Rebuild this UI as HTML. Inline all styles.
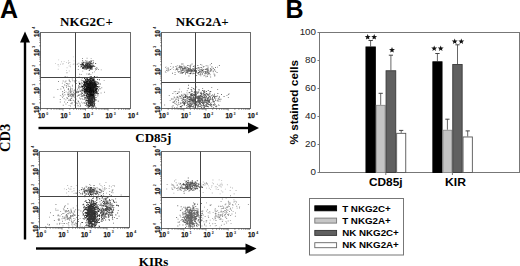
<!DOCTYPE html>
<html><head><meta charset="utf-8"><style>
html,body{margin:0;padding:0;background:#fff;width:520px;height:266px;overflow:hidden}
svg{display:block}
text{font-family:"Liberation Sans",sans-serif}
.pl{font-weight:bold;font-size:25px}
.ft{font-family:"Liberation Serif",serif;font-weight:bold;font-size:13px}
.ax{font-family:"Liberation Serif",serif;font-weight:bold;font-size:13px}
.tl{font-weight:bold;font-size:7.6px;fill:#111;stroke:#111;stroke-width:0.25px}
.sup{font-size:3.6px;font-weight:bold;fill:#222}
.yl{font-size:9.8px;fill:#222}
.yt{font-weight:bold;font-size:11.8px}
.xl{font-weight:bold;font-size:11.2px}
.st{font-weight:bold;font-size:12px}
.lg{font-weight:bold;font-size:9.3px}
</style></head><body>
<svg width="520" height="266" viewBox="0 0 520 266"><defs><filter id="bl" x="-5%" y="-5%" width="110%" height="110%"><feGaussianBlur stdDeviation="0.4"/></filter></defs><rect width="520" height="266" fill="#fff"/><text x="0" y="18" class="pl">A</text><text x="285.5" y="18" class="pl">B</text><text x="60" y="26.1" class="ft">NKG2C+</text><text x="175.8" y="26.1" class="ft">NKG2A+</text><g filter="url(#bl)"><path d="M86.8 66.3h.9v.9h-.9zM86.9 64.7h.9v.9h-.9zM84.9 64.9h.9v.9h-.9zM90.6 66.1h.9v.9h-.9zM90.4 65.8h.9v.9h-.9zM88.6 65.7h.9v.9h-.9zM82.8 67.0h.9v.9h-.9zM88.9 66.3h.9v.9h-.9zM82.8 61.8h.9v.9h-.9zM85.0 64.4h.9v.9h-.9zM88.4 65.2h.9v.9h-.9zM89.0 64.0h.9v.9h-.9zM88.4 66.1h.9v.9h-.9zM85.6 68.7h.9v.9h-.9zM89.1 67.7h.9v.9h-.9zM85.8 63.8h.9v.9h-.9zM86.5 65.1h.9v.9h-.9zM89.3 65.8h.9v.9h-.9zM86.2 63.4h.9v.9h-.9zM86.0 67.7h.9v.9h-.9zM85.2 65.8h.9v.9h-.9zM88.7 62.3h.9v.9h-.9zM87.6 67.9h.9v.9h-.9zM81.9 64.7h.9v.9h-.9zM87.2 63.7h.9v.9h-.9zM88.9 65.2h.9v.9h-.9zM83.4 67.0h.9v.9h-.9zM89.4 67.2h.9v.9h-.9zM91.5 66.0h.9v.9h-.9zM87.8 62.7h.9v.9h-.9zM89.2 64.1h.9v.9h-.9zM86.2 62.8h.9v.9h-.9zM84.8 64.2h.9v.9h-.9zM91.1 61.2h.9v.9h-.9zM83.4 65.8h.9v.9h-.9zM91.5 66.5h.9v.9h-.9zM82.2 60.3h.9v.9h-.9zM88.5 63.8h.9v.9h-.9zM84.4 67.3h.9v.9h-.9zM90.6 65.6h.9v.9h-.9zM88.2 66.2h.9v.9h-.9zM92.0 66.5h.9v.9h-.9zM89.0 66.4h.9v.9h-.9zM83.1 67.9h.9v.9h-.9zM90.2 66.4h.9v.9h-.9zM82.0 64.0h.9v.9h-.9zM89.9 61.7h.9v.9h-.9zM87.0 67.3h.9v.9h-.9zM83.8 68.5h.9v.9h-.9zM89.0 65.0h.9v.9h-.9zM88.4 66.6h.9v.9h-.9zM87.8 67.6h.9v.9h-.9zM85.6 64.5h.9v.9h-.9zM90.4 65.4h.9v.9h-.9zM85.0 67.2h.9v.9h-.9zM91.6 64.4h.9v.9h-.9zM83.6 65.0h.9v.9h-.9zM87.1 64.7h.9v.9h-.9zM91.4 63.2h.9v.9h-.9zM91.0 62.8h.9v.9h-.9zM85.3 66.6h.9v.9h-.9zM90.7 67.0h.9v.9h-.9zM88.5 65.6h.9v.9h-.9zM87.9 66.5h.9v.9h-.9zM87.0 65.9h.9v.9h-.9zM89.1 65.3h.9v.9h-.9zM89.6 66.4h.9v.9h-.9zM93.1 65.9h.9v.9h-.9zM86.3 64.6h.9v.9h-.9zM87.5 67.1h.9v.9h-.9zM86.6 66.1h.9v.9h-.9zM92.6 60.2h.9v.9h-.9zM84.4 65.8h.9v.9h-.9zM88.6 65.8h.9v.9h-.9zM86.3 66.6h.9v.9h-.9zM88.3 64.3h.9v.9h-.9zM94.3 66.0h.9v.9h-.9zM85.9 65.1h.9v.9h-.9zM86.9 65.2h.9v.9h-.9zM79.9 64.3h.9v.9h-.9zM90.3 63.0h.9v.9h-.9zM87.3 67.2h.9v.9h-.9zM89.9 68.3h.9v.9h-.9zM82.7 64.6h.9v.9h-.9zM86.5 66.5h.9v.9h-.9zM90.6 59.9h.9v.9h-.9zM90.5 62.4h.9v.9h-.9zM89.4 62.3h.9v.9h-.9zM88.0 67.7h.9v.9h-.9zM87.1 65.7h.9v.9h-.9zM89.7 65.6h.9v.9h-.9zM87.3 68.4h.9v.9h-.9zM90.4 64.7h.9v.9h-.9zM95.2 63.0h.9v.9h-.9zM90.1 64.8h.9v.9h-.9zM87.9 66.7h.9v.9h-.9zM88.1 66.6h.9v.9h-.9zM83.2 62.3h.9v.9h-.9zM89.2 63.4h.9v.9h-.9zM84.6 62.4h.9v.9h-.9zM91.0 66.8h.9v.9h-.9zM91.6 63.4h.9v.9h-.9zM87.5 63.0h.9v.9h-.9zM89.6 68.5h.9v.9h-.9zM85.0 68.4h.9v.9h-.9zM90.3 64.9h.9v.9h-.9zM82.0 68.1h.9v.9h-.9zM87.2 64.1h.9v.9h-.9zM88.6 66.1h.9v.9h-.9zM91.7 63.3h.9v.9h-.9zM90.7 68.3h.9v.9h-.9zM91.6 64.9h.9v.9h-.9zM85.4 67.3h.9v.9h-.9zM87.8 65.5h.9v.9h-.9zM91.5 64.8h.9v.9h-.9zM81.1 64.5h.9v.9h-.9zM82.3 66.9h.9v.9h-.9zM88.4 64.1h.9v.9h-.9zM87.5 67.0h.9v.9h-.9zM87.7 68.0h.9v.9h-.9zM87.3 67.4h.9v.9h-.9zM91.7 68.5h.9v.9h-.9zM85.6 67.1h.9v.9h-.9zM82.2 63.1h.9v.9h-.9zM82.0 67.4h.9v.9h-.9zM84.1 65.3h.9v.9h-.9zM87.0 65.2h.9v.9h-.9zM85.8 65.8h.9v.9h-.9zM92.5 65.4h.9v.9h-.9zM89.0 67.3h.9v.9h-.9zM86.9 62.8h.9v.9h-.9zM85.9 67.4h.9v.9h-.9zM82.9 64.1h.9v.9h-.9zM90.3 66.9h.9v.9h-.9zM87.5 66.9h.9v.9h-.9zM88.0 62.9h.9v.9h-.9zM83.1 64.0h.9v.9h-.9zM90.1 64.2h.9v.9h-.9zM85.0 63.8h.9v.9h-.9zM83.2 65.1h.9v.9h-.9zM84.2 66.0h.9v.9h-.9zM80.9 66.0h.9v.9h-.9zM85.7 61.4h.9v.9h-.9zM89.5 64.7h.9v.9h-.9zM81.3 63.5h.9v.9h-.9zM88.3 64.4h.9v.9h-.9zM89.7 66.8h.9v.9h-.9zM89.4 66.0h.9v.9h-.9zM91.2 66.6h.9v.9h-.9zM88.8 61.1h.9v.9h-.9zM90.0 67.9h.9v.9h-.9zM86.7 64.4h.9v.9h-.9zM92.9 61.8h.9v.9h-.9zM88.8 70.1h.9v.9h-.9zM84.9 66.7h.9v.9h-.9zM92.8 65.1h.9v.9h-.9zM89.1 67.1h.9v.9h-.9zM85.0 65.1h.9v.9h-.9zM88.3 67.0h.9v.9h-.9zM87.4 64.9h.9v.9h-.9z" fill="#000" fill-opacity="0.75"/><path d="M82.4 64.9h.9v.9h-.9zM92.0 66.3h.9v.9h-.9zM83.2 63.5h.9v.9h-.9zM100.8 69.4h.9v.9h-.9zM90.7 58.2h.9v.9h-.9zM90.6 67.4h.9v.9h-.9zM95.9 67.3h.9v.9h-.9zM87.2 67.6h.9v.9h-.9zM77.8 69.1h.9v.9h-.9zM89.1 63.9h.9v.9h-.9zM94.1 71.4h.9v.9h-.9zM80.5 64.0h.9v.9h-.9zM89.0 66.6h.9v.9h-.9zM85.5 63.1h.9v.9h-.9zM98.1 69.1h.9v.9h-.9zM81.5 62.0h.9v.9h-.9zM96.0 69.0h.9v.9h-.9zM96.6 68.4h.9v.9h-.9zM83.1 66.8h.9v.9h-.9zM76.7 63.8h.9v.9h-.9zM87.2 67.6h.9v.9h-.9zM83.9 65.6h.9v.9h-.9zM89.8 67.1h.9v.9h-.9zM90.7 66.6h.9v.9h-.9zM85.9 68.4h.9v.9h-.9zM87.7 63.5h.9v.9h-.9zM84.4 66.0h.9v.9h-.9zM87.0 66.5h.9v.9h-.9zM87.5 66.5h.9v.9h-.9zM86.8 62.2h.9v.9h-.9zM89.6 69.2h.9v.9h-.9zM89.7 65.4h.9v.9h-.9zM89.7 63.1h.9v.9h-.9zM78.0 66.2h.9v.9h-.9zM82.8 68.2h.9v.9h-.9zM82.1 58.1h.9v.9h-.9zM82.3 70.7h.9v.9h-.9zM85.6 61.9h.9v.9h-.9zM83.7 67.6h.9v.9h-.9zM90.0 66.5h.9v.9h-.9zM94.9 68.1h.9v.9h-.9zM87.4 67.8h.9v.9h-.9zM95.8 68.9h.9v.9h-.9zM92.6 62.8h.9v.9h-.9zM86.8 68.2h.9v.9h-.9zM86.0 69.2h.9v.9h-.9zM90.5 68.7h.9v.9h-.9zM86.4 73.6h.9v.9h-.9zM93.7 65.4h.9v.9h-.9zM88.0 73.8h.9v.9h-.9zM85.8 68.6h.9v.9h-.9zM92.4 66.0h.9v.9h-.9zM81.7 66.6h.9v.9h-.9zM89.3 69.4h.9v.9h-.9zM91.4 66.1h.9v.9h-.9zM91.8 67.6h.9v.9h-.9zM88.5 66.2h.9v.9h-.9zM86.3 68.1h.9v.9h-.9zM82.2 64.1h.9v.9h-.9zM87.5 61.6h.9v.9h-.9zM85.3 60.0h.9v.9h-.9zM84.1 67.7h.9v.9h-.9zM90.3 65.8h.9v.9h-.9zM86.3 61.7h.9v.9h-.9zM96.6 67.5h.9v.9h-.9zM93.0 63.4h.9v.9h-.9zM86.6 60.5h.9v.9h-.9zM91.4 68.8h.9v.9h-.9zM78.0 65.8h.9v.9h-.9zM90.7 60.7h.9v.9h-.9zM78.4 62.8h.9v.9h-.9zM84.4 61.8h.9v.9h-.9zM87.7 66.7h.9v.9h-.9zM90.7 68.1h.9v.9h-.9zM95.0 69.5h.9v.9h-.9zM80.9 64.5h.9v.9h-.9zM82.2 62.8h.9v.9h-.9zM87.1 66.0h.9v.9h-.9zM90.0 61.2h.9v.9h-.9zM81.3 65.9h.9v.9h-.9zM86.5 65.1h.9v.9h-.9zM87.2 63.7h.9v.9h-.9zM91.0 67.1h.9v.9h-.9zM87.1 64.0h.9v.9h-.9zM86.6 57.8h.9v.9h-.9zM82.6 66.1h.9v.9h-.9zM80.0 66.6h.9v.9h-.9zM88.2 61.9h.9v.9h-.9zM86.2 65.1h.9v.9h-.9zM89.8 67.8h.9v.9h-.9z" fill="#000" fill-opacity="0.45"/><path d="M63.7 60.9h.9v.9h-.9zM62.8 63.3h.9v.9h-.9zM69.9 64.4h.9v.9h-.9zM58.2 59.4h.9v.9h-.9zM61.0 61.3h.9v.9h-.9zM55.1 63.2h.9v.9h-.9zM60.1 63.8h.9v.9h-.9zM68.2 62.3h.9v.9h-.9zM82.6 62.5h.9v.9h-.9zM72.8 63.9h.9v.9h-.9zM72.9 56.4h.9v.9h-.9zM58.0 64.2h.9v.9h-.9zM68.8 70.5h.9v.9h-.9zM66.6 67.3h.9v.9h-.9zM70.1 66.3h.9v.9h-.9zM68.1 63.0h.9v.9h-.9zM68.1 60.3h.9v.9h-.9zM73.5 60.4h.9v.9h-.9zM66.0 69.9h.9v.9h-.9zM62.2 63.6h.9v.9h-.9zM73.3 63.6h.9v.9h-.9zM57.5 64.3h.9v.9h-.9zM68.7 65.6h.9v.9h-.9zM57.8 68.8h.9v.9h-.9zM77.3 63.6h.9v.9h-.9zM66.1 62.2h.9v.9h-.9zM75.3 61.4h.9v.9h-.9zM69.4 62.1h.9v.9h-.9zM58.4 65.7h.9v.9h-.9zM74.7 63.5h.9v.9h-.9z" fill="#000" fill-opacity="0.25"/><path d="M87.8 88.9h.9v.9h-.9zM89.8 87.1h.9v.9h-.9zM94.9 90.1h.9v.9h-.9zM88.3 94.2h.9v.9h-.9zM90.0 88.8h.9v.9h-.9zM87.9 85.8h.9v.9h-.9zM84.4 92.4h.9v.9h-.9zM94.4 81.6h.9v.9h-.9zM85.2 80.2h.9v.9h-.9zM93.8 84.3h.9v.9h-.9zM89.8 84.9h.9v.9h-.9zM89.6 82.1h.9v.9h-.9zM90.1 80.8h.9v.9h-.9zM89.8 87.1h.9v.9h-.9zM91.5 85.2h.9v.9h-.9zM87.1 86.6h.9v.9h-.9zM88.4 91.6h.9v.9h-.9zM92.5 85.6h.9v.9h-.9zM88.5 83.5h.9v.9h-.9zM87.0 84.7h.9v.9h-.9zM90.9 87.9h.9v.9h-.9zM91.8 93.6h.9v.9h-.9zM87.7 86.0h.9v.9h-.9zM98.9 79.3h.9v.9h-.9zM88.3 86.6h.9v.9h-.9zM90.5 87.5h.9v.9h-.9zM89.2 87.3h.9v.9h-.9zM90.2 88.8h.9v.9h-.9zM83.9 82.8h.9v.9h-.9zM90.0 82.3h.9v.9h-.9zM86.7 88.3h.9v.9h-.9zM87.9 88.3h.9v.9h-.9zM92.4 87.1h.9v.9h-.9zM91.6 85.6h.9v.9h-.9zM85.5 85.9h.9v.9h-.9zM91.5 84.1h.9v.9h-.9zM89.7 88.7h.9v.9h-.9zM87.2 88.3h.9v.9h-.9zM96.0 84.0h.9v.9h-.9zM90.5 85.5h.9v.9h-.9zM94.9 87.1h.9v.9h-.9zM92.9 83.5h.9v.9h-.9zM89.9 86.0h.9v.9h-.9zM84.3 91.2h.9v.9h-.9zM92.9 79.7h.9v.9h-.9zM92.4 85.5h.9v.9h-.9zM91.4 87.3h.9v.9h-.9zM85.2 85.2h.9v.9h-.9zM94.8 83.9h.9v.9h-.9zM86.7 81.1h.9v.9h-.9zM86.1 87.2h.9v.9h-.9zM95.4 87.5h.9v.9h-.9zM90.8 94.0h.9v.9h-.9zM88.3 83.6h.9v.9h-.9zM91.7 88.0h.9v.9h-.9zM86.8 81.8h.9v.9h-.9zM90.9 86.9h.9v.9h-.9zM85.8 85.3h.9v.9h-.9zM88.3 87.7h.9v.9h-.9zM89.6 85.7h.9v.9h-.9zM88.9 89.8h.9v.9h-.9zM94.5 84.7h.9v.9h-.9zM92.7 83.3h.9v.9h-.9zM90.2 88.7h.9v.9h-.9zM94.8 84.6h.9v.9h-.9zM89.8 86.7h.9v.9h-.9zM85.2 86.1h.9v.9h-.9zM87.8 87.3h.9v.9h-.9zM86.4 78.9h.9v.9h-.9zM90.1 86.9h.9v.9h-.9zM88.2 89.2h.9v.9h-.9zM89.1 83.8h.9v.9h-.9zM91.5 80.4h.9v.9h-.9zM87.8 85.9h.9v.9h-.9zM92.7 85.4h.9v.9h-.9zM91.0 83.6h.9v.9h-.9zM91.0 92.0h.9v.9h-.9zM87.8 94.5h.9v.9h-.9zM87.9 86.1h.9v.9h-.9zM90.6 89.7h.9v.9h-.9zM86.0 78.4h.9v.9h-.9zM91.9 88.9h.9v.9h-.9zM92.0 95.5h.9v.9h-.9zM90.7 86.9h.9v.9h-.9zM93.0 87.3h.9v.9h-.9zM95.3 81.5h.9v.9h-.9zM88.8 73.6h.9v.9h-.9zM92.6 84.7h.9v.9h-.9zM93.0 93.8h.9v.9h-.9zM90.0 85.1h.9v.9h-.9zM88.4 83.0h.9v.9h-.9zM88.0 88.3h.9v.9h-.9zM90.1 86.2h.9v.9h-.9zM89.4 89.3h.9v.9h-.9zM91.6 85.5h.9v.9h-.9zM92.1 85.5h.9v.9h-.9zM86.3 91.2h.9v.9h-.9zM91.5 82.6h.9v.9h-.9zM93.5 87.2h.9v.9h-.9zM85.0 91.8h.9v.9h-.9zM91.1 89.2h.9v.9h-.9zM90.6 85.5h.9v.9h-.9zM85.0 89.5h.9v.9h-.9zM90.1 85.0h.9v.9h-.9zM91.1 86.3h.9v.9h-.9zM92.2 84.7h.9v.9h-.9zM89.9 78.3h.9v.9h-.9zM88.6 88.4h.9v.9h-.9zM94.3 84.7h.9v.9h-.9zM89.6 91.7h.9v.9h-.9zM89.0 88.6h.9v.9h-.9zM95.4 86.1h.9v.9h-.9zM93.9 83.4h.9v.9h-.9zM90.7 85.7h.9v.9h-.9zM90.4 90.1h.9v.9h-.9zM97.6 83.6h.9v.9h-.9zM88.2 87.8h.9v.9h-.9zM86.6 87.8h.9v.9h-.9zM91.8 85.0h.9v.9h-.9zM91.7 80.4h.9v.9h-.9zM92.4 80.4h.9v.9h-.9zM87.8 84.0h.9v.9h-.9zM88.7 89.1h.9v.9h-.9zM90.3 84.6h.9v.9h-.9zM91.7 91.7h.9v.9h-.9zM90.0 87.3h.9v.9h-.9zM94.0 87.0h.9v.9h-.9zM85.9 95.0h.9v.9h-.9zM97.1 78.9h.9v.9h-.9zM89.9 87.5h.9v.9h-.9zM93.1 88.4h.9v.9h-.9zM89.1 82.2h.9v.9h-.9zM90.3 89.7h.9v.9h-.9zM86.5 82.3h.9v.9h-.9zM89.9 79.0h.9v.9h-.9zM89.2 84.4h.9v.9h-.9zM91.4 83.5h.9v.9h-.9zM87.2 84.6h.9v.9h-.9zM89.8 83.6h.9v.9h-.9zM90.0 88.7h.9v.9h-.9zM93.8 92.1h.9v.9h-.9zM87.5 84.5h.9v.9h-.9zM82.1 92.8h.9v.9h-.9zM87.7 85.9h.9v.9h-.9zM91.7 81.1h.9v.9h-.9zM91.5 85.9h.9v.9h-.9zM84.2 87.1h.9v.9h-.9zM93.8 79.3h.9v.9h-.9zM92.6 86.8h.9v.9h-.9zM91.5 87.6h.9v.9h-.9zM94.2 85.2h.9v.9h-.9zM92.8 84.5h.9v.9h-.9zM92.3 83.1h.9v.9h-.9zM89.7 92.2h.9v.9h-.9zM91.4 85.4h.9v.9h-.9zM86.3 83.2h.9v.9h-.9zM90.6 89.4h.9v.9h-.9zM91.4 87.9h.9v.9h-.9zM89.9 90.9h.9v.9h-.9zM88.7 84.0h.9v.9h-.9zM92.8 86.2h.9v.9h-.9zM89.1 83.9h.9v.9h-.9zM89.2 88.2h.9v.9h-.9zM91.1 81.6h.9v.9h-.9zM91.4 86.6h.9v.9h-.9zM86.8 88.8h.9v.9h-.9zM89.1 84.8h.9v.9h-.9zM92.5 90.8h.9v.9h-.9zM87.8 87.6h.9v.9h-.9zM87.2 94.3h.9v.9h-.9zM88.4 90.3h.9v.9h-.9zM87.9 88.9h.9v.9h-.9zM97.1 76.9h.9v.9h-.9zM88.6 87.8h.9v.9h-.9zM89.7 83.6h.9v.9h-.9zM96.9 86.3h.9v.9h-.9zM84.7 89.1h.9v.9h-.9zM84.5 90.1h.9v.9h-.9zM88.2 86.5h.9v.9h-.9zM94.0 86.4h.9v.9h-.9zM85.5 79.9h.9v.9h-.9zM93.8 88.7h.9v.9h-.9zM87.4 89.1h.9v.9h-.9zM91.6 88.3h.9v.9h-.9zM82.8 84.9h.9v.9h-.9zM92.9 88.6h.9v.9h-.9zM92.8 77.2h.9v.9h-.9zM90.5 87.8h.9v.9h-.9zM98.2 82.6h.9v.9h-.9zM88.9 86.1h.9v.9h-.9zM92.8 84.4h.9v.9h-.9zM93.7 83.2h.9v.9h-.9zM90.9 84.1h.9v.9h-.9zM90.5 83.5h.9v.9h-.9zM84.9 89.9h.9v.9h-.9zM91.0 84.0h.9v.9h-.9zM90.6 89.6h.9v.9h-.9zM86.9 85.6h.9v.9h-.9zM91.7 87.9h.9v.9h-.9zM88.9 78.4h.9v.9h-.9zM94.0 87.2h.9v.9h-.9zM90.0 85.0h.9v.9h-.9zM90.8 84.5h.9v.9h-.9zM86.7 83.3h.9v.9h-.9zM88.1 83.8h.9v.9h-.9zM86.3 88.3h.9v.9h-.9zM85.8 88.4h.9v.9h-.9zM86.8 87.3h.9v.9h-.9zM94.4 86.7h.9v.9h-.9zM87.7 86.2h.9v.9h-.9zM90.5 79.8h.9v.9h-.9zM88.1 86.6h.9v.9h-.9zM88.5 86.3h.9v.9h-.9zM92.3 88.8h.9v.9h-.9zM92.9 88.1h.9v.9h-.9zM89.1 85.9h.9v.9h-.9zM89.1 84.9h.9v.9h-.9zM89.4 79.8h.9v.9h-.9zM88.9 85.9h.9v.9h-.9zM86.9 85.9h.9v.9h-.9zM91.6 85.4h.9v.9h-.9zM96.6 76.6h.9v.9h-.9zM89.3 79.4h.9v.9h-.9zM93.1 95.6h.9v.9h-.9zM82.0 86.5h.9v.9h-.9zM91.7 84.9h.9v.9h-.9zM91.8 77.9h.9v.9h-.9zM92.7 87.3h.9v.9h-.9zM90.1 83.9h.9v.9h-.9zM92.0 84.3h.9v.9h-.9zM90.7 84.2h.9v.9h-.9zM82.8 85.9h.9v.9h-.9zM90.6 88.7h.9v.9h-.9zM87.2 85.9h.9v.9h-.9zM92.0 86.5h.9v.9h-.9zM94.0 93.2h.9v.9h-.9zM87.1 79.1h.9v.9h-.9zM92.7 91.5h.9v.9h-.9zM93.0 88.9h.9v.9h-.9zM88.0 83.4h.9v.9h-.9zM92.8 82.7h.9v.9h-.9zM84.2 82.4h.9v.9h-.9zM98.0 92.9h.9v.9h-.9zM87.8 83.4h.9v.9h-.9zM90.7 83.3h.9v.9h-.9zM94.2 85.7h.9v.9h-.9zM86.5 90.7h.9v.9h-.9zM88.1 86.8h.9v.9h-.9zM90.0 84.9h.9v.9h-.9zM91.0 83.5h.9v.9h-.9zM84.1 78.1h.9v.9h-.9zM85.9 83.3h.9v.9h-.9zM89.9 86.2h.9v.9h-.9zM91.8 86.4h.9v.9h-.9zM87.5 83.4h.9v.9h-.9zM83.2 85.4h.9v.9h-.9zM91.6 87.9h.9v.9h-.9zM89.6 85.4h.9v.9h-.9zM93.0 86.1h.9v.9h-.9zM92.4 88.1h.9v.9h-.9zM90.7 90.7h.9v.9h-.9zM88.2 84.7h.9v.9h-.9zM87.4 83.1h.9v.9h-.9zM95.0 92.3h.9v.9h-.9zM90.1 88.0h.9v.9h-.9zM93.8 88.9h.9v.9h-.9zM93.9 81.5h.9v.9h-.9zM88.0 87.6h.9v.9h-.9zM94.6 86.4h.9v.9h-.9zM87.3 84.7h.9v.9h-.9zM87.9 82.9h.9v.9h-.9zM94.8 83.7h.9v.9h-.9zM90.1 93.8h.9v.9h-.9zM93.8 87.2h.9v.9h-.9zM88.0 87.5h.9v.9h-.9zM95.2 88.2h.9v.9h-.9zM94.0 86.4h.9v.9h-.9zM91.7 85.3h.9v.9h-.9zM91.4 90.7h.9v.9h-.9zM85.4 85.8h.9v.9h-.9zM90.8 83.9h.9v.9h-.9zM89.0 88.8h.9v.9h-.9zM96.4 88.3h.9v.9h-.9zM91.0 80.4h.9v.9h-.9zM96.2 86.3h.9v.9h-.9zM89.9 82.0h.9v.9h-.9zM89.8 82.1h.9v.9h-.9zM90.2 87.7h.9v.9h-.9zM90.1 87.0h.9v.9h-.9zM87.3 91.1h.9v.9h-.9zM87.9 79.5h.9v.9h-.9zM89.4 83.3h.9v.9h-.9zM86.8 84.7h.9v.9h-.9zM90.9 81.7h.9v.9h-.9zM89.6 91.1h.9v.9h-.9zM92.2 85.5h.9v.9h-.9zM90.4 85.6h.9v.9h-.9zM89.8 88.6h.9v.9h-.9zM89.7 77.3h.9v.9h-.9zM89.9 82.8h.9v.9h-.9zM92.1 83.8h.9v.9h-.9zM90.5 93.8h.9v.9h-.9zM86.6 82.0h.9v.9h-.9zM85.5 77.4h.9v.9h-.9zM84.0 87.3h.9v.9h-.9zM88.0 79.3h.9v.9h-.9zM85.3 88.2h.9v.9h-.9zM87.5 84.7h.9v.9h-.9zM91.1 90.9h.9v.9h-.9zM96.2 89.7h.9v.9h-.9zM90.5 86.7h.9v.9h-.9zM95.8 91.1h.9v.9h-.9zM89.0 87.6h.9v.9h-.9zM90.9 86.2h.9v.9h-.9zM88.4 81.2h.9v.9h-.9zM88.3 80.4h.9v.9h-.9zM93.9 87.9h.9v.9h-.9zM86.1 91.0h.9v.9h-.9zM92.9 79.1h.9v.9h-.9zM95.9 88.9h.9v.9h-.9zM96.6 81.6h.9v.9h-.9zM91.7 87.5h.9v.9h-.9zM90.6 86.6h.9v.9h-.9zM93.4 80.6h.9v.9h-.9zM86.0 81.0h.9v.9h-.9zM88.2 83.8h.9v.9h-.9zM91.2 87.0h.9v.9h-.9zM90.1 83.6h.9v.9h-.9zM88.6 89.4h.9v.9h-.9zM92.4 86.4h.9v.9h-.9zM89.0 91.6h.9v.9h-.9zM88.1 88.3h.9v.9h-.9zM93.7 85.0h.9v.9h-.9zM92.6 82.0h.9v.9h-.9zM93.2 86.7h.9v.9h-.9zM84.9 88.4h.9v.9h-.9zM87.1 90.6h.9v.9h-.9zM87.8 85.4h.9v.9h-.9zM90.9 84.8h.9v.9h-.9zM90.8 84.0h.9v.9h-.9zM92.1 86.0h.9v.9h-.9zM90.7 76.1h.9v.9h-.9zM93.7 86.1h.9v.9h-.9zM84.3 86.3h.9v.9h-.9zM91.5 89.9h.9v.9h-.9zM86.5 91.6h.9v.9h-.9zM89.5 94.6h.9v.9h-.9zM89.5 88.4h.9v.9h-.9zM88.8 82.0h.9v.9h-.9zM93.5 89.3h.9v.9h-.9zM94.9 89.1h.9v.9h-.9zM88.2 80.0h.9v.9h-.9zM87.9 83.6h.9v.9h-.9zM87.4 88.1h.9v.9h-.9zM91.0 85.0h.9v.9h-.9zM90.6 85.5h.9v.9h-.9zM90.7 88.7h.9v.9h-.9zM93.1 83.5h.9v.9h-.9zM85.2 91.1h.9v.9h-.9zM90.4 90.0h.9v.9h-.9zM84.7 84.8h.9v.9h-.9zM90.1 80.8h.9v.9h-.9zM88.3 88.6h.9v.9h-.9zM93.5 91.7h.9v.9h-.9zM87.2 81.0h.9v.9h-.9zM91.7 89.4h.9v.9h-.9zM90.6 81.3h.9v.9h-.9zM92.5 88.9h.9v.9h-.9zM91.8 84.2h.9v.9h-.9zM91.0 88.8h.9v.9h-.9zM88.2 79.4h.9v.9h-.9zM91.1 87.7h.9v.9h-.9zM90.0 89.2h.9v.9h-.9zM88.1 85.7h.9v.9h-.9zM89.0 88.1h.9v.9h-.9zM95.1 85.1h.9v.9h-.9zM96.6 91.5h.9v.9h-.9zM92.5 88.1h.9v.9h-.9zM95.7 85.4h.9v.9h-.9zM89.6 82.2h.9v.9h-.9zM91.5 90.8h.9v.9h-.9zM91.7 87.5h.9v.9h-.9zM89.4 86.6h.9v.9h-.9zM85.4 89.8h.9v.9h-.9zM88.7 82.0h.9v.9h-.9zM87.6 83.0h.9v.9h-.9zM92.7 89.8h.9v.9h-.9zM85.7 89.3h.9v.9h-.9zM92.8 83.9h.9v.9h-.9zM85.2 83.3h.9v.9h-.9zM88.0 87.2h.9v.9h-.9zM88.9 78.7h.9v.9h-.9zM90.7 80.5h.9v.9h-.9zM92.9 81.7h.9v.9h-.9zM87.8 82.9h.9v.9h-.9zM88.3 90.7h.9v.9h-.9zM92.7 88.2h.9v.9h-.9zM91.0 80.4h.9v.9h-.9zM88.3 84.0h.9v.9h-.9zM86.9 87.8h.9v.9h-.9zM87.6 83.4h.9v.9h-.9zM86.7 78.6h.9v.9h-.9zM91.9 90.8h.9v.9h-.9zM90.6 82.5h.9v.9h-.9zM81.3 86.6h.9v.9h-.9zM93.9 87.1h.9v.9h-.9zM93.0 91.3h.9v.9h-.9zM93.6 84.4h.9v.9h-.9zM93.4 88.8h.9v.9h-.9zM85.1 84.5h.9v.9h-.9zM85.4 85.6h.9v.9h-.9zM91.9 82.2h.9v.9h-.9zM83.4 90.7h.9v.9h-.9zM91.2 91.3h.9v.9h-.9zM85.8 89.8h.9v.9h-.9zM96.6 93.2h.9v.9h-.9zM89.3 87.0h.9v.9h-.9zM89.5 89.6h.9v.9h-.9zM93.3 86.3h.9v.9h-.9zM85.7 88.7h.9v.9h-.9zM88.5 88.3h.9v.9h-.9zM90.8 91.8h.9v.9h-.9zM93.6 84.4h.9v.9h-.9zM91.1 92.4h.9v.9h-.9zM88.3 87.6h.9v.9h-.9zM93.8 90.5h.9v.9h-.9zM91.7 81.2h.9v.9h-.9zM86.0 86.9h.9v.9h-.9zM91.2 95.2h.9v.9h-.9zM87.2 90.1h.9v.9h-.9zM92.5 80.0h.9v.9h-.9zM87.4 86.6h.9v.9h-.9zM88.4 85.4h.9v.9h-.9zM91.5 83.1h.9v.9h-.9zM91.5 83.7h.9v.9h-.9zM88.3 87.9h.9v.9h-.9zM88.2 87.0h.9v.9h-.9zM95.1 86.1h.9v.9h-.9zM89.5 88.6h.9v.9h-.9zM88.8 89.9h.9v.9h-.9zM85.9 88.2h.9v.9h-.9zM88.4 83.1h.9v.9h-.9zM95.7 82.9h.9v.9h-.9zM95.6 88.4h.9v.9h-.9zM94.6 82.5h.9v.9h-.9zM93.8 91.2h.9v.9h-.9zM89.6 85.5h.9v.9h-.9zM97.9 86.6h.9v.9h-.9zM88.6 83.7h.9v.9h-.9zM91.4 87.2h.9v.9h-.9zM90.6 92.2h.9v.9h-.9zM89.0 87.7h.9v.9h-.9zM94.7 82.4h.9v.9h-.9zM93.3 92.6h.9v.9h-.9zM85.7 82.0h.9v.9h-.9zM86.7 79.4h.9v.9h-.9zM91.4 79.3h.9v.9h-.9zM91.6 91.2h.9v.9h-.9zM84.8 84.9h.9v.9h-.9zM83.9 88.8h.9v.9h-.9zM87.6 85.0h.9v.9h-.9zM90.2 88.0h.9v.9h-.9zM88.9 86.1h.9v.9h-.9zM88.3 86.4h.9v.9h-.9zM86.2 86.2h.9v.9h-.9zM83.8 84.2h.9v.9h-.9zM96.1 86.3h.9v.9h-.9zM86.0 86.9h.9v.9h-.9zM86.9 80.1h.9v.9h-.9zM87.6 88.7h.9v.9h-.9zM91.2 85.7h.9v.9h-.9zM87.0 82.1h.9v.9h-.9zM94.3 86.9h.9v.9h-.9zM87.0 78.4h.9v.9h-.9zM85.6 94.9h.9v.9h-.9zM86.3 85.7h.9v.9h-.9zM90.7 85.4h.9v.9h-.9zM89.1 81.1h.9v.9h-.9zM86.6 92.1h.9v.9h-.9zM87.6 89.0h.9v.9h-.9zM84.6 85.0h.9v.9h-.9zM90.8 89.7h.9v.9h-.9zM86.4 88.1h.9v.9h-.9zM91.2 83.3h.9v.9h-.9zM91.5 82.8h.9v.9h-.9zM87.5 85.9h.9v.9h-.9zM81.3 85.6h.9v.9h-.9zM86.8 80.7h.9v.9h-.9zM88.6 88.7h.9v.9h-.9zM88.7 90.6h.9v.9h-.9zM86.3 81.3h.9v.9h-.9zM95.0 87.4h.9v.9h-.9zM93.0 83.0h.9v.9h-.9zM92.6 86.9h.9v.9h-.9zM92.1 86.1h.9v.9h-.9zM93.9 83.7h.9v.9h-.9zM86.9 80.7h.9v.9h-.9zM93.7 83.3h.9v.9h-.9zM86.7 82.6h.9v.9h-.9zM88.6 81.4h.9v.9h-.9zM89.1 83.7h.9v.9h-.9zM88.2 82.5h.9v.9h-.9zM90.1 84.3h.9v.9h-.9zM90.4 86.9h.9v.9h-.9zM91.1 78.1h.9v.9h-.9zM88.3 83.1h.9v.9h-.9zM92.5 80.3h.9v.9h-.9zM87.7 84.9h.9v.9h-.9zM88.9 89.6h.9v.9h-.9zM88.6 89.5h.9v.9h-.9zM85.3 79.5h.9v.9h-.9zM93.9 87.6h.9v.9h-.9zM91.6 86.4h.9v.9h-.9zM91.5 81.6h.9v.9h-.9zM93.0 84.1h.9v.9h-.9zM93.2 86.3h.9v.9h-.9zM83.7 81.4h.9v.9h-.9zM93.6 85.5h.9v.9h-.9zM88.7 86.9h.9v.9h-.9zM88.6 84.0h.9v.9h-.9zM90.3 86.5h.9v.9h-.9zM94.9 86.2h.9v.9h-.9zM96.0 92.5h.9v.9h-.9zM95.5 89.8h.9v.9h-.9zM90.4 86.5h.9v.9h-.9zM89.5 83.4h.9v.9h-.9zM89.8 83.7h.9v.9h-.9zM95.2 87.9h.9v.9h-.9zM88.6 79.1h.9v.9h-.9zM89.8 84.5h.9v.9h-.9zM86.5 81.9h.9v.9h-.9zM82.8 88.0h.9v.9h-.9zM89.8 95.3h.9v.9h-.9zM89.9 85.5h.9v.9h-.9zM94.6 86.5h.9v.9h-.9zM90.5 84.7h.9v.9h-.9zM88.1 91.4h.9v.9h-.9zM93.2 92.2h.9v.9h-.9zM88.9 86.1h.9v.9h-.9zM87.2 89.5h.9v.9h-.9zM85.5 88.0h.9v.9h-.9zM93.5 91.1h.9v.9h-.9zM87.0 89.9h.9v.9h-.9zM87.7 83.3h.9v.9h-.9zM85.8 90.2h.9v.9h-.9zM95.3 83.9h.9v.9h-.9zM87.6 84.8h.9v.9h-.9zM98.0 89.6h.9v.9h-.9zM88.3 79.5h.9v.9h-.9zM87.8 90.3h.9v.9h-.9zM96.0 85.0h.9v.9h-.9zM87.8 84.2h.9v.9h-.9zM84.0 89.3h.9v.9h-.9zM86.5 89.8h.9v.9h-.9zM84.5 81.4h.9v.9h-.9zM90.9 83.3h.9v.9h-.9zM92.5 86.0h.9v.9h-.9zM86.2 88.2h.9v.9h-.9zM92.7 79.1h.9v.9h-.9zM95.8 87.8h.9v.9h-.9zM92.4 79.3h.9v.9h-.9zM87.7 84.7h.9v.9h-.9zM93.4 80.7h.9v.9h-.9zM87.2 78.7h.9v.9h-.9zM89.2 87.2h.9v.9h-.9zM84.6 83.9h.9v.9h-.9zM91.6 91.7h.9v.9h-.9zM92.1 84.9h.9v.9h-.9zM86.2 82.6h.9v.9h-.9zM87.9 86.5h.9v.9h-.9zM89.8 92.0h.9v.9h-.9zM90.9 82.1h.9v.9h-.9zM94.9 89.4h.9v.9h-.9zM90.3 83.4h.9v.9h-.9zM84.0 82.3h.9v.9h-.9zM92.9 83.1h.9v.9h-.9zM85.8 86.7h.9v.9h-.9zM90.8 88.2h.9v.9h-.9zM92.1 91.1h.9v.9h-.9zM87.3 89.5h.9v.9h-.9zM86.8 88.5h.9v.9h-.9zM90.6 86.9h.9v.9h-.9zM93.1 85.9h.9v.9h-.9zM93.6 89.2h.9v.9h-.9zM90.4 84.0h.9v.9h-.9zM87.6 84.1h.9v.9h-.9zM89.4 85.9h.9v.9h-.9zM99.5 88.3h.9v.9h-.9zM92.5 82.9h.9v.9h-.9zM87.7 84.9h.9v.9h-.9zM90.6 82.3h.9v.9h-.9zM95.2 84.0h.9v.9h-.9zM93.5 77.6h.9v.9h-.9zM90.0 87.0h.9v.9h-.9zM90.6 88.2h.9v.9h-.9zM90.9 86.6h.9v.9h-.9zM83.9 83.4h.9v.9h-.9zM82.5 88.3h.9v.9h-.9zM91.0 85.3h.9v.9h-.9zM87.4 83.9h.9v.9h-.9zM95.9 92.2h.9v.9h-.9zM89.8 90.6h.9v.9h-.9zM84.9 79.0h.9v.9h-.9zM88.5 82.9h.9v.9h-.9zM88.2 86.7h.9v.9h-.9zM99.7 83.6h.9v.9h-.9zM90.2 87.0h.9v.9h-.9zM89.9 89.4h.9v.9h-.9zM95.7 81.5h.9v.9h-.9zM90.5 85.0h.9v.9h-.9zM91.1 80.5h.9v.9h-.9zM84.4 77.7h.9v.9h-.9zM91.7 86.7h.9v.9h-.9zM90.2 77.5h.9v.9h-.9zM88.8 83.3h.9v.9h-.9zM85.5 82.7h.9v.9h-.9zM92.2 88.0h.9v.9h-.9zM89.9 87.9h.9v.9h-.9zM88.1 86.3h.9v.9h-.9zM90.1 88.0h.9v.9h-.9zM89.8 85.5h.9v.9h-.9zM89.6 83.7h.9v.9h-.9zM97.1 87.9h.9v.9h-.9zM91.4 94.2h.9v.9h-.9zM94.5 80.4h.9v.9h-.9zM92.2 89.0h.9v.9h-.9zM96.0 90.7h.9v.9h-.9zM92.5 81.8h.9v.9h-.9zM87.2 87.0h.9v.9h-.9zM91.6 82.3h.9v.9h-.9zM88.8 84.6h.9v.9h-.9zM90.2 87.2h.9v.9h-.9zM89.1 81.5h.9v.9h-.9zM94.0 91.7h.9v.9h-.9zM89.7 89.7h.9v.9h-.9zM91.4 88.4h.9v.9h-.9zM91.5 83.3h.9v.9h-.9zM91.8 89.6h.9v.9h-.9zM87.1 93.1h.9v.9h-.9zM96.7 92.6h.9v.9h-.9zM96.4 88.7h.9v.9h-.9zM88.9 83.8h.9v.9h-.9zM87.4 86.4h.9v.9h-.9zM89.9 88.4h.9v.9h-.9zM83.5 94.3h.9v.9h-.9zM97.3 85.9h.9v.9h-.9zM92.2 87.7h.9v.9h-.9zM90.9 85.2h.9v.9h-.9zM89.6 83.0h.9v.9h-.9zM90.6 85.9h.9v.9h-.9zM91.0 82.9h.9v.9h-.9zM90.1 86.2h.9v.9h-.9zM91.9 82.2h.9v.9h-.9zM91.3 89.5h.9v.9h-.9zM91.9 84.7h.9v.9h-.9zM88.4 85.1h.9v.9h-.9zM92.3 91.6h.9v.9h-.9zM89.5 83.7h.9v.9h-.9zM91.2 86.7h.9v.9h-.9zM87.1 83.3h.9v.9h-.9zM89.7 88.4h.9v.9h-.9zM86.2 82.3h.9v.9h-.9zM91.6 81.6h.9v.9h-.9zM90.3 87.3h.9v.9h-.9zM89.6 82.3h.9v.9h-.9zM89.8 84.8h.9v.9h-.9zM91.1 83.0h.9v.9h-.9zM93.5 80.0h.9v.9h-.9zM89.4 86.0h.9v.9h-.9zM93.1 83.8h.9v.9h-.9zM91.7 84.0h.9v.9h-.9zM92.4 92.3h.9v.9h-.9zM88.7 87.6h.9v.9h-.9zM87.0 89.5h.9v.9h-.9zM93.9 86.1h.9v.9h-.9zM86.4 87.4h.9v.9h-.9zM93.7 89.9h.9v.9h-.9zM92.6 79.4h.9v.9h-.9zM87.8 91.1h.9v.9h-.9zM86.1 90.1h.9v.9h-.9zM96.0 88.7h.9v.9h-.9zM93.6 84.8h.9v.9h-.9zM86.1 85.6h.9v.9h-.9zM89.4 85.8h.9v.9h-.9zM92.2 85.5h.9v.9h-.9zM90.6 87.5h.9v.9h-.9zM90.0 92.6h.9v.9h-.9zM91.4 86.3h.9v.9h-.9zM89.3 83.7h.9v.9h-.9zM94.3 86.5h.9v.9h-.9zM86.5 84.0h.9v.9h-.9zM89.6 84.4h.9v.9h-.9zM93.5 81.8h.9v.9h-.9zM91.6 86.5h.9v.9h-.9zM86.2 86.2h.9v.9h-.9zM89.7 87.8h.9v.9h-.9zM88.6 87.1h.9v.9h-.9zM84.7 82.1h.9v.9h-.9zM92.5 89.7h.9v.9h-.9zM90.0 83.8h.9v.9h-.9zM93.5 78.5h.9v.9h-.9zM87.4 88.4h.9v.9h-.9zM92.1 82.3h.9v.9h-.9zM84.0 91.2h.9v.9h-.9zM90.5 82.8h.9v.9h-.9zM90.2 89.2h.9v.9h-.9zM81.7 90.0h.9v.9h-.9zM92.4 78.5h.9v.9h-.9zM92.5 79.6h.9v.9h-.9zM93.6 87.4h.9v.9h-.9zM97.2 83.8h.9v.9h-.9zM90.0 89.8h.9v.9h-.9zM88.0 83.5h.9v.9h-.9zM88.8 85.7h.9v.9h-.9zM86.5 87.7h.9v.9h-.9zM91.7 86.3h.9v.9h-.9zM95.4 84.8h.9v.9h-.9zM94.2 84.0h.9v.9h-.9zM92.4 79.0h.9v.9h-.9zM90.6 85.4h.9v.9h-.9zM88.4 83.8h.9v.9h-.9zM88.9 83.4h.9v.9h-.9zM83.0 83.9h.9v.9h-.9zM88.2 84.1h.9v.9h-.9zM86.6 85.5h.9v.9h-.9zM92.5 85.1h.9v.9h-.9zM88.4 90.9h.9v.9h-.9zM93.1 89.3h.9v.9h-.9zM93.7 84.8h.9v.9h-.9zM89.6 90.0h.9v.9h-.9zM88.2 85.6h.9v.9h-.9zM91.2 87.3h.9v.9h-.9zM89.1 89.5h.9v.9h-.9zM89.4 88.6h.9v.9h-.9zM93.4 88.4h.9v.9h-.9zM92.3 81.8h.9v.9h-.9zM85.8 83.8h.9v.9h-.9zM91.5 91.4h.9v.9h-.9zM86.1 87.1h.9v.9h-.9zM87.3 83.4h.9v.9h-.9zM89.1 88.5h.9v.9h-.9zM90.7 90.2h.9v.9h-.9zM86.8 89.2h.9v.9h-.9zM93.0 86.3h.9v.9h-.9zM91.5 84.0h.9v.9h-.9zM86.5 84.5h.9v.9h-.9zM87.9 96.4h.9v.9h-.9zM88.4 91.9h.9v.9h-.9zM90.6 87.1h.9v.9h-.9zM92.4 83.2h.9v.9h-.9zM92.9 87.4h.9v.9h-.9zM85.1 88.2h.9v.9h-.9zM91.8 87.6h.9v.9h-.9zM95.1 84.5h.9v.9h-.9zM91.6 88.7h.9v.9h-.9zM87.1 90.3h.9v.9h-.9zM85.4 81.3h.9v.9h-.9zM91.7 82.1h.9v.9h-.9zM89.6 80.1h.9v.9h-.9zM90.2 81.9h.9v.9h-.9zM91.1 80.5h.9v.9h-.9zM91.4 85.0h.9v.9h-.9zM90.2 85.8h.9v.9h-.9zM90.4 81.2h.9v.9h-.9zM81.8 86.1h.9v.9h-.9zM87.0 84.4h.9v.9h-.9zM91.4 78.9h.9v.9h-.9zM87.6 83.8h.9v.9h-.9zM86.6 87.2h.9v.9h-.9zM89.6 83.0h.9v.9h-.9zM86.8 88.9h.9v.9h-.9zM87.9 88.1h.9v.9h-.9zM91.4 79.2h.9v.9h-.9zM86.5 86.0h.9v.9h-.9zM91.1 88.8h.9v.9h-.9zM92.6 89.7h.9v.9h-.9zM88.8 85.2h.9v.9h-.9zM92.5 84.5h.9v.9h-.9zM93.4 80.3h.9v.9h-.9zM92.1 85.4h.9v.9h-.9zM83.7 89.5h.9v.9h-.9zM91.0 86.1h.9v.9h-.9zM86.6 84.3h.9v.9h-.9zM94.8 83.0h.9v.9h-.9zM78.9 82.9h.9v.9h-.9zM86.2 85.5h.9v.9h-.9zM88.7 82.7h.9v.9h-.9zM87.3 89.8h.9v.9h-.9zM85.4 93.0h.9v.9h-.9zM88.3 82.1h.9v.9h-.9zM92.5 88.0h.9v.9h-.9zM86.7 88.7h.9v.9h-.9zM84.1 82.7h.9v.9h-.9zM93.6 85.1h.9v.9h-.9zM85.8 87.9h.9v.9h-.9zM92.9 85.9h.9v.9h-.9zM84.2 84.8h.9v.9h-.9zM91.3 88.8h.9v.9h-.9zM95.9 85.1h.9v.9h-.9zM88.5 85.9h.9v.9h-.9zM93.9 82.6h.9v.9h-.9zM94.2 76.1h.9v.9h-.9zM92.6 83.6h.9v.9h-.9zM91.5 88.5h.9v.9h-.9zM86.2 85.7h.9v.9h-.9zM90.8 88.1h.9v.9h-.9zM87.0 82.4h.9v.9h-.9zM83.8 95.1h.9v.9h-.9zM89.4 85.2h.9v.9h-.9zM85.2 89.3h.9v.9h-.9zM88.3 91.2h.9v.9h-.9zM92.7 86.1h.9v.9h-.9zM92.3 82.0h.9v.9h-.9zM89.0 83.9h.9v.9h-.9zM85.9 86.1h.9v.9h-.9zM89.5 91.2h.9v.9h-.9zM79.3 83.6h.9v.9h-.9zM87.1 84.3h.9v.9h-.9zM91.4 87.5h.9v.9h-.9zM90.1 84.3h.9v.9h-.9zM91.6 87.3h.9v.9h-.9zM84.1 85.1h.9v.9h-.9zM85.6 81.7h.9v.9h-.9zM90.5 86.2h.9v.9h-.9zM90.4 82.8h.9v.9h-.9zM89.4 82.7h.9v.9h-.9zM91.2 88.5h.9v.9h-.9zM95.6 90.6h.9v.9h-.9zM87.4 84.4h.9v.9h-.9zM87.0 87.1h.9v.9h-.9zM96.3 88.6h.9v.9h-.9zM83.0 81.5h.9v.9h-.9zM85.9 87.9h.9v.9h-.9zM90.0 87.1h.9v.9h-.9zM95.7 83.0h.9v.9h-.9zM87.3 93.1h.9v.9h-.9zM91.1 83.2h.9v.9h-.9zM83.5 80.5h.9v.9h-.9zM82.2 86.2h.9v.9h-.9zM90.1 89.6h.9v.9h-.9zM89.6 83.5h.9v.9h-.9zM87.6 92.8h.9v.9h-.9zM84.3 86.6h.9v.9h-.9zM90.1 88.2h.9v.9h-.9zM88.7 87.8h.9v.9h-.9zM92.6 85.5h.9v.9h-.9zM88.5 85.3h.9v.9h-.9zM86.9 85.3h.9v.9h-.9zM89.0 86.8h.9v.9h-.9zM94.3 90.7h.9v.9h-.9zM88.6 88.2h.9v.9h-.9zM90.9 88.7h.9v.9h-.9zM90.1 87.0h.9v.9h-.9zM88.5 83.2h.9v.9h-.9zM92.8 90.7h.9v.9h-.9zM92.1 87.6h.9v.9h-.9zM90.9 84.4h.9v.9h-.9zM84.3 88.4h.9v.9h-.9zM90.6 84.0h.9v.9h-.9zM86.9 90.6h.9v.9h-.9zM84.2 92.3h.9v.9h-.9zM92.0 94.5h.9v.9h-.9zM87.7 85.9h.9v.9h-.9zM88.4 86.6h.9v.9h-.9zM89.3 83.3h.9v.9h-.9zM93.4 83.2h.9v.9h-.9zM88.4 88.0h.9v.9h-.9zM88.3 84.4h.9v.9h-.9zM91.1 84.7h.9v.9h-.9zM86.0 85.6h.9v.9h-.9zM89.3 92.1h.9v.9h-.9zM86.5 89.5h.9v.9h-.9zM87.5 84.7h.9v.9h-.9zM89.0 87.0h.9v.9h-.9zM92.8 92.3h.9v.9h-.9zM88.0 90.8h.9v.9h-.9zM93.2 88.9h.9v.9h-.9zM87.6 89.2h.9v.9h-.9zM89.7 87.3h.9v.9h-.9zM89.1 88.4h.9v.9h-.9zM93.6 90.1h.9v.9h-.9zM89.3 89.6h.9v.9h-.9zM94.6 82.6h.9v.9h-.9zM94.7 81.2h.9v.9h-.9zM91.7 88.1h.9v.9h-.9zM94.7 87.0h.9v.9h-.9zM88.5 83.1h.9v.9h-.9zM86.0 88.8h.9v.9h-.9zM89.2 83.4h.9v.9h-.9zM91.7 83.2h.9v.9h-.9zM88.6 84.3h.9v.9h-.9zM95.3 91.3h.9v.9h-.9zM89.5 80.3h.9v.9h-.9zM90.9 86.3h.9v.9h-.9zM91.1 88.0h.9v.9h-.9zM89.0 89.3h.9v.9h-.9zM92.7 86.8h.9v.9h-.9zM88.7 84.3h.9v.9h-.9zM92.2 82.0h.9v.9h-.9zM89.5 83.3h.9v.9h-.9z" fill="#000" fill-opacity="0.90"/><path d="M87.2 101.7h.9v.9h-.9zM90.4 99.2h.9v.9h-.9zM92.6 92.3h.9v.9h-.9zM90.3 100.3h.9v.9h-.9zM92.5 94.1h.9v.9h-.9zM92.2 100.0h.9v.9h-.9zM93.8 104.1h.9v.9h-.9zM90.5 97.1h.9v.9h-.9zM89.7 94.8h.9v.9h-.9zM90.4 90.5h.9v.9h-.9zM90.3 100.9h.9v.9h-.9zM92.9 97.4h.9v.9h-.9zM93.8 96.1h.9v.9h-.9zM90.2 90.6h.9v.9h-.9zM88.7 95.4h.9v.9h-.9zM94.0 101.3h.9v.9h-.9zM87.9 101.3h.9v.9h-.9zM91.6 98.0h.9v.9h-.9zM90.6 97.7h.9v.9h-.9zM89.2 91.2h.9v.9h-.9zM90.3 104.6h.9v.9h-.9zM93.9 97.8h.9v.9h-.9zM88.7 98.1h.9v.9h-.9zM92.6 100.5h.9v.9h-.9zM89.1 100.6h.9v.9h-.9zM90.0 101.3h.9v.9h-.9zM89.5 92.5h.9v.9h-.9zM90.6 102.3h.9v.9h-.9zM87.9 98.5h.9v.9h-.9zM92.6 97.4h.9v.9h-.9zM92.4 103.5h.9v.9h-.9zM88.3 106.2h.9v.9h-.9zM86.6 96.7h.9v.9h-.9zM92.2 104.8h.9v.9h-.9zM88.3 96.1h.9v.9h-.9zM91.0 90.6h.9v.9h-.9zM92.0 101.5h.9v.9h-.9zM89.5 101.4h.9v.9h-.9zM92.3 100.4h.9v.9h-.9zM91.7 105.6h.9v.9h-.9zM89.4 99.7h.9v.9h-.9zM89.3 103.5h.9v.9h-.9zM89.6 101.1h.9v.9h-.9zM90.8 99.3h.9v.9h-.9zM94.5 98.6h.9v.9h-.9zM93.8 102.6h.9v.9h-.9zM93.6 98.3h.9v.9h-.9zM92.7 102.3h.9v.9h-.9zM89.1 100.2h.9v.9h-.9zM90.2 98.8h.9v.9h-.9zM93.5 95.9h.9v.9h-.9zM86.6 91.4h.9v.9h-.9zM89.5 96.2h.9v.9h-.9zM90.5 101.5h.9v.9h-.9zM94.6 100.3h.9v.9h-.9zM91.6 95.8h.9v.9h-.9zM91.8 104.9h.9v.9h-.9zM93.6 90.5h.9v.9h-.9zM92.6 105.9h.9v.9h-.9zM92.4 92.5h.9v.9h-.9zM89.8 101.5h.9v.9h-.9zM91.5 95.5h.9v.9h-.9zM88.4 103.2h.9v.9h-.9zM87.4 105.2h.9v.9h-.9zM90.5 100.3h.9v.9h-.9zM87.4 96.4h.9v.9h-.9zM92.1 92.6h.9v.9h-.9zM95.3 92.9h.9v.9h-.9zM87.7 99.2h.9v.9h-.9zM91.6 102.2h.9v.9h-.9zM89.6 98.1h.9v.9h-.9zM90.0 96.5h.9v.9h-.9zM84.6 103.2h.9v.9h-.9zM91.1 99.7h.9v.9h-.9zM89.0 100.1h.9v.9h-.9zM90.5 98.7h.9v.9h-.9zM93.0 91.6h.9v.9h-.9zM91.1 94.4h.9v.9h-.9zM89.8 105.5h.9v.9h-.9zM88.0 98.6h.9v.9h-.9zM89.1 103.1h.9v.9h-.9zM88.2 91.7h.9v.9h-.9zM91.7 97.5h.9v.9h-.9zM89.8 103.7h.9v.9h-.9zM88.5 97.4h.9v.9h-.9zM90.8 100.8h.9v.9h-.9zM89.3 103.5h.9v.9h-.9zM95.7 97.2h.9v.9h-.9zM94.8 89.9h.9v.9h-.9zM93.7 97.5h.9v.9h-.9zM90.8 97.5h.9v.9h-.9zM89.0 93.5h.9v.9h-.9zM89.6 104.6h.9v.9h-.9zM93.1 97.5h.9v.9h-.9zM89.3 96.0h.9v.9h-.9zM87.7 106.8h.9v.9h-.9zM92.0 99.5h.9v.9h-.9zM89.4 94.6h.9v.9h-.9zM93.5 102.4h.9v.9h-.9zM88.3 103.3h.9v.9h-.9zM87.9 101.8h.9v.9h-.9zM88.3 97.2h.9v.9h-.9zM91.6 100.9h.9v.9h-.9zM92.8 95.4h.9v.9h-.9zM94.1 104.8h.9v.9h-.9zM90.5 101.0h.9v.9h-.9zM88.7 98.3h.9v.9h-.9zM87.5 99.4h.9v.9h-.9zM91.0 104.8h.9v.9h-.9zM92.7 102.5h.9v.9h-.9zM89.7 98.0h.9v.9h-.9zM89.7 100.0h.9v.9h-.9zM86.1 102.3h.9v.9h-.9zM86.9 96.8h.9v.9h-.9zM90.6 96.8h.9v.9h-.9zM94.3 98.6h.9v.9h-.9zM94.1 104.1h.9v.9h-.9zM89.4 100.7h.9v.9h-.9zM93.5 97.6h.9v.9h-.9zM90.7 96.6h.9v.9h-.9zM90.6 97.5h.9v.9h-.9zM90.7 103.3h.9v.9h-.9zM93.7 99.6h.9v.9h-.9zM91.0 102.7h.9v.9h-.9zM89.8 94.4h.9v.9h-.9zM93.1 95.0h.9v.9h-.9zM92.6 94.8h.9v.9h-.9zM94.7 94.5h.9v.9h-.9zM92.5 105.5h.9v.9h-.9zM88.3 105.4h.9v.9h-.9zM88.6 91.4h.9v.9h-.9zM92.2 102.0h.9v.9h-.9zM90.0 88.1h.9v.9h-.9zM90.4 97.7h.9v.9h-.9zM89.6 97.7h.9v.9h-.9zM86.4 96.6h.9v.9h-.9zM94.6 105.7h.9v.9h-.9zM89.7 95.9h.9v.9h-.9zM91.4 103.6h.9v.9h-.9zM92.2 93.9h.9v.9h-.9zM90.9 99.6h.9v.9h-.9zM93.8 104.2h.9v.9h-.9zM91.7 104.3h.9v.9h-.9zM89.6 105.6h.9v.9h-.9zM89.5 100.7h.9v.9h-.9zM92.6 95.1h.9v.9h-.9zM88.9 91.4h.9v.9h-.9zM90.9 98.8h.9v.9h-.9zM89.7 101.2h.9v.9h-.9zM85.6 98.9h.9v.9h-.9zM90.7 97.9h.9v.9h-.9zM92.3 106.6h.9v.9h-.9zM89.5 94.9h.9v.9h-.9zM89.1 99.4h.9v.9h-.9zM91.9 95.3h.9v.9h-.9zM92.8 94.6h.9v.9h-.9zM92.4 100.8h.9v.9h-.9zM89.9 98.3h.9v.9h-.9zM91.6 102.7h.9v.9h-.9zM87.4 100.2h.9v.9h-.9zM88.8 101.7h.9v.9h-.9zM93.7 99.2h.9v.9h-.9zM90.3 99.8h.9v.9h-.9zM83.7 102.3h.9v.9h-.9zM91.8 99.7h.9v.9h-.9zM89.6 95.8h.9v.9h-.9zM90.1 104.2h.9v.9h-.9zM90.3 104.8h.9v.9h-.9zM84.6 97.0h.9v.9h-.9zM91.1 98.9h.9v.9h-.9zM86.7 96.1h.9v.9h-.9zM93.4 93.4h.9v.9h-.9zM88.2 94.3h.9v.9h-.9zM89.2 101.8h.9v.9h-.9zM91.9 90.2h.9v.9h-.9zM93.9 96.4h.9v.9h-.9zM89.1 106.2h.9v.9h-.9zM90.3 93.6h.9v.9h-.9zM89.0 95.9h.9v.9h-.9zM88.2 97.6h.9v.9h-.9zM92.5 100.5h.9v.9h-.9zM88.2 99.5h.9v.9h-.9zM90.6 102.3h.9v.9h-.9zM89.7 101.0h.9v.9h-.9zM95.4 99.4h.9v.9h-.9zM88.0 100.4h.9v.9h-.9zM88.7 97.4h.9v.9h-.9zM90.9 100.5h.9v.9h-.9zM89.8 102.7h.9v.9h-.9zM90.1 93.4h.9v.9h-.9zM92.5 97.4h.9v.9h-.9zM93.3 96.2h.9v.9h-.9zM91.8 100.4h.9v.9h-.9zM84.3 92.5h.9v.9h-.9zM87.9 105.1h.9v.9h-.9zM86.1 102.9h.9v.9h-.9zM93.0 101.1h.9v.9h-.9zM92.1 96.9h.9v.9h-.9zM90.5 100.0h.9v.9h-.9zM91.5 102.1h.9v.9h-.9zM90.0 96.0h.9v.9h-.9zM89.2 100.8h.9v.9h-.9zM86.7 93.6h.9v.9h-.9zM89.6 96.6h.9v.9h-.9zM89.9 87.5h.9v.9h-.9zM89.7 97.9h.9v.9h-.9zM92.3 90.4h.9v.9h-.9zM89.8 101.1h.9v.9h-.9zM91.6 104.2h.9v.9h-.9zM92.9 94.5h.9v.9h-.9zM92.0 97.6h.9v.9h-.9zM88.6 105.6h.9v.9h-.9zM89.0 95.3h.9v.9h-.9zM89.6 95.3h.9v.9h-.9zM92.8 100.6h.9v.9h-.9zM93.7 100.8h.9v.9h-.9zM89.1 103.5h.9v.9h-.9zM89.0 97.0h.9v.9h-.9zM90.1 99.2h.9v.9h-.9zM93.3 96.4h.9v.9h-.9zM91.3 98.9h.9v.9h-.9zM87.6 94.3h.9v.9h-.9zM90.0 100.8h.9v.9h-.9zM91.2 101.1h.9v.9h-.9zM90.6 97.1h.9v.9h-.9zM91.5 94.7h.9v.9h-.9zM87.4 97.6h.9v.9h-.9zM87.2 96.8h.9v.9h-.9zM88.8 96.6h.9v.9h-.9zM90.4 95.5h.9v.9h-.9zM89.5 91.6h.9v.9h-.9zM90.8 95.2h.9v.9h-.9zM91.4 86.7h.9v.9h-.9zM88.6 100.1h.9v.9h-.9zM84.9 97.4h.9v.9h-.9zM90.7 99.4h.9v.9h-.9zM87.0 100.0h.9v.9h-.9zM90.8 94.8h.9v.9h-.9zM92.2 98.8h.9v.9h-.9zM90.5 97.0h.9v.9h-.9zM91.8 99.4h.9v.9h-.9zM93.1 101.0h.9v.9h-.9zM89.1 98.0h.9v.9h-.9zM92.6 97.4h.9v.9h-.9zM91.4 101.3h.9v.9h-.9zM90.1 88.9h.9v.9h-.9zM90.8 99.9h.9v.9h-.9zM90.8 95.7h.9v.9h-.9zM93.3 98.4h.9v.9h-.9zM89.1 95.9h.9v.9h-.9zM91.3 94.3h.9v.9h-.9zM93.5 103.6h.9v.9h-.9zM93.7 101.6h.9v.9h-.9zM86.6 104.2h.9v.9h-.9zM93.4 101.1h.9v.9h-.9zM86.0 104.4h.9v.9h-.9zM93.7 96.9h.9v.9h-.9zM90.8 102.4h.9v.9h-.9zM90.3 103.8h.9v.9h-.9zM90.7 102.0h.9v.9h-.9zM90.7 92.6h.9v.9h-.9zM91.1 104.7h.9v.9h-.9zM93.1 106.5h.9v.9h-.9zM91.8 96.4h.9v.9h-.9zM90.5 90.6h.9v.9h-.9zM90.1 103.0h.9v.9h-.9zM85.5 99.9h.9v.9h-.9zM92.4 104.8h.9v.9h-.9zM88.3 96.2h.9v.9h-.9zM86.1 94.6h.9v.9h-.9zM87.8 105.0h.9v.9h-.9zM91.5 96.8h.9v.9h-.9zM95.6 88.0h.9v.9h-.9zM90.3 100.0h.9v.9h-.9zM95.5 106.9h.9v.9h-.9zM95.8 99.6h.9v.9h-.9zM92.8 105.0h.9v.9h-.9zM91.7 100.6h.9v.9h-.9zM90.1 97.2h.9v.9h-.9zM89.5 89.9h.9v.9h-.9zM91.1 98.9h.9v.9h-.9zM90.9 106.9h.9v.9h-.9zM90.3 97.8h.9v.9h-.9zM88.8 98.9h.9v.9h-.9zM89.5 99.9h.9v.9h-.9zM97.8 100.7h.9v.9h-.9zM88.5 107.4h.9v.9h-.9zM92.5 102.6h.9v.9h-.9zM92.2 102.6h.9v.9h-.9zM92.1 105.2h.9v.9h-.9zM92.9 104.9h.9v.9h-.9zM89.3 99.0h.9v.9h-.9zM88.8 103.2h.9v.9h-.9zM92.4 97.0h.9v.9h-.9zM93.4 94.1h.9v.9h-.9zM90.3 101.8h.9v.9h-.9zM90.4 100.7h.9v.9h-.9zM93.3 100.4h.9v.9h-.9zM87.9 102.1h.9v.9h-.9zM90.3 99.5h.9v.9h-.9zM89.2 92.9h.9v.9h-.9zM87.6 97.5h.9v.9h-.9zM88.0 87.1h.9v.9h-.9zM93.2 93.9h.9v.9h-.9zM88.8 101.3h.9v.9h-.9zM84.9 104.9h.9v.9h-.9zM88.7 101.9h.9v.9h-.9zM89.4 100.3h.9v.9h-.9zM90.7 99.0h.9v.9h-.9zM86.2 92.6h.9v.9h-.9zM90.4 105.2h.9v.9h-.9zM89.2 101.3h.9v.9h-.9zM90.9 101.1h.9v.9h-.9zM92.8 92.4h.9v.9h-.9zM91.1 98.2h.9v.9h-.9zM89.8 95.3h.9v.9h-.9zM88.7 94.5h.9v.9h-.9zM94.5 99.0h.9v.9h-.9zM92.2 94.7h.9v.9h-.9zM84.0 91.0h.9v.9h-.9zM90.8 105.3h.9v.9h-.9zM90.4 94.6h.9v.9h-.9zM89.9 94.6h.9v.9h-.9zM87.2 98.0h.9v.9h-.9zM89.6 95.4h.9v.9h-.9zM88.4 94.9h.9v.9h-.9zM91.1 105.1h.9v.9h-.9zM86.7 100.2h.9v.9h-.9zM87.8 98.3h.9v.9h-.9zM90.7 101.5h.9v.9h-.9zM93.1 96.6h.9v.9h-.9zM87.6 98.2h.9v.9h-.9zM91.2 95.9h.9v.9h-.9zM92.6 106.4h.9v.9h-.9zM87.2 100.6h.9v.9h-.9zM92.9 90.6h.9v.9h-.9zM91.0 98.0h.9v.9h-.9zM87.2 104.8h.9v.9h-.9zM91.0 96.9h.9v.9h-.9zM91.5 101.8h.9v.9h-.9zM92.3 101.5h.9v.9h-.9zM91.5 93.8h.9v.9h-.9zM89.5 99.6h.9v.9h-.9zM89.6 94.4h.9v.9h-.9zM86.2 100.1h.9v.9h-.9zM90.6 96.4h.9v.9h-.9zM89.5 95.1h.9v.9h-.9zM88.7 98.6h.9v.9h-.9zM89.0 102.0h.9v.9h-.9zM90.2 99.6h.9v.9h-.9zM91.4 104.6h.9v.9h-.9zM91.9 100.0h.9v.9h-.9zM90.1 95.5h.9v.9h-.9zM89.7 102.0h.9v.9h-.9zM91.0 97.3h.9v.9h-.9zM87.4 92.3h.9v.9h-.9zM91.3 103.5h.9v.9h-.9zM91.4 93.0h.9v.9h-.9zM90.0 100.0h.9v.9h-.9zM88.4 100.5h.9v.9h-.9zM90.0 95.3h.9v.9h-.9zM87.6 102.6h.9v.9h-.9zM91.3 95.1h.9v.9h-.9zM88.1 102.9h.9v.9h-.9zM91.9 97.7h.9v.9h-.9zM94.2 97.7h.9v.9h-.9zM88.0 103.8h.9v.9h-.9zM90.1 100.5h.9v.9h-.9zM90.6 94.6h.9v.9h-.9zM87.7 98.1h.9v.9h-.9zM93.8 94.6h.9v.9h-.9zM93.7 100.0h.9v.9h-.9zM87.9 100.2h.9v.9h-.9zM91.8 95.1h.9v.9h-.9zM85.5 100.6h.9v.9h-.9zM87.9 100.9h.9v.9h-.9zM86.0 98.4h.9v.9h-.9zM88.6 92.5h.9v.9h-.9zM89.9 99.8h.9v.9h-.9zM89.2 93.8h.9v.9h-.9zM91.0 91.3h.9v.9h-.9zM91.7 101.1h.9v.9h-.9zM94.4 102.9h.9v.9h-.9zM91.3 100.2h.9v.9h-.9zM90.6 93.2h.9v.9h-.9zM93.9 101.3h.9v.9h-.9zM89.8 94.0h.9v.9h-.9zM94.0 101.3h.9v.9h-.9z" fill="#000" fill-opacity="0.80"/><path d="M81.2 95.6h.9v.9h-.9zM97.6 90.8h.9v.9h-.9zM89.6 88.2h.9v.9h-.9zM84.1 98.3h.9v.9h-.9zM104.0 91.8h.9v.9h-.9zM86.8 96.4h.9v.9h-.9zM85.9 96.0h.9v.9h-.9zM91.9 84.1h.9v.9h-.9zM81.8 90.5h.9v.9h-.9zM91.9 92.9h.9v.9h-.9zM94.1 81.6h.9v.9h-.9zM90.1 86.8h.9v.9h-.9zM88.0 93.2h.9v.9h-.9zM82.3 89.4h.9v.9h-.9zM81.3 92.8h.9v.9h-.9zM83.0 87.6h.9v.9h-.9zM88.7 86.6h.9v.9h-.9zM93.6 86.7h.9v.9h-.9zM92.0 92.9h.9v.9h-.9zM82.0 89.5h.9v.9h-.9zM83.0 88.5h.9v.9h-.9zM86.1 103.3h.9v.9h-.9zM85.3 101.6h.9v.9h-.9zM89.9 82.1h.9v.9h-.9zM75.2 95.6h.9v.9h-.9zM76.9 95.9h.9v.9h-.9zM93.0 93.6h.9v.9h-.9zM86.4 89.3h.9v.9h-.9zM88.9 88.9h.9v.9h-.9zM84.6 88.5h.9v.9h-.9zM93.7 86.8h.9v.9h-.9zM89.5 83.2h.9v.9h-.9zM83.7 81.7h.9v.9h-.9zM86.4 95.6h.9v.9h-.9zM89.1 87.7h.9v.9h-.9zM90.8 88.6h.9v.9h-.9zM89.5 92.9h.9v.9h-.9zM90.4 74.2h.9v.9h-.9zM80.6 96.2h.9v.9h-.9zM86.9 106.2h.9v.9h-.9zM86.2 87.3h.9v.9h-.9zM95.5 94.8h.9v.9h-.9zM97.6 94.5h.9v.9h-.9zM86.4 95.9h.9v.9h-.9zM83.3 88.0h.9v.9h-.9zM84.5 89.5h.9v.9h-.9zM91.6 87.7h.9v.9h-.9zM89.2 87.6h.9v.9h-.9zM92.2 72.3h.9v.9h-.9zM86.4 92.1h.9v.9h-.9zM81.8 97.9h.9v.9h-.9zM88.7 99.7h.9v.9h-.9zM92.6 95.3h.9v.9h-.9zM86.7 83.6h.9v.9h-.9zM86.3 87.9h.9v.9h-.9zM88.8 87.9h.9v.9h-.9zM103.7 80.2h.9v.9h-.9zM93.7 87.8h.9v.9h-.9zM86.2 97.3h.9v.9h-.9zM87.5 82.8h.9v.9h-.9zM89.7 89.7h.9v.9h-.9zM76.6 92.3h.9v.9h-.9zM81.9 86.0h.9v.9h-.9zM90.1 93.0h.9v.9h-.9zM86.0 105.7h.9v.9h-.9zM89.7 86.9h.9v.9h-.9zM88.8 90.2h.9v.9h-.9zM75.8 80.3h.9v.9h-.9zM80.1 105.0h.9v.9h-.9zM86.5 89.1h.9v.9h-.9zM84.5 97.6h.9v.9h-.9zM87.6 102.5h.9v.9h-.9zM91.7 102.1h.9v.9h-.9zM86.9 93.5h.9v.9h-.9zM85.2 89.9h.9v.9h-.9zM78.3 87.1h.9v.9h-.9zM82.5 86.6h.9v.9h-.9zM94.0 92.8h.9v.9h-.9zM94.0 96.8h.9v.9h-.9zM92.4 97.8h.9v.9h-.9zM84.3 96.4h.9v.9h-.9zM85.8 87.4h.9v.9h-.9zM93.8 105.6h.9v.9h-.9zM82.3 102.7h.9v.9h-.9zM91.9 85.3h.9v.9h-.9zM88.9 93.5h.9v.9h-.9zM89.5 88.6h.9v.9h-.9zM80.7 91.2h.9v.9h-.9zM92.1 96.3h.9v.9h-.9zM91.0 98.4h.9v.9h-.9zM82.2 90.7h.9v.9h-.9zM89.3 97.7h.9v.9h-.9zM88.3 94.5h.9v.9h-.9zM88.2 105.2h.9v.9h-.9zM75.9 90.8h.9v.9h-.9zM100.6 92.6h.9v.9h-.9zM77.8 91.9h.9v.9h-.9zM79.9 86.4h.9v.9h-.9zM88.7 102.6h.9v.9h-.9zM90.0 95.5h.9v.9h-.9zM92.9 92.4h.9v.9h-.9zM83.0 90.3h.9v.9h-.9zM89.3 89.1h.9v.9h-.9zM84.0 88.6h.9v.9h-.9zM79.5 84.1h.9v.9h-.9zM87.0 88.6h.9v.9h-.9zM87.7 100.5h.9v.9h-.9zM89.1 90.8h.9v.9h-.9zM81.3 83.7h.9v.9h-.9zM89.5 85.1h.9v.9h-.9zM89.8 83.8h.9v.9h-.9zM88.2 90.5h.9v.9h-.9zM92.8 88.4h.9v.9h-.9zM85.5 92.7h.9v.9h-.9zM87.8 102.4h.9v.9h-.9zM86.1 87.4h.9v.9h-.9zM85.8 94.2h.9v.9h-.9zM88.7 95.7h.9v.9h-.9zM97.2 90.8h.9v.9h-.9zM81.1 92.0h.9v.9h-.9zM89.7 76.0h.9v.9h-.9zM87.6 81.0h.9v.9h-.9zM89.9 100.3h.9v.9h-.9zM93.0 80.9h.9v.9h-.9zM94.8 97.1h.9v.9h-.9zM85.6 94.4h.9v.9h-.9zM95.5 88.8h.9v.9h-.9zM87.4 87.2h.9v.9h-.9zM93.6 76.5h.9v.9h-.9zM95.0 84.5h.9v.9h-.9zM92.4 80.1h.9v.9h-.9zM82.5 87.0h.9v.9h-.9zM91.9 80.1h.9v.9h-.9zM90.7 86.7h.9v.9h-.9zM94.1 88.9h.9v.9h-.9zM90.1 89.8h.9v.9h-.9zM97.0 88.6h.9v.9h-.9zM87.4 104.4h.9v.9h-.9zM87.9 95.6h.9v.9h-.9zM83.6 92.3h.9v.9h-.9zM75.5 91.7h.9v.9h-.9zM84.1 80.9h.9v.9h-.9zM80.0 98.7h.9v.9h-.9zM89.8 80.8h.9v.9h-.9zM97.1 86.3h.9v.9h-.9zM85.5 92.7h.9v.9h-.9zM81.5 80.1h.9v.9h-.9zM83.6 99.0h.9v.9h-.9zM92.5 80.4h.9v.9h-.9zM93.9 91.2h.9v.9h-.9zM90.1 91.3h.9v.9h-.9zM89.7 84.3h.9v.9h-.9zM82.7 86.3h.9v.9h-.9zM85.6 95.2h.9v.9h-.9zM81.1 101.7h.9v.9h-.9zM84.2 87.0h.9v.9h-.9zM91.2 93.9h.9v.9h-.9zM85.7 83.8h.9v.9h-.9zM82.2 80.2h.9v.9h-.9zM93.6 98.3h.9v.9h-.9zM97.4 94.4h.9v.9h-.9zM89.3 96.1h.9v.9h-.9zM92.5 89.3h.9v.9h-.9zM89.4 105.5h.9v.9h-.9zM78.5 81.5h.9v.9h-.9zM82.4 96.1h.9v.9h-.9zM93.8 88.7h.9v.9h-.9zM91.1 90.7h.9v.9h-.9zM89.1 87.4h.9v.9h-.9zM87.4 91.0h.9v.9h-.9zM93.5 106.0h.9v.9h-.9zM77.9 94.6h.9v.9h-.9zM87.5 97.5h.9v.9h-.9zM93.1 96.3h.9v.9h-.9zM91.8 84.6h.9v.9h-.9zM78.5 102.3h.9v.9h-.9zM93.9 84.6h.9v.9h-.9zM94.3 95.5h.9v.9h-.9zM74.5 97.1h.9v.9h-.9zM82.3 98.9h.9v.9h-.9zM83.9 86.0h.9v.9h-.9zM79.3 89.5h.9v.9h-.9zM92.9 86.5h.9v.9h-.9zM77.6 105.5h.9v.9h-.9zM97.3 95.7h.9v.9h-.9zM84.7 82.8h.9v.9h-.9zM78.8 94.8h.9v.9h-.9zM94.4 83.9h.9v.9h-.9zM87.5 89.1h.9v.9h-.9zM86.1 94.4h.9v.9h-.9zM98.6 86.7h.9v.9h-.9zM92.0 98.3h.9v.9h-.9zM86.0 90.0h.9v.9h-.9zM80.4 98.3h.9v.9h-.9zM84.7 86.6h.9v.9h-.9zM87.9 85.2h.9v.9h-.9zM82.0 89.0h.9v.9h-.9zM95.4 89.6h.9v.9h-.9zM90.3 81.1h.9v.9h-.9zM77.2 103.3h.9v.9h-.9zM85.4 80.6h.9v.9h-.9zM86.9 95.1h.9v.9h-.9zM78.3 85.0h.9v.9h-.9zM88.9 84.8h.9v.9h-.9zM91.7 97.5h.9v.9h-.9zM89.8 88.1h.9v.9h-.9zM87.3 86.7h.9v.9h-.9zM86.8 93.1h.9v.9h-.9zM85.9 97.6h.9v.9h-.9zM101.3 87.3h.9v.9h-.9zM89.3 96.6h.9v.9h-.9zM90.9 89.4h.9v.9h-.9zM85.0 97.8h.9v.9h-.9zM90.8 94.4h.9v.9h-.9zM83.2 95.3h.9v.9h-.9zM91.7 89.7h.9v.9h-.9zM90.9 105.7h.9v.9h-.9zM77.5 95.1h.9v.9h-.9zM81.3 81.8h.9v.9h-.9zM86.2 94.7h.9v.9h-.9zM87.8 83.1h.9v.9h-.9zM79.9 87.2h.9v.9h-.9zM87.6 85.4h.9v.9h-.9zM79.5 102.9h.9v.9h-.9zM83.0 89.9h.9v.9h-.9zM84.6 87.0h.9v.9h-.9zM87.7 89.0h.9v.9h-.9zM90.8 83.0h.9v.9h-.9zM79.6 104.2h.9v.9h-.9zM87.1 96.2h.9v.9h-.9zM93.8 94.8h.9v.9h-.9zM87.7 80.5h.9v.9h-.9zM79.0 97.6h.9v.9h-.9zM91.1 94.9h.9v.9h-.9zM78.7 76.5h.9v.9h-.9zM81.9 83.0h.9v.9h-.9zM88.3 84.1h.9v.9h-.9zM95.9 86.8h.9v.9h-.9zM84.5 96.9h.9v.9h-.9zM89.3 84.9h.9v.9h-.9zM91.9 104.0h.9v.9h-.9zM81.0 89.3h.9v.9h-.9zM81.8 77.8h.9v.9h-.9zM90.8 95.7h.9v.9h-.9zM92.7 93.9h.9v.9h-.9zM76.8 90.8h.9v.9h-.9zM83.9 83.0h.9v.9h-.9zM81.6 96.2h.9v.9h-.9zM85.9 104.4h.9v.9h-.9zM90.0 78.0h.9v.9h-.9zM92.3 99.5h.9v.9h-.9zM87.7 82.8h.9v.9h-.9zM97.0 82.1h.9v.9h-.9zM87.1 78.0h.9v.9h-.9zM80.8 79.4h.9v.9h-.9zM93.3 99.0h.9v.9h-.9zM85.3 81.8h.9v.9h-.9zM87.2 93.6h.9v.9h-.9zM79.3 83.1h.9v.9h-.9zM87.0 95.8h.9v.9h-.9zM87.9 94.1h.9v.9h-.9zM80.8 74.0h.9v.9h-.9zM89.2 84.7h.9v.9h-.9zM86.8 88.4h.9v.9h-.9zM90.1 85.7h.9v.9h-.9zM95.2 91.2h.9v.9h-.9zM90.3 95.3h.9v.9h-.9zM93.1 93.8h.9v.9h-.9zM78.1 86.7h.9v.9h-.9zM97.5 94.2h.9v.9h-.9zM90.5 94.2h.9v.9h-.9zM84.1 86.4h.9v.9h-.9zM84.0 98.9h.9v.9h-.9zM89.5 103.2h.9v.9h-.9zM90.2 103.9h.9v.9h-.9zM90.0 82.9h.9v.9h-.9zM96.9 93.3h.9v.9h-.9zM93.9 92.5h.9v.9h-.9zM85.7 92.2h.9v.9h-.9zM81.5 82.8h.9v.9h-.9zM82.7 87.4h.9v.9h-.9zM80.2 90.3h.9v.9h-.9zM89.1 104.9h.9v.9h-.9zM97.4 90.7h.9v.9h-.9zM92.3 89.5h.9v.9h-.9zM89.6 90.8h.9v.9h-.9zM84.6 91.5h.9v.9h-.9zM79.5 94.0h.9v.9h-.9zM85.9 83.6h.9v.9h-.9zM85.6 94.8h.9v.9h-.9zM83.8 94.3h.9v.9h-.9zM90.6 101.7h.9v.9h-.9zM81.6 90.2h.9v.9h-.9zM90.3 101.3h.9v.9h-.9zM88.9 96.2h.9v.9h-.9zM79.6 87.0h.9v.9h-.9zM96.5 89.0h.9v.9h-.9zM99.2 86.0h.9v.9h-.9zM86.0 80.0h.9v.9h-.9z" fill="#000" fill-opacity="0.45"/><path d="M73.4 94.8h.9v.9h-.9zM80.9 94.1h.9v.9h-.9zM68.6 83.3h.9v.9h-.9zM69.6 99.5h.9v.9h-.9zM74.0 101.5h.9v.9h-.9zM74.7 92.7h.9v.9h-.9zM73.3 94.2h.9v.9h-.9zM62.8 104.8h.9v.9h-.9zM72.0 85.7h.9v.9h-.9zM72.1 95.0h.9v.9h-.9zM75.4 103.0h.9v.9h-.9zM53.5 96.8h.9v.9h-.9zM78.3 86.4h.9v.9h-.9zM59.9 94.9h.9v.9h-.9zM71.8 95.4h.9v.9h-.9zM64.0 89.8h.9v.9h-.9zM71.1 98.2h.9v.9h-.9zM81.9 95.0h.9v.9h-.9zM66.7 76.6h.9v.9h-.9zM75.8 92.1h.9v.9h-.9zM69.4 86.1h.9v.9h-.9zM74.0 80.6h.9v.9h-.9zM70.6 93.8h.9v.9h-.9zM71.6 102.1h.9v.9h-.9zM69.5 93.7h.9v.9h-.9zM74.7 82.2h.9v.9h-.9zM68.4 93.5h.9v.9h-.9zM75.2 87.4h.9v.9h-.9zM74.4 95.7h.9v.9h-.9zM61.9 82.7h.9v.9h-.9zM62.2 94.0h.9v.9h-.9zM71.1 98.0h.9v.9h-.9zM74.5 89.2h.9v.9h-.9zM75.8 98.7h.9v.9h-.9zM72.6 96.3h.9v.9h-.9zM63.0 95.5h.9v.9h-.9zM64.4 84.7h.9v.9h-.9zM68.1 94.0h.9v.9h-.9zM69.7 90.7h.9v.9h-.9zM64.5 94.3h.9v.9h-.9zM65.9 83.2h.9v.9h-.9zM70.5 103.1h.9v.9h-.9zM67.8 85.6h.9v.9h-.9zM77.6 104.9h.9v.9h-.9zM68.4 91.5h.9v.9h-.9zM70.7 99.9h.9v.9h-.9zM72.4 80.3h.9v.9h-.9zM64.0 84.4h.9v.9h-.9zM72.4 93.7h.9v.9h-.9zM79.8 91.1h.9v.9h-.9zM71.7 93.5h.9v.9h-.9zM71.6 103.3h.9v.9h-.9zM77.1 88.8h.9v.9h-.9zM73.8 90.3h.9v.9h-.9zM70.6 94.1h.9v.9h-.9zM70.1 89.7h.9v.9h-.9zM78.5 91.2h.9v.9h-.9zM73.9 104.7h.9v.9h-.9zM73.4 100.2h.9v.9h-.9zM77.6 100.6h.9v.9h-.9zM79.4 83.0h.9v.9h-.9zM80.7 93.2h.9v.9h-.9zM60.4 88.5h.9v.9h-.9zM62.4 92.8h.9v.9h-.9zM61.8 86.0h.9v.9h-.9zM71.6 94.1h.9v.9h-.9zM65.6 91.4h.9v.9h-.9zM69.5 93.5h.9v.9h-.9zM70.0 91.5h.9v.9h-.9zM74.8 81.8h.9v.9h-.9zM67.3 93.9h.9v.9h-.9zM67.8 89.1h.9v.9h-.9zM67.6 94.5h.9v.9h-.9zM76.8 91.7h.9v.9h-.9zM68.5 95.5h.9v.9h-.9zM68.7 79.5h.9v.9h-.9zM71.5 90.4h.9v.9h-.9zM66.9 97.4h.9v.9h-.9zM70.2 89.1h.9v.9h-.9zM58.0 81.0h.9v.9h-.9zM70.1 92.2h.9v.9h-.9zM72.4 94.6h.9v.9h-.9zM67.4 84.2h.9v.9h-.9zM64.0 92.0h.9v.9h-.9zM63.7 98.3h.9v.9h-.9zM62.7 80.5h.9v.9h-.9zM68.9 80.6h.9v.9h-.9zM78.9 86.1h.9v.9h-.9zM69.7 91.3h.9v.9h-.9zM65.5 80.6h.9v.9h-.9zM59.8 99.1h.9v.9h-.9zM62.0 96.9h.9v.9h-.9zM69.9 98.9h.9v.9h-.9zM67.2 98.0h.9v.9h-.9zM74.9 97.2h.9v.9h-.9zM78.0 91.8h.9v.9h-.9zM78.5 88.1h.9v.9h-.9zM79.2 73.8h.9v.9h-.9zM70.1 87.4h.9v.9h-.9zM70.0 100.2h.9v.9h-.9zM73.9 93.7h.9v.9h-.9zM79.4 82.7h.9v.9h-.9zM65.5 103.6h.9v.9h-.9zM71.8 78.5h.9v.9h-.9zM71.9 84.7h.9v.9h-.9zM78.1 101.0h.9v.9h-.9zM67.0 102.1h.9v.9h-.9zM65.4 99.4h.9v.9h-.9zM73.2 92.1h.9v.9h-.9zM62.2 91.0h.9v.9h-.9zM57.4 89.1h.9v.9h-.9zM59.8 101.5h.9v.9h-.9zM64.7 76.0h.9v.9h-.9zM73.2 95.6h.9v.9h-.9zM74.3 93.5h.9v.9h-.9zM66.5 72.3h.9v.9h-.9zM72.6 99.7h.9v.9h-.9zM66.7 83.1h.9v.9h-.9zM69.8 81.3h.9v.9h-.9zM70.0 98.4h.9v.9h-.9zM78.3 94.9h.9v.9h-.9zM71.1 98.2h.9v.9h-.9zM77.7 90.8h.9v.9h-.9zM63.2 87.5h.9v.9h-.9zM63.1 86.8h.9v.9h-.9zM69.3 95.4h.9v.9h-.9zM70.9 93.5h.9v.9h-.9zM68.0 96.0h.9v.9h-.9zM74.9 98.3h.9v.9h-.9zM78.2 91.0h.9v.9h-.9zM68.6 104.9h.9v.9h-.9zM71.1 95.9h.9v.9h-.9zM68.2 99.8h.9v.9h-.9zM67.8 85.9h.9v.9h-.9zM69.7 89.9h.9v.9h-.9zM74.6 90.4h.9v.9h-.9zM70.7 91.5h.9v.9h-.9zM71.9 88.6h.9v.9h-.9zM76.1 83.0h.9v.9h-.9zM67.9 88.0h.9v.9h-.9zM73.6 93.3h.9v.9h-.9zM72.7 90.7h.9v.9h-.9zM66.1 85.2h.9v.9h-.9zM68.2 89.3h.9v.9h-.9zM71.5 95.5h.9v.9h-.9zM75.4 92.3h.9v.9h-.9zM65.9 85.6h.9v.9h-.9zM70.3 95.5h.9v.9h-.9zM80.7 94.3h.9v.9h-.9zM79.7 106.1h.9v.9h-.9zM64.2 101.5h.9v.9h-.9zM76.3 102.4h.9v.9h-.9zM69.9 99.7h.9v.9h-.9zM67.4 92.5h.9v.9h-.9zM70.1 105.5h.9v.9h-.9zM68.8 99.7h.9v.9h-.9zM70.4 88.0h.9v.9h-.9zM71.3 97.6h.9v.9h-.9zM66.1 97.4h.9v.9h-.9zM66.1 86.9h.9v.9h-.9zM71.2 91.4h.9v.9h-.9zM64.6 81.6h.9v.9h-.9zM70.1 94.7h.9v.9h-.9zM67.5 94.3h.9v.9h-.9zM61.6 95.7h.9v.9h-.9zM72.3 94.9h.9v.9h-.9z" fill="#000" fill-opacity="0.50"/></g><rect x="40.5" y="32.5" width="90.0" height="76.0" fill="none" stroke="#6a6a6a" stroke-width="1"/><line x1="75.5" y1="32.5" x2="75.5" y2="108.5" stroke="#444" stroke-width="1"/><line x1="40.5" y1="77.5" x2="130.5" y2="77.5" stroke="#444" stroke-width="1"/><path d="M40.5 108.5v2.0M40.5 108.5h-2.0M47.3 108.5v1.2M40.5 102.8h-1.2M51.2 108.5v1.2M40.5 99.4h-1.2M54.0 108.5v1.2M40.5 97.1h-1.2M56.2 108.5v1.2M40.5 95.2h-1.2M58.0 108.5v1.2M40.5 93.7h-1.2M59.5 108.5v1.2M40.5 92.4h-1.2M60.8 108.5v1.2M40.5 91.3h-1.2M62.0 108.5v1.2M40.5 90.4h-1.2M63.0 108.5v2.0M40.5 89.5h-2.0M69.8 108.5v1.2M40.5 83.8h-1.2M73.7 108.5v1.2M40.5 80.4h-1.2M76.5 108.5v1.2M40.5 78.1h-1.2M78.7 108.5v1.2M40.5 76.2h-1.2M80.5 108.5v1.2M40.5 74.7h-1.2M82.0 108.5v1.2M40.5 73.4h-1.2M83.3 108.5v1.2M40.5 72.3h-1.2M84.5 108.5v1.2M40.5 71.4h-1.2M85.5 108.5v2.0M40.5 70.5h-2.0M92.3 108.5v1.2M40.5 64.8h-1.2M96.2 108.5v1.2M40.5 61.4h-1.2M99.0 108.5v1.2M40.5 59.1h-1.2M101.2 108.5v1.2M40.5 57.2h-1.2M103.0 108.5v1.2M40.5 55.7h-1.2M104.5 108.5v1.2M40.5 54.4h-1.2M105.8 108.5v1.2M40.5 53.3h-1.2M107.0 108.5v1.2M40.5 52.4h-1.2M108.0 108.5v2.0M40.5 51.5h-2.0M114.8 108.5v1.2M40.5 45.8h-1.2M118.7 108.5v1.2M40.5 42.4h-1.2M121.5 108.5v1.2M40.5 40.1h-1.2M123.7 108.5v1.2M40.5 38.2h-1.2M125.5 108.5v1.2M40.5 36.7h-1.2M127.0 108.5v1.2M40.5 35.4h-1.2M128.3 108.5v1.2M40.5 34.3h-1.2M129.5 108.5v1.2M40.5 33.4h-1.2" stroke="#444" stroke-width="0.7" fill="none"/><g transform="translate(38.1 117.9)"><text x="0" y="0" class="tl" textLength="7.0" lengthAdjust="spacingAndGlyphs">10</text><text x="8.1" y="-3.3" class="sup">0</text></g><g transform="translate(38.7 112.9) rotate(-90)"><text x="0" y="0" class="tl" textLength="7.0" lengthAdjust="spacingAndGlyphs">10</text><text x="8.1" y="-3.3" class="sup">0</text></g><g transform="translate(60.6 117.9)"><text x="0" y="0" class="tl" textLength="7.0" lengthAdjust="spacingAndGlyphs">10</text><text x="8.1" y="-3.3" class="sup">1</text></g><g transform="translate(38.7 93.9) rotate(-90)"><text x="0" y="0" class="tl" textLength="7.0" lengthAdjust="spacingAndGlyphs">10</text><text x="8.1" y="-3.3" class="sup">1</text></g><g transform="translate(83.1 117.9)"><text x="0" y="0" class="tl" textLength="7.0" lengthAdjust="spacingAndGlyphs">10</text><text x="8.1" y="-3.3" class="sup">2</text></g><g transform="translate(38.7 74.9) rotate(-90)"><text x="0" y="0" class="tl" textLength="7.0" lengthAdjust="spacingAndGlyphs">10</text><text x="8.1" y="-3.3" class="sup">2</text></g><g transform="translate(105.6 117.9)"><text x="0" y="0" class="tl" textLength="7.0" lengthAdjust="spacingAndGlyphs">10</text><text x="8.1" y="-3.3" class="sup">3</text></g><g transform="translate(38.7 55.9) rotate(-90)"><text x="0" y="0" class="tl" textLength="7.0" lengthAdjust="spacingAndGlyphs">10</text><text x="8.1" y="-3.3" class="sup">3</text></g><g transform="translate(128.1 117.9)"><text x="0" y="0" class="tl" textLength="7.0" lengthAdjust="spacingAndGlyphs">10</text><text x="8.1" y="-3.3" class="sup">4</text></g><g transform="translate(38.7 36.9) rotate(-90)"><text x="0" y="0" class="tl" textLength="7.0" lengthAdjust="spacingAndGlyphs">10</text><text x="8.1" y="-3.3" class="sup">4</text></g><g filter="url(#bl)"><path d="M182.0 69.7h.9v.9h-.9zM186.8 72.1h.9v.9h-.9zM187.8 70.1h.9v.9h-.9zM181.3 71.6h.9v.9h-.9zM193.6 68.3h.9v.9h-.9zM190.2 70.2h.9v.9h-.9zM185.7 66.4h.9v.9h-.9zM197.4 65.0h.9v.9h-.9zM188.0 68.6h.9v.9h-.9zM193.4 68.5h.9v.9h-.9zM186.3 71.0h.9v.9h-.9zM189.0 68.3h.9v.9h-.9zM190.4 70.4h.9v.9h-.9zM192.4 68.3h.9v.9h-.9zM185.7 68.6h.9v.9h-.9zM180.6 70.1h.9v.9h-.9zM188.7 72.9h.9v.9h-.9zM183.9 70.4h.9v.9h-.9zM193.4 69.2h.9v.9h-.9zM186.4 69.8h.9v.9h-.9zM181.5 67.1h.9v.9h-.9zM193.2 69.9h.9v.9h-.9zM185.5 66.5h.9v.9h-.9zM186.8 72.3h.9v.9h-.9zM178.5 67.4h.9v.9h-.9zM193.2 72.9h.9v.9h-.9zM196.1 68.2h.9v.9h-.9zM189.9 67.7h.9v.9h-.9zM189.4 68.6h.9v.9h-.9zM187.3 72.7h.9v.9h-.9zM188.2 68.9h.9v.9h-.9zM186.4 70.1h.9v.9h-.9zM182.7 70.0h.9v.9h-.9zM189.9 73.2h.9v.9h-.9zM172.7 66.7h.9v.9h-.9zM178.0 71.6h.9v.9h-.9zM201.8 70.0h.9v.9h-.9zM186.8 72.2h.9v.9h-.9zM170.2 69.1h.9v.9h-.9zM165.9 69.9h.9v.9h-.9zM182.7 68.3h.9v.9h-.9zM188.2 68.1h.9v.9h-.9zM193.2 69.5h.9v.9h-.9zM188.5 75.6h.9v.9h-.9zM183.1 71.7h.9v.9h-.9zM180.7 72.5h.9v.9h-.9zM192.2 69.8h.9v.9h-.9zM192.4 73.3h.9v.9h-.9zM194.9 69.5h.9v.9h-.9zM185.6 72.1h.9v.9h-.9zM176.5 68.1h.9v.9h-.9zM189.1 70.9h.9v.9h-.9zM198.0 73.7h.9v.9h-.9zM188.1 70.6h.9v.9h-.9zM177.5 69.1h.9v.9h-.9zM187.7 69.0h.9v.9h-.9zM186.4 70.9h.9v.9h-.9zM179.9 68.2h.9v.9h-.9zM174.6 72.2h.9v.9h-.9zM179.2 65.5h.9v.9h-.9zM191.0 69.0h.9v.9h-.9zM192.2 68.6h.9v.9h-.9zM199.7 71.2h.9v.9h-.9zM187.0 69.8h.9v.9h-.9zM184.7 71.4h.9v.9h-.9zM198.9 68.5h.9v.9h-.9zM179.0 70.9h.9v.9h-.9zM192.9 66.0h.9v.9h-.9zM181.6 67.1h.9v.9h-.9zM189.6 70.7h.9v.9h-.9zM181.3 66.8h.9v.9h-.9zM190.4 64.6h.9v.9h-.9zM190.1 69.1h.9v.9h-.9zM198.3 71.9h.9v.9h-.9zM182.3 68.9h.9v.9h-.9zM184.2 67.8h.9v.9h-.9zM186.5 71.8h.9v.9h-.9zM176.3 69.0h.9v.9h-.9zM195.6 71.3h.9v.9h-.9zM180.8 67.6h.9v.9h-.9zM180.5 65.7h.9v.9h-.9zM193.4 69.7h.9v.9h-.9zM181.5 66.1h.9v.9h-.9zM183.5 68.3h.9v.9h-.9zM197.0 68.4h.9v.9h-.9zM186.7 72.0h.9v.9h-.9zM190.3 69.1h.9v.9h-.9zM172.0 72.8h.9v.9h-.9zM189.8 68.5h.9v.9h-.9zM185.4 67.2h.9v.9h-.9zM180.3 66.0h.9v.9h-.9zM189.2 70.7h.9v.9h-.9zM187.1 71.3h.9v.9h-.9zM189.4 69.8h.9v.9h-.9zM180.4 70.9h.9v.9h-.9zM193.6 71.0h.9v.9h-.9zM194.0 68.4h.9v.9h-.9zM179.7 72.5h.9v.9h-.9zM182.3 70.1h.9v.9h-.9zM184.8 69.6h.9v.9h-.9zM184.3 68.2h.9v.9h-.9zM174.6 74.0h.9v.9h-.9zM187.3 65.0h.9v.9h-.9zM180.2 66.8h.9v.9h-.9zM181.3 63.5h.9v.9h-.9zM189.7 73.4h.9v.9h-.9zM184.4 71.3h.9v.9h-.9zM189.8 66.6h.9v.9h-.9zM193.8 65.5h.9v.9h-.9zM182.3 68.7h.9v.9h-.9zM194.0 69.8h.9v.9h-.9zM185.2 67.6h.9v.9h-.9zM186.6 69.6h.9v.9h-.9zM190.7 72.8h.9v.9h-.9zM190.7 69.5h.9v.9h-.9zM185.0 73.3h.9v.9h-.9zM187.3 69.5h.9v.9h-.9zM197.4 73.2h.9v.9h-.9zM189.6 69.2h.9v.9h-.9zM182.0 72.0h.9v.9h-.9zM183.1 71.8h.9v.9h-.9zM181.0 69.7h.9v.9h-.9zM188.6 69.8h.9v.9h-.9zM187.5 70.4h.9v.9h-.9zM178.9 66.9h.9v.9h-.9zM185.1 73.7h.9v.9h-.9zM185.2 67.3h.9v.9h-.9zM181.8 69.6h.9v.9h-.9zM193.5 68.2h.9v.9h-.9zM189.6 69.9h.9v.9h-.9zM183.7 67.3h.9v.9h-.9zM185.0 67.8h.9v.9h-.9zM189.4 65.4h.9v.9h-.9zM193.2 71.3h.9v.9h-.9zM189.7 73.0h.9v.9h-.9zM189.8 65.5h.9v.9h-.9zM186.3 70.6h.9v.9h-.9zM181.7 66.8h.9v.9h-.9zM188.7 70.7h.9v.9h-.9zM183.3 68.9h.9v.9h-.9zM182.8 68.2h.9v.9h-.9zM185.6 72.0h.9v.9h-.9zM175.8 68.7h.9v.9h-.9zM196.2 70.2h.9v.9h-.9zM187.0 71.5h.9v.9h-.9zM179.6 66.7h.9v.9h-.9zM175.5 66.1h.9v.9h-.9zM187.6 71.5h.9v.9h-.9zM183.4 67.9h.9v.9h-.9zM188.6 70.9h.9v.9h-.9zM187.6 65.0h.9v.9h-.9zM182.5 63.6h.9v.9h-.9zM187.5 67.5h.9v.9h-.9zM181.8 73.0h.9v.9h-.9zM194.4 70.6h.9v.9h-.9zM187.7 69.9h.9v.9h-.9zM182.3 69.4h.9v.9h-.9zM198.1 67.5h.9v.9h-.9zM181.8 69.9h.9v.9h-.9zM191.6 71.4h.9v.9h-.9zM179.9 69.2h.9v.9h-.9zM184.3 66.6h.9v.9h-.9zM186.5 68.4h.9v.9h-.9zM191.8 70.5h.9v.9h-.9zM181.1 69.7h.9v.9h-.9zM183.7 68.0h.9v.9h-.9zM182.9 72.0h.9v.9h-.9zM183.4 65.5h.9v.9h-.9zM181.1 71.4h.9v.9h-.9zM199.6 67.0h.9v.9h-.9zM183.8 68.7h.9v.9h-.9zM177.1 70.4h.9v.9h-.9zM185.7 70.2h.9v.9h-.9zM200.2 68.9h.9v.9h-.9zM191.0 71.4h.9v.9h-.9zM182.0 68.1h.9v.9h-.9zM195.8 71.2h.9v.9h-.9zM186.9 66.9h.9v.9h-.9zM191.6 70.7h.9v.9h-.9zM199.9 72.9h.9v.9h-.9z" fill="#000" fill-opacity="0.60"/><path d="M209.7 71.2h.9v.9h-.9zM205.4 69.1h.9v.9h-.9zM206.8 71.1h.9v.9h-.9zM208.8 73.2h.9v.9h-.9zM206.8 69.1h.9v.9h-.9zM209.7 74.4h.9v.9h-.9zM200.1 71.6h.9v.9h-.9zM208.2 71.9h.9v.9h-.9zM207.9 70.3h.9v.9h-.9zM204.4 74.8h.9v.9h-.9zM215.1 67.0h.9v.9h-.9zM190.2 71.6h.9v.9h-.9zM201.1 69.2h.9v.9h-.9zM195.7 71.4h.9v.9h-.9zM204.7 69.1h.9v.9h-.9zM210.2 76.6h.9v.9h-.9zM213.6 73.5h.9v.9h-.9zM202.6 72.2h.9v.9h-.9zM204.8 73.4h.9v.9h-.9zM208.4 70.4h.9v.9h-.9zM208.2 68.7h.9v.9h-.9zM209.6 74.3h.9v.9h-.9zM202.9 71.9h.9v.9h-.9zM195.3 72.9h.9v.9h-.9zM210.1 67.9h.9v.9h-.9zM215.2 70.8h.9v.9h-.9zM194.9 67.0h.9v.9h-.9zM210.1 69.8h.9v.9h-.9zM211.4 66.6h.9v.9h-.9zM204.4 73.0h.9v.9h-.9zM201.1 72.2h.9v.9h-.9zM202.9 71.4h.9v.9h-.9zM206.9 76.1h.9v.9h-.9zM197.8 72.5h.9v.9h-.9zM212.7 67.7h.9v.9h-.9zM205.5 76.3h.9v.9h-.9zM211.1 63.0h.9v.9h-.9zM203.6 66.2h.9v.9h-.9zM206.8 68.7h.9v.9h-.9zM201.7 68.4h.9v.9h-.9zM206.7 69.3h.9v.9h-.9zM199.7 69.9h.9v.9h-.9zM207.4 68.3h.9v.9h-.9zM211.5 66.3h.9v.9h-.9zM207.4 69.5h.9v.9h-.9zM214.2 68.9h.9v.9h-.9zM201.1 67.1h.9v.9h-.9zM216.6 72.1h.9v.9h-.9zM198.7 69.7h.9v.9h-.9zM199.4 74.3h.9v.9h-.9zM207.4 65.4h.9v.9h-.9zM206.2 72.8h.9v.9h-.9zM205.0 71.7h.9v.9h-.9zM204.4 71.0h.9v.9h-.9zM206.2 68.7h.9v.9h-.9zM207.0 70.9h.9v.9h-.9zM204.8 68.8h.9v.9h-.9zM199.1 71.1h.9v.9h-.9zM209.8 64.4h.9v.9h-.9zM201.9 73.9h.9v.9h-.9zM210.3 68.7h.9v.9h-.9zM212.9 68.0h.9v.9h-.9zM200.4 75.4h.9v.9h-.9zM202.5 70.0h.9v.9h-.9zM195.4 67.9h.9v.9h-.9zM198.1 70.2h.9v.9h-.9zM194.3 73.2h.9v.9h-.9zM202.9 69.0h.9v.9h-.9zM201.3 72.4h.9v.9h-.9zM213.9 69.5h.9v.9h-.9zM214.4 74.6h.9v.9h-.9zM212.8 71.3h.9v.9h-.9zM196.3 72.2h.9v.9h-.9zM202.6 71.0h.9v.9h-.9zM194.0 69.8h.9v.9h-.9zM206.4 68.1h.9v.9h-.9zM206.7 74.7h.9v.9h-.9zM206.3 68.8h.9v.9h-.9zM218.9 65.1h.9v.9h-.9zM199.6 71.5h.9v.9h-.9zM201.5 64.7h.9v.9h-.9zM206.5 72.6h.9v.9h-.9zM200.4 74.2h.9v.9h-.9zM207.9 73.5h.9v.9h-.9zM196.1 70.5h.9v.9h-.9zM214.3 75.6h.9v.9h-.9zM212.7 70.5h.9v.9h-.9zM206.1 68.9h.9v.9h-.9zM211.4 68.7h.9v.9h-.9zM205.7 65.3h.9v.9h-.9zM196.2 75.0h.9v.9h-.9zM205.3 71.0h.9v.9h-.9zM192.2 70.4h.9v.9h-.9zM217.1 66.7h.9v.9h-.9zM191.1 70.1h.9v.9h-.9zM201.9 70.0h.9v.9h-.9zM197.6 67.1h.9v.9h-.9zM197.8 72.1h.9v.9h-.9zM204.7 72.6h.9v.9h-.9zM198.7 72.0h.9v.9h-.9zM202.4 70.7h.9v.9h-.9zM210.5 70.6h.9v.9h-.9zM202.9 66.3h.9v.9h-.9zM205.4 72.5h.9v.9h-.9zM201.3 70.3h.9v.9h-.9zM194.6 67.1h.9v.9h-.9zM207.4 73.8h.9v.9h-.9zM203.2 66.2h.9v.9h-.9zM202.8 66.5h.9v.9h-.9zM203.4 75.4h.9v.9h-.9zM206.8 70.1h.9v.9h-.9zM211.1 69.5h.9v.9h-.9zM207.0 71.0h.9v.9h-.9zM207.6 66.8h.9v.9h-.9zM209.2 72.7h.9v.9h-.9zM191.6 63.6h.9v.9h-.9zM199.7 74.3h.9v.9h-.9zM205.1 72.2h.9v.9h-.9zM208.3 72.8h.9v.9h-.9zM201.2 69.0h.9v.9h-.9zM207.2 72.1h.9v.9h-.9zM208.4 71.4h.9v.9h-.9zM202.1 73.3h.9v.9h-.9zM207.8 73.2h.9v.9h-.9zM190.0 73.1h.9v.9h-.9zM190.6 71.0h.9v.9h-.9zM201.1 70.8h.9v.9h-.9zM202.2 69.7h.9v.9h-.9zM206.1 71.4h.9v.9h-.9zM200.3 64.0h.9v.9h-.9z" fill="#000" fill-opacity="0.55"/><path d="M168.2 69.1h.9v.9h-.9zM167.8 68.8h.9v.9h-.9zM170.2 66.1h.9v.9h-.9zM177.8 71.3h.9v.9h-.9zM171.5 67.9h.9v.9h-.9zM176.7 65.4h.9v.9h-.9zM167.7 70.2h.9v.9h-.9zM176.4 67.0h.9v.9h-.9zM168.2 68.7h.9v.9h-.9zM165.1 67.0h.9v.9h-.9zM170.9 63.1h.9v.9h-.9zM174.9 69.5h.9v.9h-.9zM177.3 65.2h.9v.9h-.9zM165.7 66.4h.9v.9h-.9zM165.5 72.1h.9v.9h-.9zM167.2 67.4h.9v.9h-.9zM173.0 68.9h.9v.9h-.9zM179.2 65.8h.9v.9h-.9zM176.4 68.3h.9v.9h-.9zM166.2 68.3h.9v.9h-.9zM165.1 71.2h.9v.9h-.9zM168.4 70.0h.9v.9h-.9zM178.4 66.8h.9v.9h-.9zM167.6 68.3h.9v.9h-.9zM166.8 69.8h.9v.9h-.9zM172.9 66.5h.9v.9h-.9zM168.6 69.4h.9v.9h-.9zM164.8 71.4h.9v.9h-.9zM168.1 67.6h.9v.9h-.9zM167.4 71.2h.9v.9h-.9z" fill="#000" fill-opacity="0.35"/><path d="M206.4 106.0h.9v.9h-.9zM204.8 99.9h.9v.9h-.9zM214.2 102.8h.9v.9h-.9zM202.9 102.4h.9v.9h-.9zM205.6 100.9h.9v.9h-.9zM197.5 91.6h.9v.9h-.9zM217.4 93.0h.9v.9h-.9zM179.7 96.0h.9v.9h-.9zM216.3 105.6h.9v.9h-.9zM193.6 100.8h.9v.9h-.9zM198.8 89.6h.9v.9h-.9zM196.0 101.0h.9v.9h-.9zM209.5 93.5h.9v.9h-.9zM178.8 91.6h.9v.9h-.9zM202.0 99.9h.9v.9h-.9zM200.3 100.2h.9v.9h-.9zM195.7 92.7h.9v.9h-.9zM203.1 101.4h.9v.9h-.9zM204.2 105.7h.9v.9h-.9zM187.9 87.8h.9v.9h-.9zM190.8 101.5h.9v.9h-.9zM198.9 103.1h.9v.9h-.9zM227.9 96.9h.9v.9h-.9zM197.5 96.5h.9v.9h-.9zM201.2 102.1h.9v.9h-.9zM190.3 106.1h.9v.9h-.9zM209.3 101.7h.9v.9h-.9zM198.0 98.3h.9v.9h-.9zM184.2 102.8h.9v.9h-.9zM190.2 97.0h.9v.9h-.9zM208.0 94.9h.9v.9h-.9zM194.3 103.8h.9v.9h-.9zM215.7 96.0h.9v.9h-.9zM208.9 96.2h.9v.9h-.9zM202.5 101.9h.9v.9h-.9zM188.8 104.6h.9v.9h-.9zM215.2 99.8h.9v.9h-.9zM201.4 93.6h.9v.9h-.9zM215.1 99.8h.9v.9h-.9zM187.5 103.3h.9v.9h-.9zM185.8 96.1h.9v.9h-.9zM179.8 106.4h.9v.9h-.9zM218.9 96.3h.9v.9h-.9zM193.1 96.6h.9v.9h-.9zM193.9 102.3h.9v.9h-.9zM212.1 94.5h.9v.9h-.9zM203.0 90.5h.9v.9h-.9zM212.7 99.1h.9v.9h-.9zM192.7 107.2h.9v.9h-.9zM198.0 106.3h.9v.9h-.9zM191.8 99.8h.9v.9h-.9zM202.3 98.5h.9v.9h-.9zM212.7 95.9h.9v.9h-.9zM208.0 106.3h.9v.9h-.9zM181.4 94.7h.9v.9h-.9zM190.9 96.8h.9v.9h-.9zM202.5 98.6h.9v.9h-.9zM199.7 97.2h.9v.9h-.9zM198.3 101.9h.9v.9h-.9zM205.7 95.6h.9v.9h-.9zM198.0 95.7h.9v.9h-.9zM197.4 92.3h.9v.9h-.9zM207.6 102.9h.9v.9h-.9zM197.9 96.1h.9v.9h-.9zM194.9 96.2h.9v.9h-.9zM228.6 93.4h.9v.9h-.9zM188.5 102.4h.9v.9h-.9zM204.5 91.6h.9v.9h-.9zM181.7 102.2h.9v.9h-.9zM181.1 106.6h.9v.9h-.9zM194.5 99.9h.9v.9h-.9zM199.0 96.7h.9v.9h-.9zM197.7 98.0h.9v.9h-.9zM210.2 99.0h.9v.9h-.9zM198.7 96.9h.9v.9h-.9zM193.3 95.8h.9v.9h-.9zM209.0 100.7h.9v.9h-.9zM214.0 104.6h.9v.9h-.9zM200.9 98.7h.9v.9h-.9zM189.1 100.7h.9v.9h-.9zM196.2 91.6h.9v.9h-.9zM200.9 102.0h.9v.9h-.9zM200.8 97.2h.9v.9h-.9zM203.2 104.9h.9v.9h-.9zM196.2 102.1h.9v.9h-.9zM208.2 97.1h.9v.9h-.9zM200.5 95.8h.9v.9h-.9zM204.4 97.7h.9v.9h-.9zM209.3 95.7h.9v.9h-.9zM214.2 97.9h.9v.9h-.9zM191.4 95.0h.9v.9h-.9zM205.0 95.2h.9v.9h-.9zM215.2 105.9h.9v.9h-.9zM203.7 92.4h.9v.9h-.9zM198.8 95.9h.9v.9h-.9zM182.7 101.6h.9v.9h-.9zM218.8 96.8h.9v.9h-.9zM206.3 105.9h.9v.9h-.9zM190.4 97.8h.9v.9h-.9zM201.4 101.9h.9v.9h-.9zM188.7 100.6h.9v.9h-.9zM198.0 104.3h.9v.9h-.9zM184.6 96.7h.9v.9h-.9zM194.5 97.9h.9v.9h-.9zM205.5 96.4h.9v.9h-.9zM223.6 96.0h.9v.9h-.9zM206.6 104.6h.9v.9h-.9zM207.7 98.5h.9v.9h-.9zM191.5 98.2h.9v.9h-.9zM205.0 100.1h.9v.9h-.9zM204.2 102.4h.9v.9h-.9zM191.0 94.8h.9v.9h-.9zM212.0 97.1h.9v.9h-.9zM191.5 94.8h.9v.9h-.9zM207.7 93.8h.9v.9h-.9zM191.2 104.7h.9v.9h-.9zM200.2 99.8h.9v.9h-.9zM193.2 98.4h.9v.9h-.9zM194.5 99.4h.9v.9h-.9zM205.9 93.1h.9v.9h-.9zM190.7 89.0h.9v.9h-.9zM212.5 99.1h.9v.9h-.9zM198.9 99.2h.9v.9h-.9zM208.0 101.1h.9v.9h-.9zM206.7 98.7h.9v.9h-.9zM197.9 99.2h.9v.9h-.9zM182.2 104.9h.9v.9h-.9zM184.8 94.5h.9v.9h-.9zM205.0 99.8h.9v.9h-.9zM215.8 106.4h.9v.9h-.9zM191.1 99.1h.9v.9h-.9zM208.0 98.4h.9v.9h-.9zM197.9 97.7h.9v.9h-.9zM211.3 87.2h.9v.9h-.9zM210.5 104.8h.9v.9h-.9zM198.3 102.3h.9v.9h-.9zM190.3 105.0h.9v.9h-.9zM226.5 94.9h.9v.9h-.9zM211.6 99.2h.9v.9h-.9zM196.0 97.1h.9v.9h-.9zM197.3 93.2h.9v.9h-.9zM198.8 102.3h.9v.9h-.9zM201.8 101.9h.9v.9h-.9zM185.3 94.8h.9v.9h-.9zM204.7 104.5h.9v.9h-.9zM188.7 96.6h.9v.9h-.9zM189.4 102.8h.9v.9h-.9zM202.1 99.7h.9v.9h-.9zM193.2 101.2h.9v.9h-.9zM199.3 95.8h.9v.9h-.9zM202.0 96.2h.9v.9h-.9zM207.6 102.6h.9v.9h-.9zM192.8 102.4h.9v.9h-.9zM199.6 96.0h.9v.9h-.9zM190.8 91.2h.9v.9h-.9zM188.8 101.2h.9v.9h-.9zM209.9 96.4h.9v.9h-.9zM200.4 101.2h.9v.9h-.9zM206.0 101.7h.9v.9h-.9zM210.0 103.3h.9v.9h-.9zM192.1 101.5h.9v.9h-.9zM177.9 98.6h.9v.9h-.9zM199.2 102.4h.9v.9h-.9zM196.3 103.7h.9v.9h-.9zM210.9 95.3h.9v.9h-.9zM194.1 100.8h.9v.9h-.9zM203.4 100.2h.9v.9h-.9zM206.5 93.6h.9v.9h-.9zM206.0 105.3h.9v.9h-.9zM209.0 101.6h.9v.9h-.9zM196.9 101.5h.9v.9h-.9zM198.3 91.6h.9v.9h-.9zM193.6 99.3h.9v.9h-.9zM194.4 94.8h.9v.9h-.9zM196.9 97.6h.9v.9h-.9zM199.6 99.3h.9v.9h-.9zM200.5 104.5h.9v.9h-.9zM200.2 101.5h.9v.9h-.9zM188.0 84.8h.9v.9h-.9zM195.4 102.9h.9v.9h-.9zM195.9 96.4h.9v.9h-.9zM187.8 104.0h.9v.9h-.9zM194.3 100.7h.9v.9h-.9zM209.2 102.2h.9v.9h-.9zM219.2 98.8h.9v.9h-.9zM207.6 103.0h.9v.9h-.9zM193.1 99.7h.9v.9h-.9zM193.9 94.4h.9v.9h-.9zM201.7 95.6h.9v.9h-.9zM214.1 95.8h.9v.9h-.9zM194.1 100.0h.9v.9h-.9zM194.3 99.8h.9v.9h-.9zM193.5 92.4h.9v.9h-.9zM177.3 93.1h.9v.9h-.9zM212.7 101.7h.9v.9h-.9zM200.4 97.2h.9v.9h-.9zM197.7 101.0h.9v.9h-.9zM186.5 95.5h.9v.9h-.9zM191.0 105.8h.9v.9h-.9zM189.5 105.4h.9v.9h-.9zM198.3 99.7h.9v.9h-.9zM211.2 103.9h.9v.9h-.9zM207.5 94.2h.9v.9h-.9zM198.1 97.1h.9v.9h-.9zM189.2 104.6h.9v.9h-.9zM201.6 99.5h.9v.9h-.9zM206.9 99.4h.9v.9h-.9zM212.3 94.7h.9v.9h-.9zM206.9 94.5h.9v.9h-.9zM211.7 98.1h.9v.9h-.9zM210.0 97.4h.9v.9h-.9zM202.6 105.2h.9v.9h-.9zM190.9 100.0h.9v.9h-.9zM191.5 103.8h.9v.9h-.9zM193.6 97.6h.9v.9h-.9zM197.2 105.3h.9v.9h-.9zM189.6 99.4h.9v.9h-.9zM196.0 96.8h.9v.9h-.9zM191.9 98.7h.9v.9h-.9zM200.8 91.8h.9v.9h-.9zM201.1 93.6h.9v.9h-.9zM190.3 99.2h.9v.9h-.9zM196.7 104.4h.9v.9h-.9zM194.7 90.6h.9v.9h-.9zM184.5 100.4h.9v.9h-.9zM201.3 104.8h.9v.9h-.9zM194.2 102.8h.9v.9h-.9zM189.4 106.0h.9v.9h-.9zM198.4 96.1h.9v.9h-.9zM191.4 93.3h.9v.9h-.9zM189.9 93.7h.9v.9h-.9zM198.5 101.3h.9v.9h-.9zM197.5 100.5h.9v.9h-.9zM209.7 98.1h.9v.9h-.9zM187.7 88.1h.9v.9h-.9zM201.2 96.1h.9v.9h-.9zM196.8 101.5h.9v.9h-.9zM203.2 91.7h.9v.9h-.9zM190.4 99.9h.9v.9h-.9zM197.7 105.2h.9v.9h-.9zM194.5 89.2h.9v.9h-.9zM209.5 91.3h.9v.9h-.9zM190.3 101.4h.9v.9h-.9zM201.1 102.2h.9v.9h-.9zM203.9 95.9h.9v.9h-.9zM210.3 91.1h.9v.9h-.9zM193.7 100.9h.9v.9h-.9zM200.2 94.7h.9v.9h-.9zM213.2 106.9h.9v.9h-.9zM190.6 101.4h.9v.9h-.9zM193.3 97.3h.9v.9h-.9zM207.9 100.1h.9v.9h-.9zM198.0 100.0h.9v.9h-.9zM188.4 105.6h.9v.9h-.9zM192.2 106.0h.9v.9h-.9zM194.9 97.2h.9v.9h-.9zM212.4 100.5h.9v.9h-.9zM193.2 96.8h.9v.9h-.9zM204.5 97.5h.9v.9h-.9zM188.9 96.1h.9v.9h-.9zM197.9 100.7h.9v.9h-.9zM193.1 105.9h.9v.9h-.9zM190.4 95.9h.9v.9h-.9zM203.5 101.9h.9v.9h-.9zM195.5 104.3h.9v.9h-.9zM199.5 106.1h.9v.9h-.9zM197.2 100.5h.9v.9h-.9zM203.7 90.8h.9v.9h-.9zM172.7 101.4h.9v.9h-.9zM207.3 101.1h.9v.9h-.9zM200.8 106.4h.9v.9h-.9zM202.0 90.0h.9v.9h-.9zM190.5 98.0h.9v.9h-.9zM200.3 97.3h.9v.9h-.9zM172.6 105.3h.9v.9h-.9zM207.4 102.5h.9v.9h-.9zM199.1 99.8h.9v.9h-.9zM202.3 100.7h.9v.9h-.9zM192.5 103.4h.9v.9h-.9zM191.6 99.3h.9v.9h-.9zM195.8 93.7h.9v.9h-.9zM204.4 99.2h.9v.9h-.9zM188.5 99.1h.9v.9h-.9zM186.6 106.7h.9v.9h-.9zM193.9 103.0h.9v.9h-.9zM190.3 95.2h.9v.9h-.9zM198.2 101.6h.9v.9h-.9zM207.3 98.2h.9v.9h-.9zM208.9 104.3h.9v.9h-.9zM191.1 98.6h.9v.9h-.9zM194.1 103.9h.9v.9h-.9zM207.2 98.2h.9v.9h-.9zM194.6 101.2h.9v.9h-.9zM192.0 93.2h.9v.9h-.9zM190.3 101.2h.9v.9h-.9zM182.6 102.0h.9v.9h-.9zM188.7 105.3h.9v.9h-.9zM205.2 100.1h.9v.9h-.9zM212.2 97.6h.9v.9h-.9zM194.3 94.3h.9v.9h-.9zM193.1 100.1h.9v.9h-.9zM205.0 105.9h.9v.9h-.9zM196.6 95.9h.9v.9h-.9zM196.0 97.4h.9v.9h-.9zM194.8 97.5h.9v.9h-.9zM191.2 99.2h.9v.9h-.9zM194.4 98.7h.9v.9h-.9zM186.6 100.2h.9v.9h-.9zM204.1 102.7h.9v.9h-.9zM194.1 93.8h.9v.9h-.9zM187.4 93.7h.9v.9h-.9zM193.3 98.0h.9v.9h-.9zM183.1 102.8h.9v.9h-.9zM185.2 96.1h.9v.9h-.9zM192.6 103.6h.9v.9h-.9zM215.4 97.7h.9v.9h-.9zM196.6 97.6h.9v.9h-.9zM197.2 98.7h.9v.9h-.9zM221.0 94.1h.9v.9h-.9zM198.0 95.6h.9v.9h-.9zM202.2 96.9h.9v.9h-.9zM204.1 94.1h.9v.9h-.9zM217.8 100.5h.9v.9h-.9zM183.2 103.0h.9v.9h-.9zM194.8 93.8h.9v.9h-.9zM202.9 96.9h.9v.9h-.9zM205.6 96.8h.9v.9h-.9zM207.0 100.2h.9v.9h-.9zM202.2 100.3h.9v.9h-.9zM195.8 97.7h.9v.9h-.9zM203.0 103.0h.9v.9h-.9zM214.1 93.8h.9v.9h-.9zM208.7 99.2h.9v.9h-.9zM201.1 95.6h.9v.9h-.9zM213.7 95.4h.9v.9h-.9zM198.3 95.9h.9v.9h-.9zM216.2 105.7h.9v.9h-.9zM187.3 97.3h.9v.9h-.9zM202.2 97.4h.9v.9h-.9zM195.9 94.2h.9v.9h-.9zM201.2 94.1h.9v.9h-.9zM202.3 96.2h.9v.9h-.9zM195.9 94.8h.9v.9h-.9zM200.0 103.0h.9v.9h-.9zM207.3 98.1h.9v.9h-.9zM188.4 99.1h.9v.9h-.9zM213.9 100.9h.9v.9h-.9zM198.4 89.3h.9v.9h-.9zM195.2 102.2h.9v.9h-.9zM190.6 106.1h.9v.9h-.9zM194.0 95.2h.9v.9h-.9zM193.9 99.1h.9v.9h-.9zM207.9 96.7h.9v.9h-.9zM183.2 99.1h.9v.9h-.9zM203.6 107.1h.9v.9h-.9zM189.0 106.8h.9v.9h-.9zM205.0 101.7h.9v.9h-.9zM192.2 95.2h.9v.9h-.9zM190.5 104.1h.9v.9h-.9zM200.9 104.8h.9v.9h-.9zM215.1 99.6h.9v.9h-.9zM187.4 97.3h.9v.9h-.9zM195.7 97.7h.9v.9h-.9zM200.3 95.4h.9v.9h-.9zM209.3 92.8h.9v.9h-.9zM191.8 91.2h.9v.9h-.9zM186.6 102.4h.9v.9h-.9zM204.6 98.6h.9v.9h-.9zM206.5 102.5h.9v.9h-.9zM193.9 99.3h.9v.9h-.9zM195.1 101.3h.9v.9h-.9zM203.8 105.5h.9v.9h-.9zM202.8 104.8h.9v.9h-.9zM189.6 98.2h.9v.9h-.9zM181.9 99.3h.9v.9h-.9zM219.6 100.7h.9v.9h-.9zM199.8 100.8h.9v.9h-.9zM200.3 93.0h.9v.9h-.9zM192.9 98.7h.9v.9h-.9zM200.5 95.3h.9v.9h-.9zM198.1 95.9h.9v.9h-.9zM187.3 96.3h.9v.9h-.9zM191.9 103.6h.9v.9h-.9zM210.9 102.4h.9v.9h-.9zM197.1 96.8h.9v.9h-.9zM185.1 97.0h.9v.9h-.9zM212.8 105.2h.9v.9h-.9zM201.0 98.3h.9v.9h-.9zM199.0 101.6h.9v.9h-.9zM198.9 101.6h.9v.9h-.9zM192.2 99.8h.9v.9h-.9zM195.9 104.8h.9v.9h-.9zM188.0 105.9h.9v.9h-.9zM198.2 97.1h.9v.9h-.9zM199.2 100.1h.9v.9h-.9zM196.9 101.6h.9v.9h-.9zM193.9 91.3h.9v.9h-.9zM205.2 99.4h.9v.9h-.9zM213.7 101.4h.9v.9h-.9zM181.3 105.6h.9v.9h-.9zM192.9 102.2h.9v.9h-.9zM218.6 104.9h.9v.9h-.9zM189.3 99.1h.9v.9h-.9zM184.8 102.8h.9v.9h-.9zM204.0 94.5h.9v.9h-.9zM203.0 104.1h.9v.9h-.9zM206.1 96.3h.9v.9h-.9zM192.9 94.1h.9v.9h-.9zM187.6 101.1h.9v.9h-.9zM199.4 105.9h.9v.9h-.9zM201.4 98.0h.9v.9h-.9zM186.4 107.1h.9v.9h-.9zM200.5 99.4h.9v.9h-.9zM190.1 94.4h.9v.9h-.9zM204.6 94.8h.9v.9h-.9zM204.2 102.6h.9v.9h-.9zM195.6 91.6h.9v.9h-.9zM202.6 106.4h.9v.9h-.9zM191.7 93.4h.9v.9h-.9zM208.6 100.2h.9v.9h-.9zM193.5 105.5h.9v.9h-.9zM196.6 101.7h.9v.9h-.9zM195.4 95.9h.9v.9h-.9zM200.9 95.4h.9v.9h-.9zM183.3 96.9h.9v.9h-.9zM209.9 104.9h.9v.9h-.9zM218.2 104.4h.9v.9h-.9zM213.3 100.8h.9v.9h-.9zM195.2 101.8h.9v.9h-.9zM190.6 103.1h.9v.9h-.9zM195.0 100.8h.9v.9h-.9zM191.5 98.9h.9v.9h-.9zM207.7 98.5h.9v.9h-.9zM193.1 100.9h.9v.9h-.9zM206.8 98.6h.9v.9h-.9zM188.7 92.0h.9v.9h-.9zM187.2 104.7h.9v.9h-.9zM198.2 101.9h.9v.9h-.9zM208.5 100.9h.9v.9h-.9zM203.3 97.1h.9v.9h-.9zM184.8 102.6h.9v.9h-.9zM198.2 102.3h.9v.9h-.9zM189.6 98.9h.9v.9h-.9zM216.8 95.5h.9v.9h-.9zM199.9 105.9h.9v.9h-.9zM197.0 100.2h.9v.9h-.9zM180.2 103.3h.9v.9h-.9zM195.1 105.8h.9v.9h-.9zM198.2 97.8h.9v.9h-.9zM202.8 98.4h.9v.9h-.9zM194.5 107.0h.9v.9h-.9zM207.7 100.1h.9v.9h-.9zM206.1 103.5h.9v.9h-.9zM204.1 99.8h.9v.9h-.9zM199.6 101.5h.9v.9h-.9zM204.0 101.3h.9v.9h-.9zM194.1 99.2h.9v.9h-.9zM203.0 94.8h.9v.9h-.9zM198.9 103.2h.9v.9h-.9zM200.5 98.2h.9v.9h-.9zM198.8 97.2h.9v.9h-.9zM207.7 97.8h.9v.9h-.9zM184.3 93.8h.9v.9h-.9zM201.6 100.6h.9v.9h-.9zM194.8 93.3h.9v.9h-.9zM197.7 95.5h.9v.9h-.9zM193.2 99.6h.9v.9h-.9zM192.2 101.1h.9v.9h-.9zM192.5 97.3h.9v.9h-.9zM197.0 106.6h.9v.9h-.9zM212.9 104.1h.9v.9h-.9zM192.5 99.6h.9v.9h-.9zM207.1 103.4h.9v.9h-.9zM184.7 99.3h.9v.9h-.9zM192.5 103.2h.9v.9h-.9zM204.6 97.0h.9v.9h-.9zM217.9 98.2h.9v.9h-.9zM220.5 98.8h.9v.9h-.9zM194.4 97.3h.9v.9h-.9zM212.0 99.4h.9v.9h-.9zM203.2 93.6h.9v.9h-.9zM214.8 104.3h.9v.9h-.9zM202.1 103.0h.9v.9h-.9zM194.6 97.3h.9v.9h-.9zM185.2 101.3h.9v.9h-.9zM209.9 103.7h.9v.9h-.9zM207.1 103.0h.9v.9h-.9zM190.9 93.3h.9v.9h-.9zM204.6 100.4h.9v.9h-.9zM207.7 98.3h.9v.9h-.9zM191.2 101.7h.9v.9h-.9zM194.1 91.8h.9v.9h-.9zM193.6 95.4h.9v.9h-.9zM189.2 97.0h.9v.9h-.9zM214.2 97.6h.9v.9h-.9zM209.1 99.2h.9v.9h-.9zM202.5 96.4h.9v.9h-.9zM198.3 91.6h.9v.9h-.9zM214.8 95.9h.9v.9h-.9zM204.2 96.8h.9v.9h-.9zM201.4 94.0h.9v.9h-.9zM195.7 103.9h.9v.9h-.9zM204.2 90.3h.9v.9h-.9zM206.5 93.3h.9v.9h-.9zM201.5 102.1h.9v.9h-.9zM193.3 98.1h.9v.9h-.9zM196.8 101.5h.9v.9h-.9zM207.1 106.1h.9v.9h-.9zM196.7 103.2h.9v.9h-.9zM197.9 100.0h.9v.9h-.9zM190.9 101.4h.9v.9h-.9zM216.8 100.3h.9v.9h-.9zM198.8 99.6h.9v.9h-.9zM205.3 98.6h.9v.9h-.9zM199.0 100.6h.9v.9h-.9zM210.5 104.1h.9v.9h-.9zM189.7 96.6h.9v.9h-.9zM199.2 103.6h.9v.9h-.9zM207.5 98.6h.9v.9h-.9zM217.7 98.8h.9v.9h-.9zM211.4 106.3h.9v.9h-.9zM213.1 100.5h.9v.9h-.9zM204.1 92.3h.9v.9h-.9zM183.3 96.7h.9v.9h-.9zM205.3 104.6h.9v.9h-.9zM198.1 104.5h.9v.9h-.9zM204.1 106.8h.9v.9h-.9zM185.0 95.6h.9v.9h-.9zM190.6 94.6h.9v.9h-.9zM213.5 95.2h.9v.9h-.9zM191.7 97.7h.9v.9h-.9zM206.8 97.4h.9v.9h-.9zM205.5 102.2h.9v.9h-.9zM193.4 88.4h.9v.9h-.9zM190.9 93.7h.9v.9h-.9zM213.4 96.2h.9v.9h-.9zM189.6 101.4h.9v.9h-.9zM199.5 95.1h.9v.9h-.9zM208.7 103.9h.9v.9h-.9zM201.5 96.0h.9v.9h-.9zM191.3 89.8h.9v.9h-.9zM202.4 101.4h.9v.9h-.9zM190.9 99.7h.9v.9h-.9zM227.9 94.2h.9v.9h-.9zM183.9 102.5h.9v.9h-.9zM195.2 97.2h.9v.9h-.9zM204.5 99.0h.9v.9h-.9zM207.8 102.0h.9v.9h-.9zM209.2 100.1h.9v.9h-.9zM180.0 106.0h.9v.9h-.9zM184.0 104.5h.9v.9h-.9zM201.2 93.0h.9v.9h-.9zM199.6 103.8h.9v.9h-.9zM190.0 99.8h.9v.9h-.9zM192.5 94.8h.9v.9h-.9zM193.6 105.6h.9v.9h-.9zM205.1 99.4h.9v.9h-.9zM198.3 100.2h.9v.9h-.9zM201.5 100.4h.9v.9h-.9zM183.8 103.9h.9v.9h-.9zM191.4 87.2h.9v.9h-.9zM205.2 93.8h.9v.9h-.9zM197.7 99.1h.9v.9h-.9zM193.8 102.1h.9v.9h-.9zM196.6 98.2h.9v.9h-.9zM190.6 98.2h.9v.9h-.9zM189.8 99.8h.9v.9h-.9zM210.7 104.4h.9v.9h-.9zM202.8 93.1h.9v.9h-.9zM208.1 104.0h.9v.9h-.9zM217.2 88.9h.9v.9h-.9zM199.1 98.0h.9v.9h-.9zM208.6 94.4h.9v.9h-.9zM207.8 90.1h.9v.9h-.9zM199.2 106.1h.9v.9h-.9zM193.5 102.4h.9v.9h-.9zM199.9 92.6h.9v.9h-.9zM193.5 104.9h.9v.9h-.9zM209.5 96.7h.9v.9h-.9zM209.0 96.2h.9v.9h-.9zM201.2 99.4h.9v.9h-.9zM187.9 101.1h.9v.9h-.9zM195.6 86.5h.9v.9h-.9zM191.7 95.5h.9v.9h-.9zM191.6 94.9h.9v.9h-.9zM192.9 87.9h.9v.9h-.9zM206.9 99.9h.9v.9h-.9zM201.3 98.3h.9v.9h-.9zM199.6 98.3h.9v.9h-.9zM189.4 92.3h.9v.9h-.9zM199.7 104.4h.9v.9h-.9zM201.1 107.2h.9v.9h-.9zM186.9 98.3h.9v.9h-.9zM193.5 105.4h.9v.9h-.9zM214.0 97.0h.9v.9h-.9zM205.5 98.4h.9v.9h-.9zM190.2 99.0h.9v.9h-.9zM189.8 106.9h.9v.9h-.9zM204.2 105.2h.9v.9h-.9zM202.2 87.9h.9v.9h-.9zM206.1 100.0h.9v.9h-.9zM177.9 100.0h.9v.9h-.9zM189.9 103.3h.9v.9h-.9zM201.9 98.7h.9v.9h-.9zM196.5 102.1h.9v.9h-.9zM204.1 102.7h.9v.9h-.9zM195.4 93.2h.9v.9h-.9zM210.7 105.7h.9v.9h-.9zM194.0 99.4h.9v.9h-.9zM206.1 91.1h.9v.9h-.9zM201.4 96.1h.9v.9h-.9z" fill="#000" fill-opacity="0.65"/><path d="M192.1 100.1h.9v.9h-.9zM181.3 98.0h.9v.9h-.9zM181.1 91.4h.9v.9h-.9zM172.4 93.0h.9v.9h-.9zM185.3 99.6h.9v.9h-.9zM186.8 90.3h.9v.9h-.9zM176.5 107.0h.9v.9h-.9zM175.3 91.1h.9v.9h-.9zM175.6 98.4h.9v.9h-.9zM179.9 106.3h.9v.9h-.9zM187.8 107.4h.9v.9h-.9zM183.4 97.6h.9v.9h-.9zM177.1 92.9h.9v.9h-.9zM187.5 106.0h.9v.9h-.9zM180.5 95.7h.9v.9h-.9zM184.0 102.4h.9v.9h-.9zM180.9 94.4h.9v.9h-.9zM181.4 97.3h.9v.9h-.9zM184.4 102.9h.9v.9h-.9zM182.6 98.0h.9v.9h-.9zM189.0 103.7h.9v.9h-.9zM187.5 104.0h.9v.9h-.9zM183.9 101.9h.9v.9h-.9zM173.7 91.3h.9v.9h-.9zM174.5 103.0h.9v.9h-.9zM185.4 100.9h.9v.9h-.9zM177.7 91.5h.9v.9h-.9zM170.9 98.5h.9v.9h-.9zM184.1 103.5h.9v.9h-.9zM178.7 103.9h.9v.9h-.9zM179.7 96.5h.9v.9h-.9zM177.8 103.6h.9v.9h-.9zM185.6 94.6h.9v.9h-.9zM174.2 100.6h.9v.9h-.9zM192.5 94.4h.9v.9h-.9zM172.6 102.0h.9v.9h-.9zM183.0 97.1h.9v.9h-.9zM179.8 102.3h.9v.9h-.9zM169.7 99.9h.9v.9h-.9zM183.5 104.4h.9v.9h-.9zM186.9 99.7h.9v.9h-.9zM171.5 106.4h.9v.9h-.9zM184.5 97.0h.9v.9h-.9zM186.1 105.0h.9v.9h-.9zM179.2 88.7h.9v.9h-.9zM177.2 96.4h.9v.9h-.9zM175.1 99.6h.9v.9h-.9zM173.6 101.9h.9v.9h-.9zM191.1 94.3h.9v.9h-.9zM186.1 97.5h.9v.9h-.9zM183.2 99.4h.9v.9h-.9zM187.5 96.6h.9v.9h-.9zM184.3 96.3h.9v.9h-.9zM181.3 99.9h.9v.9h-.9zM186.4 92.4h.9v.9h-.9zM172.1 106.7h.9v.9h-.9zM173.9 101.0h.9v.9h-.9zM179.7 97.9h.9v.9h-.9zM184.2 99.5h.9v.9h-.9zM175.6 103.7h.9v.9h-.9zM168.8 95.1h.9v.9h-.9zM188.0 97.6h.9v.9h-.9zM178.1 101.8h.9v.9h-.9zM186.6 102.5h.9v.9h-.9zM174.3 97.3h.9v.9h-.9zM186.2 99.4h.9v.9h-.9zM176.3 104.2h.9v.9h-.9zM173.7 96.6h.9v.9h-.9zM175.9 101.7h.9v.9h-.9zM177.2 105.3h.9v.9h-.9zM164.2 104.6h.9v.9h-.9zM176.2 98.7h.9v.9h-.9zM183.3 101.0h.9v.9h-.9zM174.1 107.2h.9v.9h-.9zM183.4 97.6h.9v.9h-.9zM181.2 94.7h.9v.9h-.9zM172.8 98.6h.9v.9h-.9zM182.1 100.5h.9v.9h-.9zM175.5 93.4h.9v.9h-.9zM182.2 96.2h.9v.9h-.9zM187.0 102.6h.9v.9h-.9zM177.6 97.1h.9v.9h-.9zM186.7 101.6h.9v.9h-.9zM189.6 101.7h.9v.9h-.9zM176.6 97.1h.9v.9h-.9zM175.9 101.2h.9v.9h-.9zM181.5 102.9h.9v.9h-.9zM182.6 95.0h.9v.9h-.9zM178.8 95.5h.9v.9h-.9zM182.8 93.7h.9v.9h-.9zM176.6 95.9h.9v.9h-.9zM176.4 98.8h.9v.9h-.9zM188.8 98.8h.9v.9h-.9zM171.6 98.6h.9v.9h-.9zM184.4 102.7h.9v.9h-.9z" fill="#000" fill-opacity="0.50"/></g><rect x="161.5" y="32.5" width="89.0" height="76.0" fill="none" stroke="#6a6a6a" stroke-width="1"/><line x1="195.5" y1="32.5" x2="195.5" y2="108.5" stroke="#444" stroke-width="1"/><line x1="161.5" y1="82.5" x2="250.5" y2="82.5" stroke="#444" stroke-width="1"/><path d="M161.5 108.5v2.0M161.5 108.5h-2.0M168.2 108.5v1.2M161.5 102.8h-1.2M172.1 108.5v1.2M161.5 99.4h-1.2M174.9 108.5v1.2M161.5 97.1h-1.2M177.1 108.5v1.2M161.5 95.2h-1.2M178.8 108.5v1.2M161.5 93.7h-1.2M180.3 108.5v1.2M161.5 92.4h-1.2M181.6 108.5v1.2M161.5 91.3h-1.2M182.7 108.5v1.2M161.5 90.4h-1.2M183.8 108.5v2.0M161.5 89.5h-2.0M190.4 108.5v1.2M161.5 83.8h-1.2M194.4 108.5v1.2M161.5 80.4h-1.2M197.1 108.5v1.2M161.5 78.1h-1.2M199.3 108.5v1.2M161.5 76.2h-1.2M201.1 108.5v1.2M161.5 74.7h-1.2M202.6 108.5v1.2M161.5 73.4h-1.2M203.8 108.5v1.2M161.5 72.3h-1.2M205.0 108.5v1.2M161.5 71.4h-1.2M206.0 108.5v2.0M161.5 70.5h-2.0M212.7 108.5v1.2M161.5 64.8h-1.2M216.6 108.5v1.2M161.5 61.4h-1.2M219.4 108.5v1.2M161.5 59.1h-1.2M221.6 108.5v1.2M161.5 57.2h-1.2M223.3 108.5v1.2M161.5 55.7h-1.2M224.8 108.5v1.2M161.5 54.4h-1.2M226.1 108.5v1.2M161.5 53.3h-1.2M227.2 108.5v1.2M161.5 52.4h-1.2M228.2 108.5v2.0M161.5 51.5h-2.0M234.9 108.5v1.2M161.5 45.8h-1.2M238.9 108.5v1.2M161.5 42.4h-1.2M241.6 108.5v1.2M161.5 40.1h-1.2M243.8 108.5v1.2M161.5 38.2h-1.2M245.6 108.5v1.2M161.5 36.7h-1.2M247.1 108.5v1.2M161.5 35.4h-1.2M248.3 108.5v1.2M161.5 34.3h-1.2M249.5 108.5v1.2M161.5 33.4h-1.2" stroke="#444" stroke-width="0.7" fill="none"/><g transform="translate(158.7 117.9)"><text x="0" y="0" class="tl" textLength="7.0" lengthAdjust="spacingAndGlyphs">10</text><text x="8.1" y="-3.3" class="sup">0</text></g><g transform="translate(159.7 112.9) rotate(-90)"><text x="0" y="0" class="tl" textLength="7.0" lengthAdjust="spacingAndGlyphs">10</text><text x="8.1" y="-3.3" class="sup">0</text></g><g transform="translate(180.9 117.9)"><text x="0" y="0" class="tl" textLength="7.0" lengthAdjust="spacingAndGlyphs">10</text><text x="8.1" y="-3.3" class="sup">1</text></g><g transform="translate(159.7 93.9) rotate(-90)"><text x="0" y="0" class="tl" textLength="7.0" lengthAdjust="spacingAndGlyphs">10</text><text x="8.1" y="-3.3" class="sup">1</text></g><g transform="translate(203.2 117.9)"><text x="0" y="0" class="tl" textLength="7.0" lengthAdjust="spacingAndGlyphs">10</text><text x="8.1" y="-3.3" class="sup">2</text></g><g transform="translate(159.7 74.9) rotate(-90)"><text x="0" y="0" class="tl" textLength="7.0" lengthAdjust="spacingAndGlyphs">10</text><text x="8.1" y="-3.3" class="sup">2</text></g><g transform="translate(225.4 117.9)"><text x="0" y="0" class="tl" textLength="7.0" lengthAdjust="spacingAndGlyphs">10</text><text x="8.1" y="-3.3" class="sup">3</text></g><g transform="translate(159.7 55.9) rotate(-90)"><text x="0" y="0" class="tl" textLength="7.0" lengthAdjust="spacingAndGlyphs">10</text><text x="8.1" y="-3.3" class="sup">3</text></g><g transform="translate(247.7 117.9)"><text x="0" y="0" class="tl" textLength="7.0" lengthAdjust="spacingAndGlyphs">10</text><text x="8.1" y="-3.3" class="sup">4</text></g><g transform="translate(159.7 36.9) rotate(-90)"><text x="0" y="0" class="tl" textLength="7.0" lengthAdjust="spacingAndGlyphs">10</text><text x="8.1" y="-3.3" class="sup">4</text></g><g filter="url(#bl)"><path d="M90.9 194.7h.9v.9h-.9zM94.3 190.7h.9v.9h-.9zM94.7 187.7h.9v.9h-.9zM89.3 188.7h.9v.9h-.9zM90.7 193.9h.9v.9h-.9zM88.1 193.9h.9v.9h-.9zM86.0 193.5h.9v.9h-.9zM83.4 188.7h.9v.9h-.9zM93.9 190.3h.9v.9h-.9zM90.6 190.5h.9v.9h-.9zM90.7 190.1h.9v.9h-.9zM86.2 189.9h.9v.9h-.9zM90.4 188.6h.9v.9h-.9zM91.8 194.2h.9v.9h-.9zM83.6 189.4h.9v.9h-.9zM88.9 190.5h.9v.9h-.9zM90.4 189.0h.9v.9h-.9zM89.9 190.5h.9v.9h-.9zM89.7 193.8h.9v.9h-.9zM90.5 187.4h.9v.9h-.9zM83.9 191.7h.9v.9h-.9zM88.7 189.2h.9v.9h-.9zM84.7 189.8h.9v.9h-.9zM89.6 189.1h.9v.9h-.9zM88.6 192.4h.9v.9h-.9zM93.1 191.7h.9v.9h-.9zM89.3 187.6h.9v.9h-.9zM93.0 193.7h.9v.9h-.9zM95.0 193.0h.9v.9h-.9zM91.1 191.3h.9v.9h-.9zM89.9 193.1h.9v.9h-.9zM89.0 195.0h.9v.9h-.9zM93.0 189.8h.9v.9h-.9zM90.0 187.1h.9v.9h-.9zM87.2 189.9h.9v.9h-.9zM99.5 188.8h.9v.9h-.9zM93.6 190.7h.9v.9h-.9zM88.9 191.8h.9v.9h-.9zM82.3 192.5h.9v.9h-.9zM97.5 191.1h.9v.9h-.9zM89.8 190.8h.9v.9h-.9zM92.6 189.5h.9v.9h-.9zM90.5 191.6h.9v.9h-.9zM88.6 191.3h.9v.9h-.9zM91.3 192.0h.9v.9h-.9zM86.2 189.4h.9v.9h-.9zM88.3 193.0h.9v.9h-.9zM91.0 187.0h.9v.9h-.9zM85.0 194.6h.9v.9h-.9zM91.3 187.8h.9v.9h-.9zM86.5 190.8h.9v.9h-.9zM95.5 193.9h.9v.9h-.9zM88.6 189.9h.9v.9h-.9zM97.5 188.4h.9v.9h-.9zM96.1 191.2h.9v.9h-.9zM90.4 193.2h.9v.9h-.9zM91.9 188.7h.9v.9h-.9zM84.1 190.5h.9v.9h-.9zM92.0 193.4h.9v.9h-.9zM79.9 193.3h.9v.9h-.9zM92.4 193.7h.9v.9h-.9zM93.1 191.0h.9v.9h-.9zM91.7 191.3h.9v.9h-.9zM87.6 190.3h.9v.9h-.9zM90.5 189.5h.9v.9h-.9zM84.3 187.4h.9v.9h-.9zM92.0 191.6h.9v.9h-.9zM90.4 188.0h.9v.9h-.9zM93.3 189.7h.9v.9h-.9zM81.9 193.8h.9v.9h-.9zM84.2 195.3h.9v.9h-.9zM92.1 189.6h.9v.9h-.9zM80.9 189.0h.9v.9h-.9zM95.8 193.4h.9v.9h-.9zM91.0 186.9h.9v.9h-.9zM88.5 189.9h.9v.9h-.9zM91.8 190.2h.9v.9h-.9zM91.3 187.1h.9v.9h-.9zM87.5 193.5h.9v.9h-.9zM84.4 192.5h.9v.9h-.9zM99.0 191.9h.9v.9h-.9zM84.6 193.1h.9v.9h-.9zM82.8 191.2h.9v.9h-.9zM88.4 193.1h.9v.9h-.9zM94.6 190.9h.9v.9h-.9zM97.0 192.6h.9v.9h-.9zM88.1 188.4h.9v.9h-.9zM99.6 189.6h.9v.9h-.9zM91.6 190.3h.9v.9h-.9zM88.2 187.1h.9v.9h-.9zM89.4 190.3h.9v.9h-.9zM93.8 189.4h.9v.9h-.9zM83.9 188.2h.9v.9h-.9zM89.8 191.0h.9v.9h-.9zM92.8 189.7h.9v.9h-.9zM92.1 190.8h.9v.9h-.9zM96.6 190.4h.9v.9h-.9zM90.6 191.7h.9v.9h-.9zM94.7 188.6h.9v.9h-.9zM88.2 189.9h.9v.9h-.9zM81.7 193.3h.9v.9h-.9zM94.2 190.5h.9v.9h-.9zM103.1 193.2h.9v.9h-.9zM97.9 193.8h.9v.9h-.9zM93.5 187.5h.9v.9h-.9zM96.0 191.4h.9v.9h-.9zM85.4 190.6h.9v.9h-.9zM92.9 192.6h.9v.9h-.9zM90.7 189.4h.9v.9h-.9zM93.0 188.9h.9v.9h-.9zM89.7 192.1h.9v.9h-.9zM84.4 191.3h.9v.9h-.9zM82.4 188.5h.9v.9h-.9zM85.2 190.3h.9v.9h-.9zM92.8 190.4h.9v.9h-.9zM93.6 190.7h.9v.9h-.9zM89.2 191.5h.9v.9h-.9zM89.1 190.8h.9v.9h-.9zM94.0 189.3h.9v.9h-.9zM94.5 188.2h.9v.9h-.9z" fill="#000" fill-opacity="0.65"/><path d="M93.9 185.0h.9v.9h-.9zM90.8 194.6h.9v.9h-.9zM99.5 193.7h.9v.9h-.9zM81.7 187.1h.9v.9h-.9zM100.5 192.4h.9v.9h-.9zM104.1 185.2h.9v.9h-.9zM101.0 189.8h.9v.9h-.9zM97.2 191.4h.9v.9h-.9zM93.3 185.1h.9v.9h-.9zM85.6 185.8h.9v.9h-.9zM83.2 189.6h.9v.9h-.9zM108.7 187.9h.9v.9h-.9zM88.6 186.7h.9v.9h-.9zM79.2 190.2h.9v.9h-.9zM91.3 189.3h.9v.9h-.9zM86.7 191.4h.9v.9h-.9zM84.3 191.6h.9v.9h-.9zM89.6 192.3h.9v.9h-.9zM87.4 191.3h.9v.9h-.9zM100.3 189.8h.9v.9h-.9zM111.9 190.5h.9v.9h-.9zM87.4 192.0h.9v.9h-.9zM88.0 188.4h.9v.9h-.9zM96.1 190.5h.9v.9h-.9zM112.6 184.9h.9v.9h-.9zM93.5 193.3h.9v.9h-.9zM94.4 190.9h.9v.9h-.9zM110.9 186.4h.9v.9h-.9zM96.4 192.3h.9v.9h-.9zM90.3 184.9h.9v.9h-.9zM86.3 190.6h.9v.9h-.9zM97.8 195.3h.9v.9h-.9zM108.9 185.5h.9v.9h-.9zM106.1 192.7h.9v.9h-.9zM111.8 189.6h.9v.9h-.9zM90.6 190.4h.9v.9h-.9zM111.1 191.8h.9v.9h-.9zM112.5 192.3h.9v.9h-.9zM90.3 187.1h.9v.9h-.9zM114.0 185.6h.9v.9h-.9zM92.6 189.1h.9v.9h-.9zM87.1 188.3h.9v.9h-.9zM96.1 196.9h.9v.9h-.9zM95.4 188.5h.9v.9h-.9zM97.2 192.7h.9v.9h-.9zM88.1 188.8h.9v.9h-.9zM79.0 192.0h.9v.9h-.9zM102.6 194.4h.9v.9h-.9zM84.3 196.3h.9v.9h-.9zM104.5 189.2h.9v.9h-.9zM92.2 189.1h.9v.9h-.9zM84.2 192.2h.9v.9h-.9zM90.1 187.9h.9v.9h-.9zM101.0 190.3h.9v.9h-.9zM90.3 189.3h.9v.9h-.9zM91.2 193.9h.9v.9h-.9zM105.8 187.9h.9v.9h-.9zM95.6 194.0h.9v.9h-.9zM93.2 195.2h.9v.9h-.9zM100.3 191.9h.9v.9h-.9zM75.8 192.5h.9v.9h-.9zM99.3 191.7h.9v.9h-.9zM100.7 191.5h.9v.9h-.9zM91.0 192.6h.9v.9h-.9zM96.6 187.0h.9v.9h-.9zM86.1 190.5h.9v.9h-.9zM99.3 183.6h.9v.9h-.9zM75.9 193.1h.9v.9h-.9zM95.9 198.3h.9v.9h-.9zM81.1 189.3h.9v.9h-.9zM90.2 191.6h.9v.9h-.9zM109.7 194.7h.9v.9h-.9zM86.2 193.6h.9v.9h-.9zM84.1 190.9h.9v.9h-.9zM97.7 191.8h.9v.9h-.9zM88.2 193.9h.9v.9h-.9zM95.3 189.9h.9v.9h-.9zM93.4 186.9h.9v.9h-.9zM103.0 191.0h.9v.9h-.9zM100.4 195.4h.9v.9h-.9zM87.5 189.2h.9v.9h-.9zM96.1 192.5h.9v.9h-.9zM94.3 192.7h.9v.9h-.9zM100.5 184.9h.9v.9h-.9zM89.3 184.1h.9v.9h-.9zM93.2 188.8h.9v.9h-.9zM101.8 190.5h.9v.9h-.9zM95.4 193.7h.9v.9h-.9zM101.8 186.4h.9v.9h-.9zM89.3 191.0h.9v.9h-.9zM112.6 189.4h.9v.9h-.9zM94.3 190.8h.9v.9h-.9zM103.6 189.7h.9v.9h-.9zM98.9 188.8h.9v.9h-.9zM90.6 187.7h.9v.9h-.9zM102.4 188.4h.9v.9h-.9zM101.4 191.2h.9v.9h-.9zM105.5 182.2h.9v.9h-.9zM86.6 186.4h.9v.9h-.9zM94.4 192.3h.9v.9h-.9zM120.7 194.5h.9v.9h-.9zM109.3 191.1h.9v.9h-.9zM92.2 191.6h.9v.9h-.9zM74.7 192.7h.9v.9h-.9zM96.1 191.8h.9v.9h-.9zM85.9 186.8h.9v.9h-.9zM89.7 189.9h.9v.9h-.9zM99.4 189.0h.9v.9h-.9zM99.4 192.0h.9v.9h-.9zM84.7 189.7h.9v.9h-.9z" fill="#000" fill-opacity="0.45"/><path d="M63.9 188.4h.9v.9h-.9zM73.5 187.9h.9v.9h-.9zM77.3 191.5h.9v.9h-.9zM73.5 190.3h.9v.9h-.9zM73.4 193.2h.9v.9h-.9zM70.4 188.5h.9v.9h-.9zM67.9 195.6h.9v.9h-.9zM69.3 188.7h.9v.9h-.9zM67.2 185.1h.9v.9h-.9zM68.0 190.9h.9v.9h-.9zM68.1 187.8h.9v.9h-.9zM71.6 191.3h.9v.9h-.9zM68.3 190.9h.9v.9h-.9zM66.2 192.5h.9v.9h-.9zM66.1 189.0h.9v.9h-.9zM70.5 188.8h.9v.9h-.9zM65.5 196.1h.9v.9h-.9zM75.9 184.9h.9v.9h-.9zM70.5 186.3h.9v.9h-.9zM71.2 186.2h.9v.9h-.9z" fill="#000" fill-opacity="0.30"/><path d="M92.8 217.6h.9v.9h-.9zM96.3 222.2h.9v.9h-.9zM89.6 220.4h.9v.9h-.9zM89.6 213.2h.9v.9h-.9zM89.4 202.0h.9v.9h-.9zM92.9 200.2h.9v.9h-.9zM90.3 217.6h.9v.9h-.9zM91.4 203.3h.9v.9h-.9zM89.0 218.6h.9v.9h-.9zM94.4 224.9h.9v.9h-.9zM85.3 217.1h.9v.9h-.9zM89.5 219.2h.9v.9h-.9zM85.7 213.0h.9v.9h-.9zM93.2 209.6h.9v.9h-.9zM89.9 207.3h.9v.9h-.9zM94.5 205.0h.9v.9h-.9zM88.1 211.7h.9v.9h-.9zM91.9 208.3h.9v.9h-.9zM92.8 216.3h.9v.9h-.9zM91.9 213.6h.9v.9h-.9zM92.4 206.0h.9v.9h-.9zM87.2 211.1h.9v.9h-.9zM87.5 218.8h.9v.9h-.9zM97.1 222.4h.9v.9h-.9zM92.4 216.3h.9v.9h-.9zM88.9 205.1h.9v.9h-.9zM92.7 203.9h.9v.9h-.9zM91.9 213.0h.9v.9h-.9zM93.3 214.3h.9v.9h-.9zM91.3 210.0h.9v.9h-.9zM85.6 211.7h.9v.9h-.9zM93.2 221.1h.9v.9h-.9zM95.3 207.2h.9v.9h-.9zM88.1 218.8h.9v.9h-.9zM92.0 203.6h.9v.9h-.9zM89.3 224.7h.9v.9h-.9zM85.3 215.0h.9v.9h-.9zM86.7 224.9h.9v.9h-.9zM89.6 207.0h.9v.9h-.9zM85.7 209.1h.9v.9h-.9zM83.0 210.8h.9v.9h-.9zM97.8 214.7h.9v.9h-.9zM90.2 206.1h.9v.9h-.9zM92.1 210.8h.9v.9h-.9zM88.4 223.4h.9v.9h-.9zM92.4 207.9h.9v.9h-.9zM95.6 213.6h.9v.9h-.9zM92.6 215.0h.9v.9h-.9zM94.7 218.2h.9v.9h-.9zM89.9 218.9h.9v.9h-.9zM89.8 214.9h.9v.9h-.9zM96.1 206.8h.9v.9h-.9zM87.8 211.3h.9v.9h-.9zM89.4 222.9h.9v.9h-.9zM96.0 210.9h.9v.9h-.9zM91.6 211.5h.9v.9h-.9zM93.1 218.5h.9v.9h-.9zM93.4 219.2h.9v.9h-.9zM97.0 212.8h.9v.9h-.9zM93.2 212.7h.9v.9h-.9zM91.1 215.5h.9v.9h-.9zM90.8 216.4h.9v.9h-.9zM88.3 213.0h.9v.9h-.9zM89.1 206.0h.9v.9h-.9zM88.8 210.6h.9v.9h-.9zM90.5 203.3h.9v.9h-.9zM90.2 206.3h.9v.9h-.9zM88.4 215.3h.9v.9h-.9zM94.5 216.0h.9v.9h-.9zM89.5 211.0h.9v.9h-.9zM95.2 202.9h.9v.9h-.9zM94.6 203.8h.9v.9h-.9zM89.0 214.3h.9v.9h-.9zM90.3 225.4h.9v.9h-.9zM92.5 213.7h.9v.9h-.9zM94.0 214.3h.9v.9h-.9zM88.5 221.7h.9v.9h-.9zM95.7 222.7h.9v.9h-.9zM89.7 219.2h.9v.9h-.9zM85.9 207.0h.9v.9h-.9zM94.7 217.4h.9v.9h-.9zM90.0 194.0h.9v.9h-.9zM92.4 212.7h.9v.9h-.9zM83.2 210.2h.9v.9h-.9zM91.0 215.6h.9v.9h-.9zM93.4 212.2h.9v.9h-.9zM88.2 211.5h.9v.9h-.9zM84.4 206.4h.9v.9h-.9zM97.2 209.3h.9v.9h-.9zM94.3 214.8h.9v.9h-.9zM93.3 212.2h.9v.9h-.9zM88.2 220.8h.9v.9h-.9zM91.4 225.0h.9v.9h-.9zM90.2 211.4h.9v.9h-.9zM92.1 212.7h.9v.9h-.9zM90.0 207.9h.9v.9h-.9zM91.8 216.2h.9v.9h-.9zM96.7 213.8h.9v.9h-.9zM85.5 217.2h.9v.9h-.9zM98.2 211.0h.9v.9h-.9zM88.5 212.9h.9v.9h-.9zM82.0 211.7h.9v.9h-.9zM90.4 203.7h.9v.9h-.9zM92.8 208.0h.9v.9h-.9zM85.2 209.1h.9v.9h-.9zM94.9 215.3h.9v.9h-.9zM89.4 212.2h.9v.9h-.9zM94.0 210.5h.9v.9h-.9zM92.3 220.6h.9v.9h-.9zM88.2 210.0h.9v.9h-.9zM92.4 214.1h.9v.9h-.9zM90.6 210.4h.9v.9h-.9zM95.3 203.0h.9v.9h-.9zM91.1 214.6h.9v.9h-.9zM91.1 204.5h.9v.9h-.9zM90.6 215.0h.9v.9h-.9zM88.9 216.1h.9v.9h-.9zM83.3 203.7h.9v.9h-.9zM91.3 216.7h.9v.9h-.9zM90.5 210.9h.9v.9h-.9zM91.6 221.4h.9v.9h-.9zM93.8 213.5h.9v.9h-.9zM89.5 221.3h.9v.9h-.9zM92.7 220.1h.9v.9h-.9zM90.1 208.1h.9v.9h-.9zM91.6 209.7h.9v.9h-.9zM94.6 219.9h.9v.9h-.9zM84.2 218.6h.9v.9h-.9zM95.2 221.1h.9v.9h-.9zM89.5 208.1h.9v.9h-.9zM94.0 220.9h.9v.9h-.9zM91.2 206.1h.9v.9h-.9zM86.2 215.8h.9v.9h-.9zM88.4 209.3h.9v.9h-.9zM92.4 221.2h.9v.9h-.9zM84.5 209.4h.9v.9h-.9zM95.1 213.7h.9v.9h-.9zM89.9 218.4h.9v.9h-.9zM87.4 205.6h.9v.9h-.9zM91.1 224.7h.9v.9h-.9zM94.2 214.0h.9v.9h-.9zM94.2 211.2h.9v.9h-.9zM87.3 202.5h.9v.9h-.9zM91.9 220.2h.9v.9h-.9zM92.2 213.7h.9v.9h-.9zM89.7 221.5h.9v.9h-.9zM90.9 204.1h.9v.9h-.9zM95.3 209.6h.9v.9h-.9zM92.2 214.0h.9v.9h-.9zM94.3 215.7h.9v.9h-.9zM94.9 215.4h.9v.9h-.9zM89.6 210.5h.9v.9h-.9zM93.0 208.3h.9v.9h-.9zM93.9 212.4h.9v.9h-.9zM88.1 208.0h.9v.9h-.9zM90.5 226.1h.9v.9h-.9zM93.4 214.1h.9v.9h-.9zM90.1 214.0h.9v.9h-.9zM89.7 223.1h.9v.9h-.9zM91.6 210.9h.9v.9h-.9zM91.6 207.2h.9v.9h-.9zM87.7 212.9h.9v.9h-.9zM82.0 222.1h.9v.9h-.9zM97.2 206.4h.9v.9h-.9zM90.6 203.2h.9v.9h-.9zM91.5 215.5h.9v.9h-.9zM93.3 204.9h.9v.9h-.9zM89.1 209.6h.9v.9h-.9zM90.4 213.7h.9v.9h-.9zM89.4 219.5h.9v.9h-.9zM99.1 222.0h.9v.9h-.9zM95.8 206.6h.9v.9h-.9zM94.3 214.2h.9v.9h-.9zM94.9 221.3h.9v.9h-.9zM93.1 202.5h.9v.9h-.9zM91.4 210.6h.9v.9h-.9zM92.4 214.3h.9v.9h-.9zM94.3 203.0h.9v.9h-.9zM88.7 213.5h.9v.9h-.9zM92.0 211.2h.9v.9h-.9zM90.9 214.4h.9v.9h-.9zM94.3 213.2h.9v.9h-.9zM91.8 201.5h.9v.9h-.9zM82.8 204.0h.9v.9h-.9zM92.1 198.2h.9v.9h-.9zM92.3 213.3h.9v.9h-.9zM91.0 209.0h.9v.9h-.9zM89.7 219.7h.9v.9h-.9zM92.1 213.8h.9v.9h-.9zM89.5 215.5h.9v.9h-.9zM94.7 213.9h.9v.9h-.9zM89.8 205.9h.9v.9h-.9zM91.3 207.7h.9v.9h-.9zM86.5 220.0h.9v.9h-.9zM89.0 200.0h.9v.9h-.9zM90.7 204.9h.9v.9h-.9zM87.5 218.9h.9v.9h-.9zM92.3 215.5h.9v.9h-.9zM90.4 217.3h.9v.9h-.9zM95.8 217.4h.9v.9h-.9zM90.5 204.4h.9v.9h-.9zM92.4 224.8h.9v.9h-.9zM93.0 205.4h.9v.9h-.9zM91.6 222.9h.9v.9h-.9zM89.0 217.4h.9v.9h-.9zM94.8 225.3h.9v.9h-.9zM86.0 202.0h.9v.9h-.9zM92.2 218.8h.9v.9h-.9zM89.9 213.9h.9v.9h-.9zM89.7 222.3h.9v.9h-.9zM84.0 215.8h.9v.9h-.9zM87.0 209.3h.9v.9h-.9zM86.2 207.7h.9v.9h-.9zM90.9 214.2h.9v.9h-.9zM96.6 212.5h.9v.9h-.9zM92.1 216.4h.9v.9h-.9zM91.8 224.1h.9v.9h-.9zM91.4 215.0h.9v.9h-.9zM90.6 214.0h.9v.9h-.9zM90.8 220.9h.9v.9h-.9zM91.1 214.5h.9v.9h-.9zM90.9 219.2h.9v.9h-.9zM89.5 220.5h.9v.9h-.9zM89.2 218.8h.9v.9h-.9zM97.1 215.6h.9v.9h-.9zM90.7 205.9h.9v.9h-.9zM93.3 214.1h.9v.9h-.9zM93.9 209.5h.9v.9h-.9zM92.6 226.5h.9v.9h-.9zM92.3 211.7h.9v.9h-.9zM86.9 213.9h.9v.9h-.9zM93.1 218.1h.9v.9h-.9zM87.5 206.9h.9v.9h-.9zM87.9 207.0h.9v.9h-.9zM90.1 215.8h.9v.9h-.9zM97.1 215.4h.9v.9h-.9zM95.6 202.6h.9v.9h-.9zM95.9 219.5h.9v.9h-.9zM92.4 219.7h.9v.9h-.9zM93.5 202.0h.9v.9h-.9zM85.5 225.1h.9v.9h-.9zM90.7 223.1h.9v.9h-.9zM89.9 209.5h.9v.9h-.9zM89.9 216.2h.9v.9h-.9zM91.6 209.7h.9v.9h-.9zM92.7 218.3h.9v.9h-.9zM88.1 206.3h.9v.9h-.9zM84.8 211.9h.9v.9h-.9zM91.0 209.2h.9v.9h-.9zM89.1 213.1h.9v.9h-.9zM91.1 217.9h.9v.9h-.9zM93.6 217.0h.9v.9h-.9zM94.5 207.3h.9v.9h-.9zM92.9 216.6h.9v.9h-.9zM87.7 209.3h.9v.9h-.9zM92.4 214.5h.9v.9h-.9zM87.0 210.2h.9v.9h-.9zM95.8 219.8h.9v.9h-.9zM91.3 223.3h.9v.9h-.9zM88.1 212.8h.9v.9h-.9zM94.0 211.7h.9v.9h-.9zM87.5 218.1h.9v.9h-.9zM96.1 196.5h.9v.9h-.9zM91.5 205.4h.9v.9h-.9zM90.1 204.2h.9v.9h-.9zM99.2 209.3h.9v.9h-.9zM91.1 209.1h.9v.9h-.9zM87.9 210.9h.9v.9h-.9zM91.7 226.1h.9v.9h-.9zM91.9 224.8h.9v.9h-.9zM87.6 214.5h.9v.9h-.9zM89.6 203.2h.9v.9h-.9zM102.8 212.3h.9v.9h-.9zM91.8 208.8h.9v.9h-.9zM89.2 206.8h.9v.9h-.9zM94.2 211.2h.9v.9h-.9zM90.5 215.3h.9v.9h-.9zM87.1 215.6h.9v.9h-.9zM90.5 217.1h.9v.9h-.9zM89.8 214.3h.9v.9h-.9zM92.6 220.7h.9v.9h-.9zM88.8 220.7h.9v.9h-.9zM87.9 212.7h.9v.9h-.9zM91.4 215.0h.9v.9h-.9zM83.1 207.2h.9v.9h-.9zM90.4 220.4h.9v.9h-.9zM88.8 224.5h.9v.9h-.9zM85.3 214.5h.9v.9h-.9zM92.7 214.1h.9v.9h-.9zM91.8 220.5h.9v.9h-.9zM88.5 218.1h.9v.9h-.9zM94.4 212.4h.9v.9h-.9zM83.7 205.8h.9v.9h-.9zM88.3 206.7h.9v.9h-.9zM92.4 208.4h.9v.9h-.9zM98.8 217.9h.9v.9h-.9zM86.9 212.0h.9v.9h-.9zM95.8 218.7h.9v.9h-.9zM87.8 221.2h.9v.9h-.9zM89.3 218.1h.9v.9h-.9zM92.8 210.9h.9v.9h-.9zM90.5 222.0h.9v.9h-.9zM92.6 213.6h.9v.9h-.9zM92.4 226.1h.9v.9h-.9zM93.9 217.3h.9v.9h-.9zM92.0 203.2h.9v.9h-.9zM91.4 210.6h.9v.9h-.9zM93.3 209.8h.9v.9h-.9zM92.4 206.7h.9v.9h-.9zM93.8 209.0h.9v.9h-.9zM90.9 218.0h.9v.9h-.9zM90.0 214.0h.9v.9h-.9zM94.4 226.2h.9v.9h-.9zM85.3 207.8h.9v.9h-.9zM93.1 220.5h.9v.9h-.9zM89.5 214.7h.9v.9h-.9zM90.4 205.8h.9v.9h-.9zM86.1 205.2h.9v.9h-.9zM95.1 211.3h.9v.9h-.9zM97.2 218.4h.9v.9h-.9zM92.2 218.5h.9v.9h-.9zM93.5 220.4h.9v.9h-.9zM87.9 210.1h.9v.9h-.9zM89.3 214.7h.9v.9h-.9zM90.2 205.5h.9v.9h-.9zM88.8 226.4h.9v.9h-.9zM97.7 208.1h.9v.9h-.9zM92.2 213.7h.9v.9h-.9zM88.3 218.9h.9v.9h-.9zM90.8 225.5h.9v.9h-.9zM92.4 211.9h.9v.9h-.9zM82.6 213.3h.9v.9h-.9zM93.7 209.1h.9v.9h-.9zM93.8 218.7h.9v.9h-.9zM85.4 212.6h.9v.9h-.9zM92.0 219.2h.9v.9h-.9zM91.5 213.9h.9v.9h-.9zM89.9 212.0h.9v.9h-.9zM91.0 206.7h.9v.9h-.9zM93.0 211.8h.9v.9h-.9zM92.7 210.5h.9v.9h-.9zM92.3 214.9h.9v.9h-.9zM93.8 217.2h.9v.9h-.9zM93.9 212.9h.9v.9h-.9zM90.8 212.2h.9v.9h-.9zM87.0 213.1h.9v.9h-.9zM94.4 219.3h.9v.9h-.9zM88.3 216.1h.9v.9h-.9zM93.4 204.6h.9v.9h-.9zM92.1 216.3h.9v.9h-.9zM93.4 215.8h.9v.9h-.9zM85.5 200.1h.9v.9h-.9zM97.3 211.3h.9v.9h-.9zM95.0 222.7h.9v.9h-.9zM91.3 206.1h.9v.9h-.9zM95.3 213.7h.9v.9h-.9zM92.6 217.3h.9v.9h-.9zM94.0 221.0h.9v.9h-.9zM86.5 204.3h.9v.9h-.9zM91.4 214.1h.9v.9h-.9zM93.5 213.1h.9v.9h-.9zM95.3 222.0h.9v.9h-.9zM94.3 208.6h.9v.9h-.9zM90.7 213.5h.9v.9h-.9zM87.5 208.0h.9v.9h-.9zM91.5 205.6h.9v.9h-.9zM92.7 217.3h.9v.9h-.9zM90.3 211.7h.9v.9h-.9zM92.9 217.3h.9v.9h-.9zM92.2 205.6h.9v.9h-.9zM88.9 211.5h.9v.9h-.9zM85.2 208.5h.9v.9h-.9zM88.7 219.5h.9v.9h-.9zM82.6 204.3h.9v.9h-.9zM89.7 210.6h.9v.9h-.9zM88.5 211.0h.9v.9h-.9zM86.0 215.8h.9v.9h-.9zM94.8 215.1h.9v.9h-.9zM89.3 222.7h.9v.9h-.9zM92.5 206.9h.9v.9h-.9zM89.2 209.8h.9v.9h-.9zM90.9 222.4h.9v.9h-.9zM88.8 213.0h.9v.9h-.9zM91.4 205.8h.9v.9h-.9zM89.5 218.2h.9v.9h-.9zM94.6 201.1h.9v.9h-.9zM93.2 212.0h.9v.9h-.9zM95.1 218.3h.9v.9h-.9zM97.2 216.1h.9v.9h-.9zM89.7 208.3h.9v.9h-.9zM86.5 217.8h.9v.9h-.9zM92.6 219.6h.9v.9h-.9zM92.1 203.7h.9v.9h-.9zM89.7 212.3h.9v.9h-.9zM91.5 219.3h.9v.9h-.9zM95.5 216.0h.9v.9h-.9zM84.5 207.0h.9v.9h-.9zM84.3 208.7h.9v.9h-.9zM87.2 215.6h.9v.9h-.9zM90.3 221.7h.9v.9h-.9zM94.4 210.9h.9v.9h-.9zM94.0 214.1h.9v.9h-.9zM92.4 223.3h.9v.9h-.9zM87.4 213.5h.9v.9h-.9zM95.9 208.8h.9v.9h-.9zM91.7 214.9h.9v.9h-.9zM89.7 205.0h.9v.9h-.9zM88.8 207.3h.9v.9h-.9zM94.4 215.7h.9v.9h-.9zM93.2 205.8h.9v.9h-.9zM92.6 215.0h.9v.9h-.9zM94.3 209.0h.9v.9h-.9zM93.6 223.4h.9v.9h-.9zM96.7 207.6h.9v.9h-.9zM87.5 203.9h.9v.9h-.9zM94.0 218.1h.9v.9h-.9zM92.1 208.1h.9v.9h-.9zM95.0 225.0h.9v.9h-.9zM90.9 213.2h.9v.9h-.9zM94.8 217.5h.9v.9h-.9zM95.3 211.2h.9v.9h-.9zM92.1 211.7h.9v.9h-.9zM89.2 212.0h.9v.9h-.9zM90.1 217.5h.9v.9h-.9zM90.0 214.5h.9v.9h-.9zM88.4 205.6h.9v.9h-.9zM95.5 207.3h.9v.9h-.9zM96.7 220.4h.9v.9h-.9zM83.8 209.6h.9v.9h-.9zM89.7 214.1h.9v.9h-.9zM90.4 209.9h.9v.9h-.9zM95.0 213.1h.9v.9h-.9zM94.0 209.3h.9v.9h-.9zM88.8 223.1h.9v.9h-.9zM90.1 206.5h.9v.9h-.9zM90.5 221.2h.9v.9h-.9zM90.5 209.1h.9v.9h-.9zM93.0 220.7h.9v.9h-.9zM90.4 211.8h.9v.9h-.9zM90.4 226.0h.9v.9h-.9zM90.5 216.8h.9v.9h-.9zM84.6 215.2h.9v.9h-.9zM91.2 211.8h.9v.9h-.9zM89.7 204.7h.9v.9h-.9zM86.3 215.1h.9v.9h-.9zM89.0 213.4h.9v.9h-.9zM90.4 210.5h.9v.9h-.9zM87.5 210.5h.9v.9h-.9zM90.1 206.1h.9v.9h-.9zM88.0 219.9h.9v.9h-.9zM93.9 214.9h.9v.9h-.9zM101.3 219.7h.9v.9h-.9zM94.9 208.4h.9v.9h-.9zM94.4 225.5h.9v.9h-.9zM89.8 226.4h.9v.9h-.9zM88.5 206.2h.9v.9h-.9zM90.9 208.5h.9v.9h-.9zM93.0 206.4h.9v.9h-.9zM91.3 200.6h.9v.9h-.9zM90.9 221.2h.9v.9h-.9zM90.2 216.1h.9v.9h-.9zM94.5 206.5h.9v.9h-.9zM87.0 214.6h.9v.9h-.9zM91.9 212.2h.9v.9h-.9zM87.9 222.3h.9v.9h-.9zM87.3 212.2h.9v.9h-.9zM90.9 219.0h.9v.9h-.9zM89.6 208.4h.9v.9h-.9zM97.4 208.2h.9v.9h-.9zM93.5 213.0h.9v.9h-.9zM89.5 213.7h.9v.9h-.9zM90.2 216.1h.9v.9h-.9zM83.0 213.8h.9v.9h-.9zM91.2 207.4h.9v.9h-.9zM96.8 218.4h.9v.9h-.9zM91.7 211.9h.9v.9h-.9zM95.4 210.9h.9v.9h-.9zM88.4 218.7h.9v.9h-.9zM88.0 208.6h.9v.9h-.9zM95.6 203.0h.9v.9h-.9zM90.8 214.8h.9v.9h-.9zM91.8 204.1h.9v.9h-.9zM90.3 211.7h.9v.9h-.9zM97.1 220.9h.9v.9h-.9zM88.6 220.0h.9v.9h-.9zM93.1 213.2h.9v.9h-.9zM90.2 212.1h.9v.9h-.9zM86.1 209.7h.9v.9h-.9zM94.0 223.9h.9v.9h-.9zM96.9 211.4h.9v.9h-.9zM93.0 197.6h.9v.9h-.9zM90.2 205.4h.9v.9h-.9zM93.6 202.7h.9v.9h-.9zM87.7 206.5h.9v.9h-.9zM92.3 219.7h.9v.9h-.9zM88.1 226.3h.9v.9h-.9zM91.5 208.3h.9v.9h-.9zM92.1 213.9h.9v.9h-.9zM93.6 216.4h.9v.9h-.9zM97.9 222.0h.9v.9h-.9zM89.0 219.4h.9v.9h-.9zM93.4 207.2h.9v.9h-.9zM88.6 208.5h.9v.9h-.9zM83.2 218.4h.9v.9h-.9zM90.3 222.4h.9v.9h-.9zM89.3 214.5h.9v.9h-.9zM93.3 220.6h.9v.9h-.9zM92.0 206.9h.9v.9h-.9zM98.0 219.9h.9v.9h-.9zM95.3 225.1h.9v.9h-.9zM95.4 216.8h.9v.9h-.9zM92.5 218.3h.9v.9h-.9zM86.3 219.6h.9v.9h-.9zM87.9 216.9h.9v.9h-.9zM87.8 218.9h.9v.9h-.9zM91.6 217.5h.9v.9h-.9zM88.2 212.0h.9v.9h-.9zM90.8 212.0h.9v.9h-.9zM89.6 208.0h.9v.9h-.9zM93.4 211.4h.9v.9h-.9zM88.4 216.5h.9v.9h-.9zM88.5 212.8h.9v.9h-.9zM89.4 207.7h.9v.9h-.9zM90.3 208.4h.9v.9h-.9zM87.1 216.4h.9v.9h-.9zM90.1 204.0h.9v.9h-.9zM89.8 215.3h.9v.9h-.9zM92.4 216.6h.9v.9h-.9zM91.8 218.1h.9v.9h-.9zM89.5 208.6h.9v.9h-.9zM93.0 211.2h.9v.9h-.9zM91.1 218.4h.9v.9h-.9zM94.0 222.3h.9v.9h-.9zM88.9 211.5h.9v.9h-.9zM92.8 204.2h.9v.9h-.9zM87.1 218.2h.9v.9h-.9zM89.1 207.7h.9v.9h-.9zM93.6 217.6h.9v.9h-.9zM93.9 211.8h.9v.9h-.9zM90.1 211.7h.9v.9h-.9zM92.0 200.2h.9v.9h-.9zM88.8 218.8h.9v.9h-.9zM88.6 213.6h.9v.9h-.9zM91.4 217.6h.9v.9h-.9zM89.5 206.3h.9v.9h-.9zM98.9 209.1h.9v.9h-.9zM96.4 202.0h.9v.9h-.9zM91.4 212.7h.9v.9h-.9zM94.1 207.1h.9v.9h-.9zM88.5 208.9h.9v.9h-.9zM89.4 215.8h.9v.9h-.9zM88.6 212.3h.9v.9h-.9zM95.7 223.8h.9v.9h-.9zM85.2 207.5h.9v.9h-.9zM89.9 222.8h.9v.9h-.9zM92.2 223.8h.9v.9h-.9zM88.3 211.9h.9v.9h-.9zM94.2 217.9h.9v.9h-.9zM85.2 212.1h.9v.9h-.9zM91.6 218.3h.9v.9h-.9zM89.0 225.8h.9v.9h-.9zM91.5 223.9h.9v.9h-.9zM92.3 214.6h.9v.9h-.9zM90.0 206.1h.9v.9h-.9zM93.8 219.2h.9v.9h-.9zM94.0 211.5h.9v.9h-.9zM87.9 211.4h.9v.9h-.9zM90.0 213.9h.9v.9h-.9zM94.1 207.8h.9v.9h-.9zM89.5 218.7h.9v.9h-.9zM92.7 208.3h.9v.9h-.9zM87.8 208.6h.9v.9h-.9zM91.3 215.7h.9v.9h-.9zM90.8 209.8h.9v.9h-.9zM90.5 213.5h.9v.9h-.9zM92.9 214.6h.9v.9h-.9zM88.5 206.1h.9v.9h-.9zM95.7 213.4h.9v.9h-.9zM90.5 213.8h.9v.9h-.9zM94.6 211.9h.9v.9h-.9zM91.6 212.4h.9v.9h-.9zM92.9 207.2h.9v.9h-.9zM91.7 221.0h.9v.9h-.9zM94.8 218.2h.9v.9h-.9zM92.0 224.7h.9v.9h-.9zM93.3 223.5h.9v.9h-.9zM87.3 206.6h.9v.9h-.9zM93.5 212.2h.9v.9h-.9zM89.7 207.6h.9v.9h-.9zM95.7 205.9h.9v.9h-.9zM91.4 204.6h.9v.9h-.9zM98.7 210.7h.9v.9h-.9zM87.9 225.1h.9v.9h-.9zM88.4 201.9h.9v.9h-.9zM92.1 206.7h.9v.9h-.9zM86.5 221.6h.9v.9h-.9zM88.8 206.8h.9v.9h-.9zM91.6 212.7h.9v.9h-.9zM94.6 214.7h.9v.9h-.9zM96.0 221.7h.9v.9h-.9zM96.6 221.6h.9v.9h-.9zM91.3 217.7h.9v.9h-.9zM91.1 203.5h.9v.9h-.9zM87.4 219.0h.9v.9h-.9zM83.6 208.4h.9v.9h-.9zM87.0 213.6h.9v.9h-.9zM87.8 215.7h.9v.9h-.9zM90.4 210.8h.9v.9h-.9zM88.4 199.0h.9v.9h-.9zM91.3 205.3h.9v.9h-.9zM90.1 216.5h.9v.9h-.9zM94.3 218.8h.9v.9h-.9zM95.7 204.4h.9v.9h-.9zM93.2 224.6h.9v.9h-.9zM92.3 206.5h.9v.9h-.9zM92.3 210.5h.9v.9h-.9zM89.0 221.2h.9v.9h-.9zM90.5 206.4h.9v.9h-.9zM88.4 218.6h.9v.9h-.9zM91.6 221.9h.9v.9h-.9zM90.2 207.6h.9v.9h-.9zM89.0 207.0h.9v.9h-.9zM99.2 215.3h.9v.9h-.9zM90.0 222.5h.9v.9h-.9zM93.1 212.8h.9v.9h-.9zM93.0 215.9h.9v.9h-.9zM94.6 225.2h.9v.9h-.9zM90.1 213.8h.9v.9h-.9zM90.5 222.3h.9v.9h-.9zM92.3 219.3h.9v.9h-.9zM93.9 209.7h.9v.9h-.9zM91.5 223.4h.9v.9h-.9zM93.9 219.5h.9v.9h-.9zM90.2 211.6h.9v.9h-.9zM88.4 212.2h.9v.9h-.9zM90.9 204.3h.9v.9h-.9zM94.7 208.8h.9v.9h-.9zM91.8 218.1h.9v.9h-.9zM89.3 201.8h.9v.9h-.9zM94.1 216.8h.9v.9h-.9zM90.3 221.7h.9v.9h-.9zM93.9 207.6h.9v.9h-.9zM90.8 202.1h.9v.9h-.9zM90.2 223.6h.9v.9h-.9zM88.4 219.6h.9v.9h-.9zM86.3 212.0h.9v.9h-.9zM94.0 225.6h.9v.9h-.9zM92.5 219.1h.9v.9h-.9zM96.4 197.5h.9v.9h-.9zM98.8 218.1h.9v.9h-.9zM91.3 215.8h.9v.9h-.9zM91.1 209.9h.9v.9h-.9zM91.0 213.2h.9v.9h-.9zM93.1 218.6h.9v.9h-.9zM94.1 218.0h.9v.9h-.9zM88.0 223.4h.9v.9h-.9zM82.7 214.8h.9v.9h-.9zM92.1 210.4h.9v.9h-.9zM96.9 206.6h.9v.9h-.9zM87.4 210.6h.9v.9h-.9zM92.4 219.4h.9v.9h-.9zM91.4 218.5h.9v.9h-.9zM88.9 209.9h.9v.9h-.9zM91.5 204.9h.9v.9h-.9zM91.6 211.4h.9v.9h-.9zM93.2 207.2h.9v.9h-.9zM89.4 210.2h.9v.9h-.9zM89.9 207.3h.9v.9h-.9zM90.2 204.9h.9v.9h-.9zM92.7 218.6h.9v.9h-.9zM91.0 212.7h.9v.9h-.9zM88.3 207.5h.9v.9h-.9zM90.4 207.9h.9v.9h-.9zM87.4 215.1h.9v.9h-.9zM91.0 211.3h.9v.9h-.9zM88.5 213.7h.9v.9h-.9zM88.9 211.1h.9v.9h-.9zM91.6 218.9h.9v.9h-.9zM93.4 209.9h.9v.9h-.9zM94.8 206.2h.9v.9h-.9zM90.5 222.8h.9v.9h-.9zM98.4 214.9h.9v.9h-.9zM89.9 211.5h.9v.9h-.9zM87.3 213.0h.9v.9h-.9zM89.7 208.9h.9v.9h-.9zM94.8 208.8h.9v.9h-.9zM96.3 219.7h.9v.9h-.9zM93.0 210.0h.9v.9h-.9zM89.5 200.5h.9v.9h-.9zM91.9 212.2h.9v.9h-.9zM92.3 209.5h.9v.9h-.9zM92.6 203.9h.9v.9h-.9zM84.3 217.2h.9v.9h-.9zM94.4 192.7h.9v.9h-.9zM95.0 211.7h.9v.9h-.9zM90.5 203.6h.9v.9h-.9zM88.0 218.8h.9v.9h-.9zM88.8 213.8h.9v.9h-.9zM93.8 205.1h.9v.9h-.9zM89.6 206.3h.9v.9h-.9zM86.8 209.4h.9v.9h-.9zM94.5 214.3h.9v.9h-.9zM93.1 213.1h.9v.9h-.9zM89.7 214.6h.9v.9h-.9zM96.6 216.6h.9v.9h-.9zM92.9 200.5h.9v.9h-.9zM88.6 219.5h.9v.9h-.9zM94.8 211.3h.9v.9h-.9zM90.3 210.9h.9v.9h-.9zM93.5 214.2h.9v.9h-.9zM95.7 222.0h.9v.9h-.9zM90.1 209.9h.9v.9h-.9zM90.3 208.1h.9v.9h-.9zM89.7 213.5h.9v.9h-.9zM93.8 203.3h.9v.9h-.9zM86.7 208.8h.9v.9h-.9zM90.1 217.1h.9v.9h-.9zM88.6 224.2h.9v.9h-.9zM89.4 212.5h.9v.9h-.9zM91.2 221.9h.9v.9h-.9zM92.0 214.2h.9v.9h-.9zM89.4 215.2h.9v.9h-.9zM92.3 211.6h.9v.9h-.9zM91.0 201.5h.9v.9h-.9zM89.4 222.0h.9v.9h-.9zM95.4 213.5h.9v.9h-.9zM84.4 226.4h.9v.9h-.9zM89.8 220.8h.9v.9h-.9zM89.1 223.3h.9v.9h-.9zM94.6 206.8h.9v.9h-.9zM90.4 205.8h.9v.9h-.9zM91.9 211.3h.9v.9h-.9zM86.4 206.9h.9v.9h-.9zM91.8 203.7h.9v.9h-.9zM94.4 217.1h.9v.9h-.9zM90.5 223.5h.9v.9h-.9zM88.2 218.7h.9v.9h-.9zM86.9 211.8h.9v.9h-.9zM93.0 210.4h.9v.9h-.9zM90.7 218.4h.9v.9h-.9zM95.7 222.8h.9v.9h-.9zM92.5 212.2h.9v.9h-.9zM86.6 225.7h.9v.9h-.9zM96.8 199.4h.9v.9h-.9zM93.7 213.7h.9v.9h-.9zM93.2 216.2h.9v.9h-.9zM90.4 214.0h.9v.9h-.9zM90.9 221.9h.9v.9h-.9zM90.2 210.3h.9v.9h-.9zM93.0 218.4h.9v.9h-.9zM92.4 215.9h.9v.9h-.9zM95.6 221.6h.9v.9h-.9zM91.7 212.6h.9v.9h-.9zM93.1 201.3h.9v.9h-.9zM89.4 209.2h.9v.9h-.9zM91.6 211.4h.9v.9h-.9zM98.6 219.0h.9v.9h-.9zM91.0 211.8h.9v.9h-.9zM94.8 219.6h.9v.9h-.9zM93.9 222.2h.9v.9h-.9zM89.9 209.5h.9v.9h-.9zM88.8 214.7h.9v.9h-.9zM94.1 206.9h.9v.9h-.9zM89.4 204.9h.9v.9h-.9zM97.2 219.4h.9v.9h-.9zM91.7 205.7h.9v.9h-.9zM87.9 209.6h.9v.9h-.9zM91.1 205.4h.9v.9h-.9zM90.3 222.3h.9v.9h-.9zM91.1 214.7h.9v.9h-.9zM84.6 212.2h.9v.9h-.9zM90.6 209.3h.9v.9h-.9zM86.8 213.5h.9v.9h-.9zM87.9 210.3h.9v.9h-.9zM86.1 213.4h.9v.9h-.9zM93.8 208.3h.9v.9h-.9zM92.0 203.7h.9v.9h-.9zM92.8 217.7h.9v.9h-.9zM89.8 220.0h.9v.9h-.9zM88.3 214.3h.9v.9h-.9zM96.2 213.8h.9v.9h-.9zM87.6 221.9h.9v.9h-.9zM92.7 212.1h.9v.9h-.9zM85.4 201.2h.9v.9h-.9zM86.4 224.1h.9v.9h-.9zM91.9 208.2h.9v.9h-.9zM94.6 224.0h.9v.9h-.9zM88.4 217.3h.9v.9h-.9zM86.0 216.5h.9v.9h-.9zM96.6 204.4h.9v.9h-.9zM91.2 209.7h.9v.9h-.9zM90.7 214.6h.9v.9h-.9zM91.9 220.1h.9v.9h-.9zM92.6 221.1h.9v.9h-.9zM94.1 221.5h.9v.9h-.9zM89.0 216.8h.9v.9h-.9zM89.9 208.3h.9v.9h-.9zM97.0 216.0h.9v.9h-.9zM91.2 199.6h.9v.9h-.9zM90.3 219.3h.9v.9h-.9zM90.4 210.3h.9v.9h-.9zM95.6 211.9h.9v.9h-.9zM90.0 213.3h.9v.9h-.9zM90.3 221.2h.9v.9h-.9zM92.8 213.5h.9v.9h-.9zM89.9 212.5h.9v.9h-.9zM96.2 211.9h.9v.9h-.9zM93.0 203.2h.9v.9h-.9zM92.0 218.7h.9v.9h-.9zM94.9 216.2h.9v.9h-.9zM92.8 216.2h.9v.9h-.9zM91.6 208.4h.9v.9h-.9zM92.9 213.2h.9v.9h-.9zM93.0 219.3h.9v.9h-.9zM91.5 211.0h.9v.9h-.9zM92.0 205.5h.9v.9h-.9zM91.9 208.0h.9v.9h-.9zM92.4 214.8h.9v.9h-.9zM90.4 205.8h.9v.9h-.9zM91.2 209.4h.9v.9h-.9zM90.6 218.7h.9v.9h-.9zM94.0 205.2h.9v.9h-.9zM93.9 223.3h.9v.9h-.9zM94.5 215.9h.9v.9h-.9zM90.8 225.9h.9v.9h-.9zM90.1 203.6h.9v.9h-.9zM91.3 216.0h.9v.9h-.9zM87.9 205.7h.9v.9h-.9zM97.1 214.8h.9v.9h-.9zM93.4 210.0h.9v.9h-.9zM86.4 212.8h.9v.9h-.9zM95.1 209.4h.9v.9h-.9zM85.5 212.8h.9v.9h-.9zM90.2 214.1h.9v.9h-.9zM87.8 211.9h.9v.9h-.9zM89.4 220.0h.9v.9h-.9zM91.5 220.0h.9v.9h-.9zM90.9 199.4h.9v.9h-.9zM85.0 217.7h.9v.9h-.9zM93.7 220.0h.9v.9h-.9zM90.8 201.8h.9v.9h-.9zM89.5 216.8h.9v.9h-.9zM95.3 211.7h.9v.9h-.9zM89.3 208.7h.9v.9h-.9zM94.2 219.9h.9v.9h-.9zM85.4 222.3h.9v.9h-.9zM88.2 204.0h.9v.9h-.9zM86.2 209.0h.9v.9h-.9zM87.2 209.4h.9v.9h-.9zM91.5 216.8h.9v.9h-.9zM89.6 203.2h.9v.9h-.9zM89.8 209.4h.9v.9h-.9zM85.5 215.0h.9v.9h-.9zM86.5 202.1h.9v.9h-.9zM95.7 220.4h.9v.9h-.9zM95.5 214.8h.9v.9h-.9zM89.8 213.4h.9v.9h-.9zM86.9 219.1h.9v.9h-.9zM91.9 211.9h.9v.9h-.9zM85.3 213.2h.9v.9h-.9zM96.0 223.9h.9v.9h-.9zM93.7 211.6h.9v.9h-.9zM91.5 217.8h.9v.9h-.9zM91.6 221.2h.9v.9h-.9z" fill="#000" fill-opacity="0.80"/><path d="M103.2 195.4h.9v.9h-.9zM95.6 203.7h.9v.9h-.9zM100.1 212.9h.9v.9h-.9zM110.7 209.0h.9v.9h-.9zM108.4 209.5h.9v.9h-.9zM106.8 206.2h.9v.9h-.9zM104.3 216.0h.9v.9h-.9zM104.9 208.8h.9v.9h-.9zM111.2 214.8h.9v.9h-.9zM104.4 210.5h.9v.9h-.9zM101.7 209.8h.9v.9h-.9zM107.4 209.0h.9v.9h-.9zM106.8 211.1h.9v.9h-.9zM95.1 204.2h.9v.9h-.9zM106.4 206.1h.9v.9h-.9zM101.9 207.6h.9v.9h-.9zM113.0 207.7h.9v.9h-.9zM103.3 206.2h.9v.9h-.9zM100.9 211.8h.9v.9h-.9zM101.8 214.3h.9v.9h-.9zM110.0 212.4h.9v.9h-.9zM110.5 208.5h.9v.9h-.9zM98.5 208.6h.9v.9h-.9zM108.8 199.9h.9v.9h-.9zM100.8 215.4h.9v.9h-.9zM107.9 216.9h.9v.9h-.9zM108.9 209.4h.9v.9h-.9zM107.9 214.0h.9v.9h-.9zM105.9 207.8h.9v.9h-.9zM107.4 207.2h.9v.9h-.9zM116.4 204.5h.9v.9h-.9zM99.5 201.4h.9v.9h-.9zM110.6 206.6h.9v.9h-.9zM106.7 207.7h.9v.9h-.9zM107.3 200.5h.9v.9h-.9zM106.4 205.6h.9v.9h-.9zM110.7 212.7h.9v.9h-.9zM100.6 203.3h.9v.9h-.9zM108.5 216.0h.9v.9h-.9zM109.4 208.1h.9v.9h-.9zM110.9 195.2h.9v.9h-.9zM103.7 203.3h.9v.9h-.9zM101.6 212.3h.9v.9h-.9zM107.3 210.7h.9v.9h-.9zM105.5 212.6h.9v.9h-.9zM109.4 205.6h.9v.9h-.9zM110.1 203.6h.9v.9h-.9zM113.7 201.4h.9v.9h-.9zM104.8 202.6h.9v.9h-.9zM106.2 216.7h.9v.9h-.9zM102.8 219.4h.9v.9h-.9zM112.2 211.3h.9v.9h-.9zM103.5 214.3h.9v.9h-.9zM93.7 204.5h.9v.9h-.9zM110.2 208.8h.9v.9h-.9zM116.8 205.0h.9v.9h-.9zM100.3 207.7h.9v.9h-.9zM108.6 219.0h.9v.9h-.9zM98.4 209.9h.9v.9h-.9zM111.5 205.0h.9v.9h-.9zM104.1 201.9h.9v.9h-.9zM109.4 213.9h.9v.9h-.9zM108.6 210.4h.9v.9h-.9zM110.4 208.3h.9v.9h-.9zM109.2 213.8h.9v.9h-.9zM111.7 212.0h.9v.9h-.9zM106.4 213.2h.9v.9h-.9zM99.3 198.6h.9v.9h-.9zM113.1 209.8h.9v.9h-.9zM101.5 205.6h.9v.9h-.9zM105.4 209.4h.9v.9h-.9zM102.7 214.9h.9v.9h-.9zM98.6 225.5h.9v.9h-.9zM101.3 218.8h.9v.9h-.9zM109.0 199.1h.9v.9h-.9zM100.7 209.4h.9v.9h-.9zM107.2 206.5h.9v.9h-.9zM106.1 210.0h.9v.9h-.9zM101.1 209.4h.9v.9h-.9zM116.0 205.2h.9v.9h-.9zM101.6 212.9h.9v.9h-.9zM111.9 215.2h.9v.9h-.9zM103.3 208.6h.9v.9h-.9zM106.9 207.8h.9v.9h-.9zM107.8 215.4h.9v.9h-.9zM108.5 208.9h.9v.9h-.9zM105.2 219.6h.9v.9h-.9zM100.7 220.8h.9v.9h-.9zM109.3 209.5h.9v.9h-.9zM102.8 219.8h.9v.9h-.9zM111.4 214.4h.9v.9h-.9zM115.2 198.4h.9v.9h-.9zM106.5 207.2h.9v.9h-.9zM102.9 209.4h.9v.9h-.9zM108.4 212.1h.9v.9h-.9zM105.4 201.2h.9v.9h-.9zM108.5 212.6h.9v.9h-.9zM115.4 214.5h.9v.9h-.9zM106.1 202.2h.9v.9h-.9zM118.1 205.0h.9v.9h-.9zM106.9 213.4h.9v.9h-.9zM108.3 216.9h.9v.9h-.9zM101.5 204.9h.9v.9h-.9zM106.8 201.7h.9v.9h-.9zM103.4 217.2h.9v.9h-.9zM107.4 208.4h.9v.9h-.9zM103.5 209.3h.9v.9h-.9zM105.9 202.6h.9v.9h-.9zM109.5 201.4h.9v.9h-.9zM111.7 207.0h.9v.9h-.9zM96.0 199.8h.9v.9h-.9zM107.3 203.9h.9v.9h-.9zM114.1 217.2h.9v.9h-.9zM115.4 214.3h.9v.9h-.9zM112.1 205.4h.9v.9h-.9zM111.8 206.4h.9v.9h-.9zM105.8 200.9h.9v.9h-.9zM106.3 211.4h.9v.9h-.9zM105.8 202.4h.9v.9h-.9zM110.1 214.4h.9v.9h-.9zM105.7 213.7h.9v.9h-.9zM110.4 203.2h.9v.9h-.9zM105.9 197.9h.9v.9h-.9zM101.5 211.5h.9v.9h-.9zM102.1 211.3h.9v.9h-.9zM107.7 196.7h.9v.9h-.9zM103.9 218.0h.9v.9h-.9zM106.1 209.7h.9v.9h-.9zM102.9 199.5h.9v.9h-.9zM99.0 226.1h.9v.9h-.9zM105.2 203.8h.9v.9h-.9zM106.6 197.5h.9v.9h-.9zM112.3 219.2h.9v.9h-.9zM102.7 210.9h.9v.9h-.9zM102.0 214.1h.9v.9h-.9zM102.3 208.1h.9v.9h-.9zM111.9 212.1h.9v.9h-.9zM104.6 199.9h.9v.9h-.9zM98.9 216.2h.9v.9h-.9zM108.4 209.3h.9v.9h-.9zM111.7 209.9h.9v.9h-.9zM102.8 208.4h.9v.9h-.9zM105.6 208.9h.9v.9h-.9zM117.2 212.5h.9v.9h-.9zM107.3 207.5h.9v.9h-.9zM103.0 203.1h.9v.9h-.9zM97.6 206.3h.9v.9h-.9zM99.2 197.9h.9v.9h-.9zM101.8 196.9h.9v.9h-.9zM112.2 216.5h.9v.9h-.9zM101.7 221.2h.9v.9h-.9zM109.0 193.9h.9v.9h-.9zM106.1 203.0h.9v.9h-.9zM98.2 207.4h.9v.9h-.9zM111.2 211.7h.9v.9h-.9zM99.5 205.0h.9v.9h-.9zM102.6 215.9h.9v.9h-.9zM105.6 203.1h.9v.9h-.9zM101.9 197.2h.9v.9h-.9zM102.3 214.4h.9v.9h-.9zM97.4 210.2h.9v.9h-.9zM105.5 213.9h.9v.9h-.9zM100.9 214.5h.9v.9h-.9zM113.0 222.7h.9v.9h-.9zM98.7 208.8h.9v.9h-.9zM105.1 209.7h.9v.9h-.9zM101.6 214.1h.9v.9h-.9zM116.6 218.0h.9v.9h-.9zM101.7 205.5h.9v.9h-.9zM109.3 209.8h.9v.9h-.9zM102.6 216.4h.9v.9h-.9zM108.4 215.1h.9v.9h-.9zM105.2 216.7h.9v.9h-.9zM103.9 202.3h.9v.9h-.9zM106.0 200.6h.9v.9h-.9zM111.7 213.4h.9v.9h-.9zM98.4 210.0h.9v.9h-.9zM109.9 206.8h.9v.9h-.9zM107.9 205.5h.9v.9h-.9zM105.7 208.5h.9v.9h-.9zM108.2 203.2h.9v.9h-.9zM100.9 211.0h.9v.9h-.9zM103.7 212.1h.9v.9h-.9zM103.8 201.1h.9v.9h-.9zM109.4 210.6h.9v.9h-.9zM109.3 207.0h.9v.9h-.9zM104.4 216.6h.9v.9h-.9zM98.4 219.5h.9v.9h-.9zM108.4 208.7h.9v.9h-.9zM106.4 212.6h.9v.9h-.9zM102.5 210.7h.9v.9h-.9zM101.7 197.9h.9v.9h-.9zM106.9 209.6h.9v.9h-.9zM109.0 212.3h.9v.9h-.9zM109.2 213.8h.9v.9h-.9zM101.3 216.3h.9v.9h-.9zM118.1 205.6h.9v.9h-.9zM100.3 213.1h.9v.9h-.9zM110.2 215.1h.9v.9h-.9zM113.0 200.7h.9v.9h-.9zM107.7 211.8h.9v.9h-.9zM111.7 203.6h.9v.9h-.9zM106.1 206.8h.9v.9h-.9zM105.3 208.1h.9v.9h-.9zM105.3 198.4h.9v.9h-.9zM105.9 209.4h.9v.9h-.9zM104.3 187.6h.9v.9h-.9zM102.9 205.1h.9v.9h-.9zM102.1 218.6h.9v.9h-.9zM110.2 207.9h.9v.9h-.9zM101.6 211.9h.9v.9h-.9zM103.3 217.9h.9v.9h-.9zM111.0 208.3h.9v.9h-.9zM108.8 204.2h.9v.9h-.9zM98.9 214.1h.9v.9h-.9zM113.4 207.2h.9v.9h-.9zM103.6 198.2h.9v.9h-.9zM115.7 201.8h.9v.9h-.9zM101.6 207.8h.9v.9h-.9zM111.5 209.3h.9v.9h-.9zM105.9 209.1h.9v.9h-.9zM109.9 208.8h.9v.9h-.9zM106.7 208.6h.9v.9h-.9zM101.0 217.1h.9v.9h-.9zM102.9 201.1h.9v.9h-.9zM104.0 209.2h.9v.9h-.9zM109.7 200.1h.9v.9h-.9zM100.3 210.1h.9v.9h-.9zM107.7 202.4h.9v.9h-.9zM100.9 210.1h.9v.9h-.9zM105.4 199.3h.9v.9h-.9zM102.0 217.9h.9v.9h-.9zM101.2 215.3h.9v.9h-.9zM99.1 218.0h.9v.9h-.9zM113.3 205.2h.9v.9h-.9zM102.9 212.8h.9v.9h-.9zM100.4 212.3h.9v.9h-.9zM111.5 210.6h.9v.9h-.9zM107.5 208.1h.9v.9h-.9zM110.5 204.1h.9v.9h-.9zM113.2 208.9h.9v.9h-.9zM104.5 199.2h.9v.9h-.9zM104.0 210.4h.9v.9h-.9zM111.6 199.3h.9v.9h-.9zM105.4 204.9h.9v.9h-.9zM100.6 209.0h.9v.9h-.9zM102.6 214.2h.9v.9h-.9zM93.8 213.4h.9v.9h-.9zM97.4 197.3h.9v.9h-.9zM108.4 207.0h.9v.9h-.9zM106.6 203.2h.9v.9h-.9zM101.3 204.6h.9v.9h-.9zM105.8 203.9h.9v.9h-.9zM104.1 203.8h.9v.9h-.9zM107.1 202.1h.9v.9h-.9zM96.6 193.2h.9v.9h-.9zM105.9 209.6h.9v.9h-.9zM110.4 204.5h.9v.9h-.9zM100.9 200.0h.9v.9h-.9zM109.4 205.2h.9v.9h-.9zM110.5 208.5h.9v.9h-.9zM104.8 197.8h.9v.9h-.9zM102.9 213.8h.9v.9h-.9zM103.2 213.1h.9v.9h-.9zM98.6 215.1h.9v.9h-.9zM118.6 215.7h.9v.9h-.9zM107.5 201.6h.9v.9h-.9zM103.6 205.1h.9v.9h-.9zM106.8 196.8h.9v.9h-.9zM102.1 213.8h.9v.9h-.9zM106.7 213.5h.9v.9h-.9zM109.9 202.1h.9v.9h-.9zM99.9 211.8h.9v.9h-.9zM106.2 209.5h.9v.9h-.9zM102.3 215.1h.9v.9h-.9zM108.2 215.9h.9v.9h-.9zM104.4 213.2h.9v.9h-.9zM105.7 203.3h.9v.9h-.9zM105.6 199.0h.9v.9h-.9zM105.2 210.1h.9v.9h-.9zM109.1 202.7h.9v.9h-.9zM100.0 204.6h.9v.9h-.9zM96.6 205.1h.9v.9h-.9zM117.8 209.9h.9v.9h-.9zM102.6 204.9h.9v.9h-.9zM114.0 202.0h.9v.9h-.9zM105.5 208.5h.9v.9h-.9zM102.7 204.7h.9v.9h-.9zM98.4 203.9h.9v.9h-.9zM111.9 217.5h.9v.9h-.9zM104.7 213.2h.9v.9h-.9zM108.1 209.7h.9v.9h-.9zM105.4 216.3h.9v.9h-.9zM108.6 207.6h.9v.9h-.9zM104.9 214.6h.9v.9h-.9zM103.3 204.7h.9v.9h-.9zM104.8 206.0h.9v.9h-.9zM111.7 211.1h.9v.9h-.9zM105.6 205.8h.9v.9h-.9zM112.4 211.7h.9v.9h-.9zM115.4 214.5h.9v.9h-.9zM105.0 205.7h.9v.9h-.9zM104.7 210.1h.9v.9h-.9zM109.6 211.9h.9v.9h-.9zM113.1 199.8h.9v.9h-.9zM106.1 200.5h.9v.9h-.9zM101.4 205.4h.9v.9h-.9zM103.1 203.2h.9v.9h-.9zM99.1 215.8h.9v.9h-.9zM104.6 214.8h.9v.9h-.9zM101.0 195.0h.9v.9h-.9zM103.3 214.3h.9v.9h-.9zM103.5 211.4h.9v.9h-.9zM101.1 217.4h.9v.9h-.9zM108.0 215.3h.9v.9h-.9zM104.7 216.7h.9v.9h-.9zM106.3 206.1h.9v.9h-.9zM103.1 209.3h.9v.9h-.9zM101.9 201.8h.9v.9h-.9zM106.6 213.3h.9v.9h-.9zM104.7 214.1h.9v.9h-.9zM113.2 201.4h.9v.9h-.9zM107.2 203.2h.9v.9h-.9zM103.1 210.1h.9v.9h-.9zM95.3 212.6h.9v.9h-.9zM109.8 212.3h.9v.9h-.9zM108.9 219.9h.9v.9h-.9zM104.3 215.6h.9v.9h-.9zM112.5 212.0h.9v.9h-.9zM97.9 208.1h.9v.9h-.9zM104.7 199.3h.9v.9h-.9zM105.7 213.5h.9v.9h-.9zM104.8 207.9h.9v.9h-.9zM112.6 205.3h.9v.9h-.9zM101.7 209.2h.9v.9h-.9zM111.1 212.6h.9v.9h-.9zM106.3 206.0h.9v.9h-.9zM111.6 214.3h.9v.9h-.9zM98.2 211.0h.9v.9h-.9z" fill="#000" fill-opacity="0.70"/><path d="M48.7 225.2h.9v.9h-.9zM72.9 213.5h.9v.9h-.9zM57.6 215.3h.9v.9h-.9zM53.9 220.1h.9v.9h-.9zM63.9 207.2h.9v.9h-.9zM67.8 223.5h.9v.9h-.9zM57.8 215.0h.9v.9h-.9zM82.6 218.0h.9v.9h-.9zM63.5 218.0h.9v.9h-.9zM74.2 211.5h.9v.9h-.9zM67.2 208.0h.9v.9h-.9zM55.3 208.5h.9v.9h-.9zM74.8 218.7h.9v.9h-.9zM73.9 223.7h.9v.9h-.9zM68.4 218.3h.9v.9h-.9zM71.2 219.6h.9v.9h-.9zM59.5 215.5h.9v.9h-.9zM66.8 217.2h.9v.9h-.9zM62.0 216.3h.9v.9h-.9zM70.3 218.0h.9v.9h-.9zM72.7 221.5h.9v.9h-.9zM72.5 222.3h.9v.9h-.9zM74.7 224.7h.9v.9h-.9zM73.0 213.6h.9v.9h-.9zM86.7 223.2h.9v.9h-.9zM78.0 221.0h.9v.9h-.9zM68.4 210.7h.9v.9h-.9zM71.5 215.0h.9v.9h-.9zM64.8 205.2h.9v.9h-.9zM80.4 210.6h.9v.9h-.9zM59.2 219.6h.9v.9h-.9zM72.5 212.6h.9v.9h-.9zM67.9 218.4h.9v.9h-.9zM69.3 219.9h.9v.9h-.9zM74.2 215.0h.9v.9h-.9zM64.9 211.5h.9v.9h-.9zM74.0 220.2h.9v.9h-.9zM49.1 224.1h.9v.9h-.9zM67.7 218.7h.9v.9h-.9zM70.5 215.7h.9v.9h-.9zM70.5 209.8h.9v.9h-.9zM47.3 223.8h.9v.9h-.9zM50.1 212.3h.9v.9h-.9zM75.0 214.7h.9v.9h-.9zM63.4 208.7h.9v.9h-.9zM67.0 216.0h.9v.9h-.9zM62.9 208.4h.9v.9h-.9zM69.2 219.3h.9v.9h-.9zM77.1 219.8h.9v.9h-.9zM80.2 223.6h.9v.9h-.9zM45.3 226.2h.9v.9h-.9zM67.2 211.2h.9v.9h-.9zM71.5 222.3h.9v.9h-.9zM55.6 210.2h.9v.9h-.9zM73.5 213.9h.9v.9h-.9zM79.7 218.2h.9v.9h-.9zM63.6 209.7h.9v.9h-.9zM72.8 207.5h.9v.9h-.9zM57.5 209.8h.9v.9h-.9zM81.7 226.4h.9v.9h-.9zM66.2 214.9h.9v.9h-.9zM73.6 223.9h.9v.9h-.9zM66.3 223.2h.9v.9h-.9zM49.0 216.7h.9v.9h-.9zM66.3 210.0h.9v.9h-.9zM83.7 213.2h.9v.9h-.9zM68.0 210.1h.9v.9h-.9zM73.4 218.1h.9v.9h-.9zM65.7 214.8h.9v.9h-.9zM63.4 213.0h.9v.9h-.9zM56.7 223.6h.9v.9h-.9zM75.2 209.3h.9v.9h-.9zM58.6 219.2h.9v.9h-.9zM86.2 215.9h.9v.9h-.9zM65.5 215.6h.9v.9h-.9zM70.0 216.0h.9v.9h-.9zM76.7 222.4h.9v.9h-.9zM72.4 225.7h.9v.9h-.9zM66.1 214.0h.9v.9h-.9zM91.9 206.3h.9v.9h-.9zM55.5 204.0h.9v.9h-.9zM70.9 211.1h.9v.9h-.9zM76.5 205.4h.9v.9h-.9zM66.9 214.8h.9v.9h-.9zM59.3 223.2h.9v.9h-.9zM64.8 219.5h.9v.9h-.9zM63.8 217.8h.9v.9h-.9zM64.4 217.4h.9v.9h-.9zM67.2 213.2h.9v.9h-.9zM71.5 216.0h.9v.9h-.9zM60.2 211.2h.9v.9h-.9zM71.5 224.3h.9v.9h-.9zM57.5 214.7h.9v.9h-.9zM71.6 222.7h.9v.9h-.9zM73.7 210.5h.9v.9h-.9zM68.3 222.0h.9v.9h-.9zM69.9 215.7h.9v.9h-.9zM58.5 217.9h.9v.9h-.9zM67.5 217.2h.9v.9h-.9zM80.1 223.5h.9v.9h-.9zM61.6 218.3h.9v.9h-.9zM65.5 217.5h.9v.9h-.9zM81.1 222.0h.9v.9h-.9zM68.3 213.4h.9v.9h-.9zM66.7 219.0h.9v.9h-.9zM64.0 223.1h.9v.9h-.9zM68.2 210.5h.9v.9h-.9zM84.4 201.0h.9v.9h-.9zM65.8 216.3h.9v.9h-.9zM75.9 223.1h.9v.9h-.9zM79.7 225.6h.9v.9h-.9zM70.5 217.6h.9v.9h-.9zM76.2 216.9h.9v.9h-.9zM57.9 214.5h.9v.9h-.9zM73.3 220.4h.9v.9h-.9zM59.1 223.6h.9v.9h-.9zM70.5 208.7h.9v.9h-.9zM71.8 222.5h.9v.9h-.9zM72.3 215.3h.9v.9h-.9zM61.6 223.2h.9v.9h-.9zM69.8 217.0h.9v.9h-.9zM64.8 211.3h.9v.9h-.9zM52.9 215.1h.9v.9h-.9zM76.9 221.2h.9v.9h-.9zM62.5 225.4h.9v.9h-.9zM66.2 211.4h.9v.9h-.9zM75.9 224.6h.9v.9h-.9zM64.9 210.3h.9v.9h-.9zM67.5 203.6h.9v.9h-.9zM68.4 225.4h.9v.9h-.9zM70.2 212.9h.9v.9h-.9zM73.7 214.3h.9v.9h-.9zM78.2 215.0h.9v.9h-.9zM84.4 215.1h.9v.9h-.9zM69.5 211.8h.9v.9h-.9zM57.7 218.9h.9v.9h-.9zM70.8 211.6h.9v.9h-.9zM72.5 214.7h.9v.9h-.9zM63.6 216.6h.9v.9h-.9zM71.2 221.0h.9v.9h-.9zM77.9 219.1h.9v.9h-.9zM62.2 213.2h.9v.9h-.9zM71.0 210.4h.9v.9h-.9zM66.6 214.9h.9v.9h-.9zM67.2 218.0h.9v.9h-.9zM76.4 226.0h.9v.9h-.9zM75.1 222.6h.9v.9h-.9zM59.4 222.7h.9v.9h-.9zM78.4 209.5h.9v.9h-.9zM88.3 213.9h.9v.9h-.9zM68.5 212.6h.9v.9h-.9zM63.4 222.9h.9v.9h-.9zM70.1 214.9h.9v.9h-.9zM77.2 211.8h.9v.9h-.9zM61.2 213.9h.9v.9h-.9zM62.0 220.8h.9v.9h-.9zM66.1 211.2h.9v.9h-.9zM64.3 206.0h.9v.9h-.9zM69.3 217.6h.9v.9h-.9zM72.9 215.7h.9v.9h-.9zM71.2 211.8h.9v.9h-.9zM68.2 217.9h.9v.9h-.9zM58.2 220.2h.9v.9h-.9zM69.1 217.3h.9v.9h-.9z" fill="#000" fill-opacity="0.50"/></g><rect x="39.5" y="151.5" width="90.0" height="76.0" fill="none" stroke="#6a6a6a" stroke-width="1"/><line x1="77.5" y1="151.5" x2="77.5" y2="227.5" stroke="#444" stroke-width="1"/><line x1="39.5" y1="196.5" x2="129.5" y2="196.5" stroke="#444" stroke-width="1"/><path d="M39.5 227.5v2.0M39.5 227.5h-2.0M46.3 227.5v1.2M39.5 221.8h-1.2M50.2 227.5v1.2M39.5 218.4h-1.2M53.0 227.5v1.2M39.5 216.1h-1.2M55.2 227.5v1.2M39.5 214.2h-1.2M57.0 227.5v1.2M39.5 212.7h-1.2M58.5 227.5v1.2M39.5 211.4h-1.2M59.8 227.5v1.2M39.5 210.3h-1.2M61.0 227.5v1.2M39.5 209.4h-1.2M62.0 227.5v2.0M39.5 208.5h-2.0M68.8 227.5v1.2M39.5 202.8h-1.2M72.7 227.5v1.2M39.5 199.4h-1.2M75.5 227.5v1.2M39.5 197.1h-1.2M77.7 227.5v1.2M39.5 195.2h-1.2M79.5 227.5v1.2M39.5 193.7h-1.2M81.0 227.5v1.2M39.5 192.4h-1.2M82.3 227.5v1.2M39.5 191.3h-1.2M83.5 227.5v1.2M39.5 190.4h-1.2M84.5 227.5v2.0M39.5 189.5h-2.0M91.3 227.5v1.2M39.5 183.8h-1.2M95.2 227.5v1.2M39.5 180.4h-1.2M98.0 227.5v1.2M39.5 178.1h-1.2M100.2 227.5v1.2M39.5 176.2h-1.2M102.0 227.5v1.2M39.5 174.7h-1.2M103.5 227.5v1.2M39.5 173.4h-1.2M104.8 227.5v1.2M39.5 172.3h-1.2M106.0 227.5v1.2M39.5 171.4h-1.2M107.0 227.5v2.0M39.5 170.5h-2.0M113.8 227.5v1.2M39.5 164.8h-1.2M117.7 227.5v1.2M39.5 161.4h-1.2M120.5 227.5v1.2M39.5 159.1h-1.2M122.7 227.5v1.2M39.5 157.2h-1.2M124.5 227.5v1.2M39.5 155.7h-1.2M126.0 227.5v1.2M39.5 154.4h-1.2M127.3 227.5v1.2M39.5 153.3h-1.2M128.5 227.5v1.2M39.5 152.4h-1.2" stroke="#444" stroke-width="0.7" fill="none"/><g transform="translate(36.1 236.7)"><text x="0" y="0" class="tl" textLength="7.0" lengthAdjust="spacingAndGlyphs">10</text><text x="8.1" y="-3.3" class="sup">0</text></g><g transform="translate(37.7 231.9) rotate(-90)"><text x="0" y="0" class="tl" textLength="7.0" lengthAdjust="spacingAndGlyphs">10</text><text x="8.1" y="-3.3" class="sup">0</text></g><g transform="translate(58.6 236.7)"><text x="0" y="0" class="tl" textLength="7.0" lengthAdjust="spacingAndGlyphs">10</text><text x="8.1" y="-3.3" class="sup">1</text></g><g transform="translate(37.7 212.9) rotate(-90)"><text x="0" y="0" class="tl" textLength="7.0" lengthAdjust="spacingAndGlyphs">10</text><text x="8.1" y="-3.3" class="sup">1</text></g><g transform="translate(81.1 236.7)"><text x="0" y="0" class="tl" textLength="7.0" lengthAdjust="spacingAndGlyphs">10</text><text x="8.1" y="-3.3" class="sup">2</text></g><g transform="translate(37.7 193.9) rotate(-90)"><text x="0" y="0" class="tl" textLength="7.0" lengthAdjust="spacingAndGlyphs">10</text><text x="8.1" y="-3.3" class="sup">2</text></g><g transform="translate(103.6 236.7)"><text x="0" y="0" class="tl" textLength="7.0" lengthAdjust="spacingAndGlyphs">10</text><text x="8.1" y="-3.3" class="sup">3</text></g><g transform="translate(37.7 174.9) rotate(-90)"><text x="0" y="0" class="tl" textLength="7.0" lengthAdjust="spacingAndGlyphs">10</text><text x="8.1" y="-3.3" class="sup">3</text></g><g transform="translate(126.1 236.7)"><text x="0" y="0" class="tl" textLength="7.0" lengthAdjust="spacingAndGlyphs">10</text><text x="8.1" y="-3.3" class="sup">4</text></g><g transform="translate(37.7 155.9) rotate(-90)"><text x="0" y="0" class="tl" textLength="7.0" lengthAdjust="spacingAndGlyphs">10</text><text x="8.1" y="-3.3" class="sup">4</text></g><g filter="url(#bl)"><path d="M188.4 190.7h.9v.9h-.9zM191.0 183.5h.9v.9h-.9zM186.3 187.0h.9v.9h-.9zM189.8 183.4h.9v.9h-.9zM187.0 187.9h.9v.9h-.9zM191.5 188.2h.9v.9h-.9zM190.9 182.4h.9v.9h-.9zM195.8 186.3h.9v.9h-.9zM187.4 184.7h.9v.9h-.9zM185.6 187.7h.9v.9h-.9zM188.7 186.7h.9v.9h-.9zM192.4 184.8h.9v.9h-.9zM193.0 184.9h.9v.9h-.9zM184.5 184.4h.9v.9h-.9zM184.5 187.5h.9v.9h-.9zM194.6 184.0h.9v.9h-.9zM194.4 186.1h.9v.9h-.9zM196.4 183.1h.9v.9h-.9zM191.1 182.9h.9v.9h-.9zM187.2 189.1h.9v.9h-.9zM179.9 183.1h.9v.9h-.9zM193.7 187.5h.9v.9h-.9zM186.7 180.2h.9v.9h-.9zM181.5 186.5h.9v.9h-.9zM197.1 187.9h.9v.9h-.9zM187.0 189.0h.9v.9h-.9zM190.0 187.1h.9v.9h-.9zM189.9 189.6h.9v.9h-.9zM188.1 179.9h.9v.9h-.9zM189.3 186.0h.9v.9h-.9zM192.5 183.6h.9v.9h-.9zM189.7 182.5h.9v.9h-.9zM189.7 185.7h.9v.9h-.9zM192.3 189.8h.9v.9h-.9zM180.0 186.8h.9v.9h-.9zM193.4 182.5h.9v.9h-.9zM191.4 185.5h.9v.9h-.9zM185.5 187.4h.9v.9h-.9zM201.5 187.2h.9v.9h-.9zM195.3 188.3h.9v.9h-.9zM190.3 188.0h.9v.9h-.9zM186.6 186.0h.9v.9h-.9zM194.9 188.9h.9v.9h-.9zM189.4 184.7h.9v.9h-.9zM193.6 185.3h.9v.9h-.9zM191.8 187.6h.9v.9h-.9zM186.8 187.8h.9v.9h-.9zM193.1 184.8h.9v.9h-.9zM184.1 183.9h.9v.9h-.9zM190.8 187.9h.9v.9h-.9zM180.2 187.3h.9v.9h-.9zM192.1 182.6h.9v.9h-.9zM195.7 186.5h.9v.9h-.9zM193.4 183.0h.9v.9h-.9zM184.9 187.9h.9v.9h-.9zM198.7 186.4h.9v.9h-.9zM189.9 184.3h.9v.9h-.9zM181.6 188.0h.9v.9h-.9zM190.5 188.7h.9v.9h-.9zM187.1 188.2h.9v.9h-.9zM187.1 187.0h.9v.9h-.9zM198.5 183.7h.9v.9h-.9zM196.0 185.5h.9v.9h-.9zM185.9 186.0h.9v.9h-.9zM194.5 183.7h.9v.9h-.9zM189.5 184.0h.9v.9h-.9zM186.8 185.0h.9v.9h-.9zM195.5 184.2h.9v.9h-.9zM197.8 184.5h.9v.9h-.9zM187.2 188.3h.9v.9h-.9zM198.7 183.8h.9v.9h-.9zM194.2 182.5h.9v.9h-.9zM188.8 184.5h.9v.9h-.9zM194.9 182.3h.9v.9h-.9zM188.2 183.7h.9v.9h-.9zM191.5 182.3h.9v.9h-.9zM183.7 192.8h.9v.9h-.9zM192.2 181.6h.9v.9h-.9zM195.5 182.1h.9v.9h-.9zM180.7 189.8h.9v.9h-.9zM197.8 183.3h.9v.9h-.9zM185.1 186.7h.9v.9h-.9zM202.1 187.0h.9v.9h-.9zM194.6 182.4h.9v.9h-.9zM181.3 186.5h.9v.9h-.9zM196.5 185.9h.9v.9h-.9zM191.0 189.1h.9v.9h-.9zM186.4 188.3h.9v.9h-.9zM195.5 183.9h.9v.9h-.9zM191.7 185.8h.9v.9h-.9zM194.2 183.0h.9v.9h-.9zM189.7 185.7h.9v.9h-.9zM191.2 185.6h.9v.9h-.9zM192.4 185.0h.9v.9h-.9zM188.3 188.1h.9v.9h-.9zM187.5 184.7h.9v.9h-.9zM186.2 182.6h.9v.9h-.9zM193.4 185.4h.9v.9h-.9zM190.3 186.7h.9v.9h-.9zM190.1 187.2h.9v.9h-.9zM200.8 186.4h.9v.9h-.9zM189.6 189.7h.9v.9h-.9zM194.8 181.2h.9v.9h-.9zM198.2 186.0h.9v.9h-.9zM195.6 182.5h.9v.9h-.9zM186.4 183.8h.9v.9h-.9zM194.0 182.6h.9v.9h-.9zM187.2 187.9h.9v.9h-.9zM187.5 185.8h.9v.9h-.9zM186.1 181.1h.9v.9h-.9zM190.5 185.2h.9v.9h-.9zM183.2 188.0h.9v.9h-.9zM195.4 187.8h.9v.9h-.9zM188.2 182.6h.9v.9h-.9zM190.5 185.9h.9v.9h-.9zM190.1 184.0h.9v.9h-.9zM185.6 183.6h.9v.9h-.9zM190.5 184.3h.9v.9h-.9zM200.0 184.8h.9v.9h-.9zM193.4 184.3h.9v.9h-.9zM190.0 183.0h.9v.9h-.9zM188.4 181.7h.9v.9h-.9zM179.8 188.9h.9v.9h-.9zM185.3 186.6h.9v.9h-.9zM190.3 184.0h.9v.9h-.9zM194.9 184.1h.9v.9h-.9zM193.3 184.6h.9v.9h-.9zM196.2 187.9h.9v.9h-.9zM191.3 188.3h.9v.9h-.9zM193.7 189.5h.9v.9h-.9zM190.3 181.6h.9v.9h-.9zM192.1 186.1h.9v.9h-.9zM189.0 185.0h.9v.9h-.9zM189.5 182.3h.9v.9h-.9zM200.3 183.5h.9v.9h-.9zM185.2 181.5h.9v.9h-.9zM186.4 185.4h.9v.9h-.9zM198.9 187.0h.9v.9h-.9zM187.1 182.3h.9v.9h-.9zM185.0 185.3h.9v.9h-.9zM195.7 184.3h.9v.9h-.9zM199.6 190.4h.9v.9h-.9zM191.8 180.0h.9v.9h-.9zM196.9 185.2h.9v.9h-.9zM194.6 188.0h.9v.9h-.9zM185.6 185.7h.9v.9h-.9zM191.9 183.6h.9v.9h-.9zM194.7 185.2h.9v.9h-.9zM188.8 190.3h.9v.9h-.9zM191.9 189.7h.9v.9h-.9zM190.2 188.1h.9v.9h-.9zM186.9 185.9h.9v.9h-.9zM196.8 180.0h.9v.9h-.9zM193.9 184.8h.9v.9h-.9zM196.8 186.0h.9v.9h-.9zM190.6 182.2h.9v.9h-.9zM206.8 183.6h.9v.9h-.9zM189.2 183.7h.9v.9h-.9zM189.4 186.1h.9v.9h-.9zM183.8 188.2h.9v.9h-.9zM189.6 187.0h.9v.9h-.9zM179.6 184.2h.9v.9h-.9zM189.4 184.5h.9v.9h-.9zM187.4 186.3h.9v.9h-.9zM193.2 183.0h.9v.9h-.9zM180.4 187.4h.9v.9h-.9zM189.3 188.2h.9v.9h-.9zM195.7 185.2h.9v.9h-.9zM183.3 184.6h.9v.9h-.9zM187.1 188.7h.9v.9h-.9zM181.9 187.8h.9v.9h-.9zM182.7 184.0h.9v.9h-.9zM183.4 183.7h.9v.9h-.9zM188.6 186.4h.9v.9h-.9zM187.8 187.2h.9v.9h-.9zM200.4 185.9h.9v.9h-.9zM184.8 185.0h.9v.9h-.9zM190.4 184.6h.9v.9h-.9zM197.2 188.4h.9v.9h-.9zM201.7 186.8h.9v.9h-.9zM176.7 185.2h.9v.9h-.9zM194.6 183.4h.9v.9h-.9zM187.7 187.8h.9v.9h-.9zM191.7 182.6h.9v.9h-.9zM187.8 177.6h.9v.9h-.9zM191.0 182.4h.9v.9h-.9zM190.7 182.5h.9v.9h-.9zM186.0 184.2h.9v.9h-.9zM205.9 182.5h.9v.9h-.9zM184.6 184.1h.9v.9h-.9zM196.7 187.5h.9v.9h-.9zM194.7 184.7h.9v.9h-.9zM191.7 183.5h.9v.9h-.9zM190.0 183.4h.9v.9h-.9zM183.2 183.0h.9v.9h-.9zM201.3 186.5h.9v.9h-.9zM186.9 185.2h.9v.9h-.9zM188.5 188.6h.9v.9h-.9zM190.8 183.9h.9v.9h-.9zM194.6 186.3h.9v.9h-.9zM187.3 183.5h.9v.9h-.9zM191.7 181.3h.9v.9h-.9zM186.1 188.1h.9v.9h-.9zM195.6 188.3h.9v.9h-.9zM188.6 184.0h.9v.9h-.9zM189.5 184.3h.9v.9h-.9zM197.8 184.9h.9v.9h-.9zM198.2 183.7h.9v.9h-.9zM193.0 189.6h.9v.9h-.9zM187.0 183.8h.9v.9h-.9zM187.7 181.4h.9v.9h-.9zM189.4 183.9h.9v.9h-.9zM202.8 184.3h.9v.9h-.9zM179.5 187.9h.9v.9h-.9zM196.1 185.4h.9v.9h-.9zM192.5 187.3h.9v.9h-.9zM187.9 185.6h.9v.9h-.9zM191.7 189.7h.9v.9h-.9zM198.5 185.9h.9v.9h-.9zM183.8 187.7h.9v.9h-.9z" fill="#000" fill-opacity="0.65"/><path d="M177.6 189.4h.9v.9h-.9zM178.3 186.5h.9v.9h-.9zM182.4 183.8h.9v.9h-.9zM173.4 192.7h.9v.9h-.9zM172.0 188.7h.9v.9h-.9zM182.6 188.4h.9v.9h-.9zM187.3 182.1h.9v.9h-.9zM184.4 179.9h.9v.9h-.9zM178.3 187.0h.9v.9h-.9zM184.9 189.2h.9v.9h-.9zM171.6 185.2h.9v.9h-.9zM176.8 183.9h.9v.9h-.9zM172.3 184.0h.9v.9h-.9zM185.7 190.0h.9v.9h-.9zM183.0 190.9h.9v.9h-.9zM178.5 182.8h.9v.9h-.9zM173.5 186.6h.9v.9h-.9zM184.9 189.6h.9v.9h-.9zM171.8 188.8h.9v.9h-.9zM174.3 187.7h.9v.9h-.9zM184.2 190.3h.9v.9h-.9zM174.3 186.7h.9v.9h-.9zM180.8 184.8h.9v.9h-.9zM178.5 187.7h.9v.9h-.9zM166.7 184.1h.9v.9h-.9zM193.6 187.3h.9v.9h-.9zM174.1 180.6h.9v.9h-.9zM171.4 187.5h.9v.9h-.9zM182.5 187.3h.9v.9h-.9zM181.9 184.2h.9v.9h-.9zM188.8 182.7h.9v.9h-.9zM181.4 185.2h.9v.9h-.9zM166.3 188.6h.9v.9h-.9zM176.0 188.1h.9v.9h-.9zM186.6 186.5h.9v.9h-.9zM173.4 185.4h.9v.9h-.9zM177.4 190.2h.9v.9h-.9zM183.7 190.7h.9v.9h-.9zM183.1 183.7h.9v.9h-.9zM184.2 188.8h.9v.9h-.9zM177.1 187.4h.9v.9h-.9zM175.7 182.3h.9v.9h-.9zM177.3 188.2h.9v.9h-.9zM175.4 179.4h.9v.9h-.9zM172.5 189.2h.9v.9h-.9zM179.4 189.3h.9v.9h-.9zM172.8 184.8h.9v.9h-.9zM171.1 183.7h.9v.9h-.9zM181.4 186.4h.9v.9h-.9zM174.6 186.9h.9v.9h-.9z" fill="#000" fill-opacity="0.40"/><path d="M204.4 184.8h.9v.9h-.9zM202.8 181.6h.9v.9h-.9zM204.0 182.8h.9v.9h-.9zM229.7 190.0h.9v.9h-.9zM226.9 184.3h.9v.9h-.9zM221.3 182.7h.9v.9h-.9zM211.1 186.7h.9v.9h-.9zM201.9 186.6h.9v.9h-.9zM221.2 179.9h.9v.9h-.9zM194.5 185.2h.9v.9h-.9zM214.8 186.4h.9v.9h-.9zM206.0 187.7h.9v.9h-.9zM216.9 183.8h.9v.9h-.9zM230.2 186.8h.9v.9h-.9zM222.3 191.5h.9v.9h-.9zM211.5 185.3h.9v.9h-.9zM200.7 185.3h.9v.9h-.9zM219.7 193.4h.9v.9h-.9zM220.8 186.6h.9v.9h-.9zM204.8 183.5h.9v.9h-.9zM199.7 181.9h.9v.9h-.9zM216.8 186.9h.9v.9h-.9zM207.9 185.4h.9v.9h-.9zM208.8 187.8h.9v.9h-.9zM221.4 184.3h.9v.9h-.9zM211.9 182.4h.9v.9h-.9zM211.8 192.5h.9v.9h-.9zM215.7 188.5h.9v.9h-.9zM220.9 190.4h.9v.9h-.9zM213.0 183.3h.9v.9h-.9zM224.9 188.7h.9v.9h-.9zM210.1 189.2h.9v.9h-.9zM215.7 185.9h.9v.9h-.9zM232.0 187.6h.9v.9h-.9zM218.6 185.1h.9v.9h-.9zM217.6 189.1h.9v.9h-.9zM219.8 183.8h.9v.9h-.9zM219.8 185.6h.9v.9h-.9zM218.6 185.4h.9v.9h-.9zM196.7 181.2h.9v.9h-.9zM212.5 179.5h.9v.9h-.9zM202.7 192.0h.9v.9h-.9zM221.9 184.6h.9v.9h-.9zM218.7 179.4h.9v.9h-.9zM218.0 188.9h.9v.9h-.9z" fill="#000" fill-opacity="0.30"/><path d="M191.3 209.9h.9v.9h-.9zM194.7 214.1h.9v.9h-.9zM187.9 218.1h.9v.9h-.9zM192.4 210.2h.9v.9h-.9zM190.4 217.3h.9v.9h-.9zM196.7 224.0h.9v.9h-.9zM201.6 213.4h.9v.9h-.9zM186.5 218.9h.9v.9h-.9zM197.5 211.5h.9v.9h-.9zM188.9 212.9h.9v.9h-.9zM192.7 219.2h.9v.9h-.9zM190.3 220.6h.9v.9h-.9zM187.0 214.9h.9v.9h-.9zM190.3 217.3h.9v.9h-.9zM196.2 217.4h.9v.9h-.9zM196.1 218.3h.9v.9h-.9zM195.5 218.0h.9v.9h-.9zM186.4 212.3h.9v.9h-.9zM192.3 227.3h.9v.9h-.9zM198.6 215.3h.9v.9h-.9zM201.4 210.9h.9v.9h-.9zM186.7 222.1h.9v.9h-.9zM183.7 222.0h.9v.9h-.9zM192.1 220.4h.9v.9h-.9zM185.1 219.1h.9v.9h-.9zM194.6 216.7h.9v.9h-.9zM195.0 217.1h.9v.9h-.9zM191.9 215.3h.9v.9h-.9zM184.5 216.1h.9v.9h-.9zM192.6 212.9h.9v.9h-.9zM181.8 208.5h.9v.9h-.9zM196.2 215.8h.9v.9h-.9zM187.1 223.8h.9v.9h-.9zM189.7 208.8h.9v.9h-.9zM188.5 212.2h.9v.9h-.9zM189.6 212.0h.9v.9h-.9zM190.7 219.5h.9v.9h-.9zM187.9 215.9h.9v.9h-.9zM189.7 221.5h.9v.9h-.9zM187.3 221.1h.9v.9h-.9zM195.9 215.9h.9v.9h-.9zM186.2 215.3h.9v.9h-.9zM182.6 214.0h.9v.9h-.9zM185.2 216.1h.9v.9h-.9zM188.8 219.8h.9v.9h-.9zM190.9 219.3h.9v.9h-.9zM190.2 218.5h.9v.9h-.9zM185.4 220.6h.9v.9h-.9zM196.2 223.1h.9v.9h-.9zM184.5 219.3h.9v.9h-.9zM183.3 221.2h.9v.9h-.9zM189.5 214.5h.9v.9h-.9zM187.1 215.7h.9v.9h-.9zM190.4 211.7h.9v.9h-.9zM190.7 218.4h.9v.9h-.9zM192.8 216.8h.9v.9h-.9zM194.9 218.8h.9v.9h-.9zM184.3 220.4h.9v.9h-.9zM193.0 202.4h.9v.9h-.9zM189.7 219.1h.9v.9h-.9zM190.6 217.5h.9v.9h-.9zM189.8 224.6h.9v.9h-.9zM192.1 215.4h.9v.9h-.9zM186.6 214.1h.9v.9h-.9zM191.9 217.8h.9v.9h-.9zM191.8 224.5h.9v.9h-.9zM195.5 219.3h.9v.9h-.9zM190.6 216.7h.9v.9h-.9zM189.4 222.5h.9v.9h-.9zM184.8 211.3h.9v.9h-.9zM188.4 211.7h.9v.9h-.9zM187.2 223.6h.9v.9h-.9zM180.5 220.2h.9v.9h-.9zM184.6 215.7h.9v.9h-.9zM187.9 211.5h.9v.9h-.9zM183.9 217.4h.9v.9h-.9zM177.3 205.3h.9v.9h-.9zM188.7 223.0h.9v.9h-.9zM198.7 215.4h.9v.9h-.9zM186.9 215.4h.9v.9h-.9zM192.5 222.1h.9v.9h-.9zM186.2 219.6h.9v.9h-.9zM190.3 223.3h.9v.9h-.9zM188.6 215.9h.9v.9h-.9zM186.7 209.7h.9v.9h-.9zM191.6 220.9h.9v.9h-.9zM195.4 218.5h.9v.9h-.9zM188.4 212.0h.9v.9h-.9zM185.3 213.0h.9v.9h-.9zM191.9 217.5h.9v.9h-.9zM180.3 216.4h.9v.9h-.9zM189.2 211.3h.9v.9h-.9zM190.4 219.9h.9v.9h-.9zM185.9 209.6h.9v.9h-.9zM189.0 218.4h.9v.9h-.9zM189.3 225.5h.9v.9h-.9zM191.1 211.5h.9v.9h-.9zM193.9 213.4h.9v.9h-.9zM193.5 217.5h.9v.9h-.9zM195.9 211.5h.9v.9h-.9zM193.7 219.3h.9v.9h-.9zM186.4 220.9h.9v.9h-.9zM200.5 219.0h.9v.9h-.9zM187.0 216.2h.9v.9h-.9zM196.2 218.4h.9v.9h-.9zM197.0 213.4h.9v.9h-.9zM196.3 208.3h.9v.9h-.9zM189.7 215.4h.9v.9h-.9zM188.3 223.7h.9v.9h-.9zM187.8 218.9h.9v.9h-.9zM198.7 221.5h.9v.9h-.9zM188.6 213.0h.9v.9h-.9zM181.5 219.1h.9v.9h-.9zM194.4 223.1h.9v.9h-.9zM193.9 204.3h.9v.9h-.9zM186.5 221.4h.9v.9h-.9zM188.7 221.6h.9v.9h-.9zM201.9 212.8h.9v.9h-.9zM200.3 216.6h.9v.9h-.9zM183.9 217.5h.9v.9h-.9zM194.5 213.8h.9v.9h-.9zM197.5 212.2h.9v.9h-.9zM189.6 222.1h.9v.9h-.9zM189.5 213.9h.9v.9h-.9zM190.4 220.6h.9v.9h-.9zM198.2 224.5h.9v.9h-.9zM198.8 216.8h.9v.9h-.9zM183.1 216.8h.9v.9h-.9zM188.6 211.5h.9v.9h-.9zM188.2 216.6h.9v.9h-.9zM190.7 222.0h.9v.9h-.9zM186.4 223.3h.9v.9h-.9zM190.7 221.0h.9v.9h-.9zM196.0 210.2h.9v.9h-.9zM197.6 213.1h.9v.9h-.9zM192.3 223.0h.9v.9h-.9zM194.6 208.4h.9v.9h-.9zM191.2 223.3h.9v.9h-.9zM189.9 216.6h.9v.9h-.9zM190.8 226.0h.9v.9h-.9zM188.0 211.8h.9v.9h-.9zM185.5 214.1h.9v.9h-.9zM189.4 218.9h.9v.9h-.9zM190.1 207.5h.9v.9h-.9zM183.4 220.7h.9v.9h-.9zM193.7 209.5h.9v.9h-.9zM194.7 203.6h.9v.9h-.9zM200.9 220.3h.9v.9h-.9zM183.0 219.8h.9v.9h-.9zM190.3 214.5h.9v.9h-.9zM188.8 215.8h.9v.9h-.9zM190.0 212.0h.9v.9h-.9zM187.9 220.1h.9v.9h-.9zM192.9 209.7h.9v.9h-.9zM188.3 225.6h.9v.9h-.9zM193.7 226.1h.9v.9h-.9zM184.4 211.3h.9v.9h-.9zM180.7 206.3h.9v.9h-.9zM188.8 211.2h.9v.9h-.9zM185.6 213.2h.9v.9h-.9zM189.7 221.6h.9v.9h-.9zM193.0 207.3h.9v.9h-.9zM197.2 215.2h.9v.9h-.9zM186.0 216.8h.9v.9h-.9zM188.7 209.4h.9v.9h-.9zM197.5 213.8h.9v.9h-.9zM187.8 220.0h.9v.9h-.9zM198.0 219.7h.9v.9h-.9zM186.4 219.4h.9v.9h-.9zM195.5 219.1h.9v.9h-.9zM193.4 214.4h.9v.9h-.9zM190.2 207.7h.9v.9h-.9zM187.3 210.7h.9v.9h-.9zM190.5 225.2h.9v.9h-.9zM180.4 209.7h.9v.9h-.9zM186.3 216.5h.9v.9h-.9zM195.7 212.7h.9v.9h-.9zM187.0 223.7h.9v.9h-.9zM192.2 219.9h.9v.9h-.9zM194.2 212.9h.9v.9h-.9zM191.5 213.4h.9v.9h-.9zM187.2 217.7h.9v.9h-.9zM192.5 210.0h.9v.9h-.9zM187.0 220.4h.9v.9h-.9zM191.2 220.7h.9v.9h-.9zM189.1 212.6h.9v.9h-.9zM194.0 220.3h.9v.9h-.9zM177.7 221.8h.9v.9h-.9zM187.1 220.7h.9v.9h-.9zM197.6 215.5h.9v.9h-.9zM186.1 218.4h.9v.9h-.9zM190.9 220.1h.9v.9h-.9zM184.2 218.4h.9v.9h-.9zM194.5 220.9h.9v.9h-.9zM193.3 223.6h.9v.9h-.9zM186.8 223.7h.9v.9h-.9zM191.4 211.5h.9v.9h-.9zM189.2 218.5h.9v.9h-.9zM192.0 224.4h.9v.9h-.9zM191.4 214.2h.9v.9h-.9zM200.4 215.2h.9v.9h-.9zM186.8 222.1h.9v.9h-.9zM188.6 212.7h.9v.9h-.9zM185.7 223.5h.9v.9h-.9zM185.7 217.6h.9v.9h-.9zM188.4 215.9h.9v.9h-.9zM186.8 217.8h.9v.9h-.9zM193.2 222.8h.9v.9h-.9zM188.9 210.6h.9v.9h-.9zM183.8 217.1h.9v.9h-.9zM179.3 224.4h.9v.9h-.9zM190.6 217.7h.9v.9h-.9zM184.2 213.5h.9v.9h-.9zM187.1 220.7h.9v.9h-.9zM188.7 220.4h.9v.9h-.9zM192.8 206.4h.9v.9h-.9zM189.4 224.0h.9v.9h-.9zM188.2 217.7h.9v.9h-.9zM189.9 210.3h.9v.9h-.9zM200.4 216.3h.9v.9h-.9zM193.4 214.6h.9v.9h-.9zM196.8 223.4h.9v.9h-.9zM195.8 222.3h.9v.9h-.9zM193.7 224.7h.9v.9h-.9zM192.3 217.8h.9v.9h-.9zM194.2 212.1h.9v.9h-.9zM179.0 221.5h.9v.9h-.9zM191.2 213.2h.9v.9h-.9zM189.3 211.8h.9v.9h-.9zM186.7 218.1h.9v.9h-.9zM191.0 221.6h.9v.9h-.9zM190.1 220.5h.9v.9h-.9zM193.6 213.2h.9v.9h-.9zM182.9 213.3h.9v.9h-.9zM189.4 214.1h.9v.9h-.9zM200.5 213.3h.9v.9h-.9zM192.6 212.8h.9v.9h-.9zM193.6 210.1h.9v.9h-.9zM194.8 218.0h.9v.9h-.9zM188.7 210.5h.9v.9h-.9zM198.0 213.9h.9v.9h-.9zM197.0 203.8h.9v.9h-.9zM185.1 227.0h.9v.9h-.9zM198.6 217.2h.9v.9h-.9zM195.0 220.4h.9v.9h-.9zM188.9 217.8h.9v.9h-.9zM185.3 209.7h.9v.9h-.9zM191.1 221.1h.9v.9h-.9zM191.2 210.3h.9v.9h-.9zM194.3 217.5h.9v.9h-.9zM193.9 215.5h.9v.9h-.9zM189.3 222.8h.9v.9h-.9zM196.7 210.4h.9v.9h-.9zM185.5 222.4h.9v.9h-.9zM192.1 217.3h.9v.9h-.9zM186.1 222.6h.9v.9h-.9zM191.3 218.3h.9v.9h-.9zM192.2 214.2h.9v.9h-.9zM192.3 217.8h.9v.9h-.9zM193.7 219.2h.9v.9h-.9zM184.7 213.2h.9v.9h-.9zM189.3 223.5h.9v.9h-.9zM187.6 223.3h.9v.9h-.9zM195.4 221.9h.9v.9h-.9zM200.7 217.0h.9v.9h-.9zM191.9 223.8h.9v.9h-.9zM192.3 222.5h.9v.9h-.9zM189.9 224.8h.9v.9h-.9zM192.1 206.6h.9v.9h-.9zM195.4 216.0h.9v.9h-.9zM186.5 215.4h.9v.9h-.9zM189.2 223.4h.9v.9h-.9zM192.0 216.7h.9v.9h-.9zM190.4 212.1h.9v.9h-.9zM187.6 214.5h.9v.9h-.9zM189.5 210.7h.9v.9h-.9zM188.7 222.6h.9v.9h-.9zM192.5 217.1h.9v.9h-.9zM192.1 215.8h.9v.9h-.9zM185.1 221.9h.9v.9h-.9zM200.6 219.9h.9v.9h-.9zM185.0 220.0h.9v.9h-.9zM189.0 215.6h.9v.9h-.9zM183.0 216.6h.9v.9h-.9zM192.3 208.3h.9v.9h-.9zM189.5 214.4h.9v.9h-.9zM186.0 220.5h.9v.9h-.9zM197.9 219.4h.9v.9h-.9zM195.1 221.2h.9v.9h-.9zM190.2 220.3h.9v.9h-.9zM196.5 214.8h.9v.9h-.9zM189.8 209.5h.9v.9h-.9zM182.1 212.6h.9v.9h-.9zM194.5 219.1h.9v.9h-.9zM191.7 224.3h.9v.9h-.9zM182.5 224.6h.9v.9h-.9zM190.9 221.3h.9v.9h-.9zM196.7 212.6h.9v.9h-.9zM186.6 219.3h.9v.9h-.9zM190.2 213.9h.9v.9h-.9zM189.9 213.1h.9v.9h-.9zM191.1 215.0h.9v.9h-.9zM198.2 211.4h.9v.9h-.9zM193.1 217.5h.9v.9h-.9zM197.6 211.8h.9v.9h-.9zM188.4 226.5h.9v.9h-.9zM187.5 215.0h.9v.9h-.9zM188.7 211.7h.9v.9h-.9zM196.0 225.4h.9v.9h-.9zM189.8 213.0h.9v.9h-.9zM184.4 220.7h.9v.9h-.9zM188.1 220.1h.9v.9h-.9zM179.6 214.8h.9v.9h-.9zM193.3 219.4h.9v.9h-.9zM177.6 218.7h.9v.9h-.9zM191.1 217.0h.9v.9h-.9zM189.0 214.7h.9v.9h-.9zM191.1 219.9h.9v.9h-.9zM176.2 217.0h.9v.9h-.9zM194.7 215.9h.9v.9h-.9zM196.0 212.0h.9v.9h-.9zM199.1 222.3h.9v.9h-.9zM197.0 225.7h.9v.9h-.9zM185.1 216.5h.9v.9h-.9zM192.6 222.8h.9v.9h-.9zM190.8 210.0h.9v.9h-.9zM196.0 216.2h.9v.9h-.9zM192.5 215.3h.9v.9h-.9zM190.0 209.6h.9v.9h-.9zM193.5 213.7h.9v.9h-.9zM182.5 219.3h.9v.9h-.9zM190.3 222.3h.9v.9h-.9zM194.2 210.5h.9v.9h-.9zM189.7 217.1h.9v.9h-.9zM190.9 211.3h.9v.9h-.9zM190.8 222.4h.9v.9h-.9zM196.1 225.0h.9v.9h-.9zM193.9 203.3h.9v.9h-.9zM189.3 214.1h.9v.9h-.9zM177.4 225.5h.9v.9h-.9zM194.6 217.0h.9v.9h-.9zM192.1 219.7h.9v.9h-.9zM189.5 224.5h.9v.9h-.9zM198.7 221.5h.9v.9h-.9zM188.0 218.4h.9v.9h-.9zM194.9 221.0h.9v.9h-.9zM187.4 222.3h.9v.9h-.9zM193.8 220.2h.9v.9h-.9zM188.6 216.9h.9v.9h-.9zM181.9 216.9h.9v.9h-.9zM188.5 215.5h.9v.9h-.9zM189.2 215.3h.9v.9h-.9zM190.9 217.6h.9v.9h-.9zM187.7 216.3h.9v.9h-.9zM190.1 219.7h.9v.9h-.9zM192.5 215.1h.9v.9h-.9zM186.8 208.1h.9v.9h-.9zM184.9 219.3h.9v.9h-.9zM186.3 225.8h.9v.9h-.9zM189.8 215.0h.9v.9h-.9zM189.8 214.1h.9v.9h-.9zM187.7 217.4h.9v.9h-.9zM184.0 217.8h.9v.9h-.9zM190.1 212.1h.9v.9h-.9zM195.1 219.0h.9v.9h-.9zM195.4 213.4h.9v.9h-.9zM184.9 210.6h.9v.9h-.9zM183.4 206.8h.9v.9h-.9zM197.6 214.5h.9v.9h-.9zM191.4 214.2h.9v.9h-.9zM189.8 225.6h.9v.9h-.9zM182.7 211.7h.9v.9h-.9zM191.1 212.1h.9v.9h-.9zM193.6 224.1h.9v.9h-.9zM194.5 221.1h.9v.9h-.9zM189.8 222.5h.9v.9h-.9zM186.9 210.6h.9v.9h-.9zM189.3 215.7h.9v.9h-.9zM196.0 211.7h.9v.9h-.9zM195.7 212.8h.9v.9h-.9zM184.8 207.8h.9v.9h-.9zM190.3 209.2h.9v.9h-.9zM191.5 217.3h.9v.9h-.9zM188.7 206.6h.9v.9h-.9zM188.2 219.5h.9v.9h-.9zM182.4 220.8h.9v.9h-.9zM190.6 214.1h.9v.9h-.9zM191.4 220.6h.9v.9h-.9zM190.4 212.8h.9v.9h-.9zM194.0 213.4h.9v.9h-.9zM192.1 222.3h.9v.9h-.9zM196.4 225.7h.9v.9h-.9zM195.1 217.8h.9v.9h-.9zM189.6 218.1h.9v.9h-.9zM193.5 212.5h.9v.9h-.9zM197.4 208.4h.9v.9h-.9zM195.0 210.1h.9v.9h-.9zM185.6 214.3h.9v.9h-.9zM189.2 209.7h.9v.9h-.9zM193.3 216.4h.9v.9h-.9zM196.6 211.5h.9v.9h-.9zM182.3 220.8h.9v.9h-.9zM189.5 222.3h.9v.9h-.9zM179.9 210.2h.9v.9h-.9zM184.9 206.7h.9v.9h-.9zM188.4 224.7h.9v.9h-.9zM197.6 209.6h.9v.9h-.9zM187.8 207.0h.9v.9h-.9zM186.7 211.8h.9v.9h-.9zM192.4 223.2h.9v.9h-.9zM201.3 215.1h.9v.9h-.9zM194.2 218.2h.9v.9h-.9zM193.7 225.5h.9v.9h-.9zM191.9 221.7h.9v.9h-.9zM192.8 216.5h.9v.9h-.9zM187.4 214.8h.9v.9h-.9zM190.6 215.0h.9v.9h-.9zM189.0 213.2h.9v.9h-.9zM194.4 215.7h.9v.9h-.9zM190.0 215.8h.9v.9h-.9zM196.4 214.1h.9v.9h-.9zM196.9 212.3h.9v.9h-.9zM197.4 220.4h.9v.9h-.9zM188.3 219.5h.9v.9h-.9zM195.6 211.8h.9v.9h-.9zM189.5 218.7h.9v.9h-.9zM189.6 215.4h.9v.9h-.9zM190.6 218.7h.9v.9h-.9zM194.0 225.1h.9v.9h-.9zM189.0 226.7h.9v.9h-.9zM189.9 209.1h.9v.9h-.9zM188.5 215.2h.9v.9h-.9zM195.3 206.0h.9v.9h-.9zM187.7 216.3h.9v.9h-.9zM193.5 219.2h.9v.9h-.9zM194.4 216.2h.9v.9h-.9zM189.5 223.6h.9v.9h-.9zM198.3 219.1h.9v.9h-.9zM191.2 212.4h.9v.9h-.9zM200.0 219.2h.9v.9h-.9zM193.3 208.3h.9v.9h-.9zM189.8 215.9h.9v.9h-.9zM197.4 216.0h.9v.9h-.9zM185.3 212.5h.9v.9h-.9zM193.6 217.7h.9v.9h-.9zM190.7 216.1h.9v.9h-.9zM191.1 219.0h.9v.9h-.9zM188.4 215.5h.9v.9h-.9zM191.6 211.1h.9v.9h-.9zM192.5 205.1h.9v.9h-.9zM193.4 216.4h.9v.9h-.9zM185.2 224.4h.9v.9h-.9zM187.2 223.6h.9v.9h-.9zM190.2 225.8h.9v.9h-.9zM189.5 222.6h.9v.9h-.9zM189.1 206.8h.9v.9h-.9zM192.3 219.6h.9v.9h-.9zM192.3 226.1h.9v.9h-.9zM187.2 209.2h.9v.9h-.9zM191.7 213.2h.9v.9h-.9zM190.1 217.0h.9v.9h-.9zM186.8 223.0h.9v.9h-.9zM190.0 226.8h.9v.9h-.9zM191.6 222.8h.9v.9h-.9zM189.2 213.4h.9v.9h-.9zM188.2 212.2h.9v.9h-.9zM192.5 217.8h.9v.9h-.9zM185.7 208.6h.9v.9h-.9zM186.7 207.1h.9v.9h-.9zM186.6 208.8h.9v.9h-.9zM193.7 210.7h.9v.9h-.9zM187.9 216.4h.9v.9h-.9zM190.7 219.3h.9v.9h-.9zM193.9 220.5h.9v.9h-.9zM189.0 223.8h.9v.9h-.9zM192.2 213.2h.9v.9h-.9zM197.2 210.6h.9v.9h-.9zM192.6 223.9h.9v.9h-.9zM191.0 218.9h.9v.9h-.9zM191.1 220.7h.9v.9h-.9zM191.5 217.1h.9v.9h-.9zM193.7 206.7h.9v.9h-.9zM191.7 215.4h.9v.9h-.9zM199.3 218.6h.9v.9h-.9zM187.6 220.6h.9v.9h-.9zM188.8 210.6h.9v.9h-.9zM189.3 219.8h.9v.9h-.9zM195.8 222.7h.9v.9h-.9zM191.5 216.1h.9v.9h-.9zM191.4 223.6h.9v.9h-.9zM190.0 223.3h.9v.9h-.9zM187.0 217.0h.9v.9h-.9zM194.0 220.8h.9v.9h-.9zM191.4 214.2h.9v.9h-.9zM182.5 214.6h.9v.9h-.9zM186.7 214.8h.9v.9h-.9zM197.6 212.8h.9v.9h-.9zM194.3 216.9h.9v.9h-.9zM185.6 217.6h.9v.9h-.9zM193.9 210.6h.9v.9h-.9zM185.4 214.9h.9v.9h-.9zM193.8 213.7h.9v.9h-.9zM192.4 219.5h.9v.9h-.9zM190.6 219.5h.9v.9h-.9zM196.2 216.0h.9v.9h-.9zM192.0 211.2h.9v.9h-.9zM187.3 216.5h.9v.9h-.9zM194.1 213.4h.9v.9h-.9zM184.3 222.1h.9v.9h-.9zM201.1 203.0h.9v.9h-.9zM185.8 217.7h.9v.9h-.9zM192.7 211.9h.9v.9h-.9zM192.0 223.0h.9v.9h-.9zM189.3 221.0h.9v.9h-.9zM191.1 212.0h.9v.9h-.9zM187.8 213.7h.9v.9h-.9zM196.4 223.3h.9v.9h-.9zM191.6 208.5h.9v.9h-.9zM188.4 214.8h.9v.9h-.9zM182.0 216.9h.9v.9h-.9zM191.8 209.8h.9v.9h-.9zM188.6 214.5h.9v.9h-.9zM198.7 220.6h.9v.9h-.9zM193.9 217.5h.9v.9h-.9zM184.9 222.0h.9v.9h-.9zM187.5 206.6h.9v.9h-.9zM193.7 215.1h.9v.9h-.9zM190.5 219.8h.9v.9h-.9zM189.5 219.2h.9v.9h-.9zM196.2 215.3h.9v.9h-.9zM189.0 217.1h.9v.9h-.9zM193.4 214.8h.9v.9h-.9zM190.9 213.3h.9v.9h-.9zM190.2 220.0h.9v.9h-.9zM186.9 216.0h.9v.9h-.9zM184.1 213.2h.9v.9h-.9zM190.9 219.9h.9v.9h-.9zM186.0 216.5h.9v.9h-.9zM186.4 218.7h.9v.9h-.9zM191.7 219.4h.9v.9h-.9zM189.6 209.3h.9v.9h-.9zM188.1 209.7h.9v.9h-.9zM187.5 216.7h.9v.9h-.9zM195.3 213.5h.9v.9h-.9z" fill="#000" fill-opacity="0.60"/><path d="M214.5 217.3h.9v.9h-.9zM209.8 225.3h.9v.9h-.9zM232.7 210.9h.9v.9h-.9zM222.1 216.0h.9v.9h-.9zM220.6 218.4h.9v.9h-.9zM212.7 211.9h.9v.9h-.9zM223.2 207.8h.9v.9h-.9zM224.7 204.3h.9v.9h-.9zM220.7 205.9h.9v.9h-.9zM226.2 222.5h.9v.9h-.9zM207.7 212.3h.9v.9h-.9zM205.7 219.9h.9v.9h-.9zM234.6 200.8h.9v.9h-.9zM229.0 205.9h.9v.9h-.9zM220.9 224.8h.9v.9h-.9zM225.7 197.5h.9v.9h-.9zM213.3 219.4h.9v.9h-.9zM226.3 207.3h.9v.9h-.9zM225.4 212.7h.9v.9h-.9zM220.7 218.6h.9v.9h-.9zM215.4 220.2h.9v.9h-.9zM229.9 207.8h.9v.9h-.9zM217.8 213.8h.9v.9h-.9zM201.5 225.6h.9v.9h-.9zM202.4 210.6h.9v.9h-.9zM225.4 203.5h.9v.9h-.9zM224.4 210.2h.9v.9h-.9zM202.4 217.7h.9v.9h-.9zM219.9 215.7h.9v.9h-.9zM218.1 205.8h.9v.9h-.9zM216.5 215.4h.9v.9h-.9zM208.2 217.1h.9v.9h-.9zM210.0 205.2h.9v.9h-.9zM239.2 206.4h.9v.9h-.9zM219.5 219.0h.9v.9h-.9zM215.9 224.9h.9v.9h-.9zM218.0 214.7h.9v.9h-.9zM216.0 215.6h.9v.9h-.9zM224.1 210.3h.9v.9h-.9zM215.6 220.1h.9v.9h-.9zM226.1 208.9h.9v.9h-.9zM228.5 202.7h.9v.9h-.9zM232.2 204.1h.9v.9h-.9zM233.5 201.5h.9v.9h-.9zM219.3 214.4h.9v.9h-.9zM235.0 212.5h.9v.9h-.9zM214.8 211.2h.9v.9h-.9zM231.5 213.5h.9v.9h-.9zM226.5 206.6h.9v.9h-.9zM232.5 204.8h.9v.9h-.9zM224.3 213.9h.9v.9h-.9zM209.5 204.7h.9v.9h-.9zM225.0 214.1h.9v.9h-.9zM226.5 212.1h.9v.9h-.9zM225.4 215.9h.9v.9h-.9zM226.3 218.2h.9v.9h-.9zM223.7 215.4h.9v.9h-.9zM216.9 216.5h.9v.9h-.9zM225.3 210.3h.9v.9h-.9zM235.2 203.6h.9v.9h-.9zM232.2 207.4h.9v.9h-.9zM228.4 201.8h.9v.9h-.9zM220.4 218.5h.9v.9h-.9zM214.7 218.4h.9v.9h-.9zM226.7 209.7h.9v.9h-.9zM226.5 212.1h.9v.9h-.9zM220.0 215.2h.9v.9h-.9zM215.0 212.8h.9v.9h-.9zM206.3 220.3h.9v.9h-.9zM205.7 221.6h.9v.9h-.9zM219.8 205.8h.9v.9h-.9zM222.5 212.9h.9v.9h-.9zM215.3 209.7h.9v.9h-.9zM221.2 214.5h.9v.9h-.9zM234.9 215.8h.9v.9h-.9zM204.1 224.6h.9v.9h-.9zM223.2 206.6h.9v.9h-.9zM229.9 219.9h.9v.9h-.9zM225.9 217.7h.9v.9h-.9zM229.4 204.0h.9v.9h-.9zM230.0 195.3h.9v.9h-.9zM217.2 209.9h.9v.9h-.9zM223.0 211.1h.9v.9h-.9zM229.7 202.9h.9v.9h-.9zM233.7 193.4h.9v.9h-.9zM230.6 223.2h.9v.9h-.9zM221.9 215.5h.9v.9h-.9zM228.1 205.4h.9v.9h-.9zM204.2 223.6h.9v.9h-.9zM221.9 198.5h.9v.9h-.9zM218.2 217.3h.9v.9h-.9zM198.7 224.5h.9v.9h-.9zM202.8 214.6h.9v.9h-.9zM227.9 215.0h.9v.9h-.9zM229.7 202.5h.9v.9h-.9zM220.6 201.0h.9v.9h-.9zM209.1 222.8h.9v.9h-.9zM214.5 209.5h.9v.9h-.9zM203.4 221.3h.9v.9h-.9zM235.6 190.2h.9v.9h-.9zM214.7 223.0h.9v.9h-.9zM201.8 219.8h.9v.9h-.9zM224.9 216.9h.9v.9h-.9zM225.5 220.9h.9v.9h-.9zM220.4 211.6h.9v.9h-.9zM226.0 211.2h.9v.9h-.9zM204.7 216.0h.9v.9h-.9zM219.8 214.9h.9v.9h-.9zM207.8 215.5h.9v.9h-.9zM215.2 217.7h.9v.9h-.9zM218.8 217.2h.9v.9h-.9zM221.9 205.6h.9v.9h-.9zM214.8 207.9h.9v.9h-.9zM224.3 215.2h.9v.9h-.9zM207.0 209.3h.9v.9h-.9zM224.9 207.8h.9v.9h-.9zM222.1 214.3h.9v.9h-.9zM227.1 214.2h.9v.9h-.9zM210.6 204.3h.9v.9h-.9zM215.7 213.3h.9v.9h-.9zM218.4 216.1h.9v.9h-.9zM222.4 219.4h.9v.9h-.9zM215.2 215.5h.9v.9h-.9zM223.8 223.8h.9v.9h-.9zM209.5 212.7h.9v.9h-.9zM219.7 217.7h.9v.9h-.9zM220.6 211.1h.9v.9h-.9zM201.8 210.5h.9v.9h-.9zM218.4 212.1h.9v.9h-.9zM238.1 203.9h.9v.9h-.9zM227.7 214.1h.9v.9h-.9zM209.3 211.3h.9v.9h-.9zM221.9 221.0h.9v.9h-.9zM228.4 203.7h.9v.9h-.9zM212.3 223.3h.9v.9h-.9zM227.9 200.8h.9v.9h-.9zM233.5 199.4h.9v.9h-.9zM227.3 206.8h.9v.9h-.9zM216.3 211.0h.9v.9h-.9zM229.1 211.0h.9v.9h-.9zM227.6 206.2h.9v.9h-.9zM219.4 226.7h.9v.9h-.9zM236.1 201.5h.9v.9h-.9zM214.8 225.4h.9v.9h-.9zM222.4 211.5h.9v.9h-.9zM229.8 208.8h.9v.9h-.9zM227.7 220.6h.9v.9h-.9zM205.6 225.6h.9v.9h-.9zM212.2 217.9h.9v.9h-.9zM220.2 214.2h.9v.9h-.9zM241.2 197.0h.9v.9h-.9zM231.1 209.8h.9v.9h-.9zM222.3 208.0h.9v.9h-.9zM227.6 209.7h.9v.9h-.9zM236.7 207.7h.9v.9h-.9zM206.1 202.4h.9v.9h-.9zM236.3 205.8h.9v.9h-.9zM220.9 208.2h.9v.9h-.9zM247.9 204.1h.9v.9h-.9zM220.8 209.7h.9v.9h-.9zM230.2 215.1h.9v.9h-.9zM228.5 213.5h.9v.9h-.9zM224.4 212.2h.9v.9h-.9zM209.7 219.7h.9v.9h-.9zM221.3 211.4h.9v.9h-.9zM219.7 214.8h.9v.9h-.9zM215.1 214.4h.9v.9h-.9zM209.3 211.4h.9v.9h-.9zM214.9 213.1h.9v.9h-.9zM204.1 206.7h.9v.9h-.9zM239.1 207.5h.9v.9h-.9zM219.1 216.8h.9v.9h-.9zM206.1 210.7h.9v.9h-.9zM225.7 212.8h.9v.9h-.9zM214.6 215.9h.9v.9h-.9z" fill="#000" fill-opacity="0.45"/></g><rect x="161.5" y="151.5" width="89.0" height="77.0" fill="none" stroke="#6a6a6a" stroke-width="1"/><line x1="200.5" y1="151.5" x2="200.5" y2="228.5" stroke="#444" stroke-width="1"/><line x1="161.5" y1="197.5" x2="250.5" y2="197.5" stroke="#444" stroke-width="1"/><path d="M161.5 228.5v2.0M161.5 228.5h-2.0M168.2 228.5v1.2M161.5 222.7h-1.2M172.1 228.5v1.2M161.5 219.3h-1.2M174.9 228.5v1.2M161.5 216.9h-1.2M177.1 228.5v1.2M161.5 215.0h-1.2M178.8 228.5v1.2M161.5 213.5h-1.2M180.3 228.5v1.2M161.5 212.2h-1.2M181.6 228.5v1.2M161.5 211.1h-1.2M182.7 228.5v1.2M161.5 210.1h-1.2M183.8 228.5v2.0M161.5 209.2h-2.0M190.4 228.5v1.2M161.5 203.5h-1.2M194.4 228.5v1.2M161.5 200.1h-1.2M197.1 228.5v1.2M161.5 197.7h-1.2M199.3 228.5v1.2M161.5 195.8h-1.2M201.1 228.5v1.2M161.5 194.3h-1.2M202.6 228.5v1.2M161.5 193.0h-1.2M203.8 228.5v1.2M161.5 191.9h-1.2M205.0 228.5v1.2M161.5 190.9h-1.2M206.0 228.5v2.0M161.5 190.0h-2.0M212.7 228.5v1.2M161.5 184.2h-1.2M216.6 228.5v1.2M161.5 180.8h-1.2M219.4 228.5v1.2M161.5 178.4h-1.2M221.6 228.5v1.2M161.5 176.5h-1.2M223.3 228.5v1.2M161.5 175.0h-1.2M224.8 228.5v1.2M161.5 173.7h-1.2M226.1 228.5v1.2M161.5 172.6h-1.2M227.2 228.5v1.2M161.5 171.6h-1.2M228.2 228.5v2.0M161.5 170.8h-2.0M234.9 228.5v1.2M161.5 165.0h-1.2M238.9 228.5v1.2M161.5 161.6h-1.2M241.6 228.5v1.2M161.5 159.2h-1.2M243.8 228.5v1.2M161.5 157.3h-1.2M245.6 228.5v1.2M161.5 155.8h-1.2M247.1 228.5v1.2M161.5 154.5h-1.2M248.3 228.5v1.2M161.5 153.4h-1.2M249.5 228.5v1.2M161.5 152.4h-1.2" stroke="#444" stroke-width="0.7" fill="none"/><g transform="translate(159.1 237.1)"><text x="0" y="0" class="tl" textLength="7.0" lengthAdjust="spacingAndGlyphs">10</text><text x="8.1" y="-3.3" class="sup">0</text></g><g transform="translate(159.7 232.9) rotate(-90)"><text x="0" y="0" class="tl" textLength="7.0" lengthAdjust="spacingAndGlyphs">10</text><text x="8.1" y="-3.3" class="sup">0</text></g><g transform="translate(181.3 237.1)"><text x="0" y="0" class="tl" textLength="7.0" lengthAdjust="spacingAndGlyphs">10</text><text x="8.1" y="-3.3" class="sup">1</text></g><g transform="translate(159.7 213.7) rotate(-90)"><text x="0" y="0" class="tl" textLength="7.0" lengthAdjust="spacingAndGlyphs">10</text><text x="8.1" y="-3.3" class="sup">1</text></g><g transform="translate(203.6 237.1)"><text x="0" y="0" class="tl" textLength="7.0" lengthAdjust="spacingAndGlyphs">10</text><text x="8.1" y="-3.3" class="sup">2</text></g><g transform="translate(159.7 194.4) rotate(-90)"><text x="0" y="0" class="tl" textLength="7.0" lengthAdjust="spacingAndGlyphs">10</text><text x="8.1" y="-3.3" class="sup">2</text></g><g transform="translate(225.8 237.1)"><text x="0" y="0" class="tl" textLength="7.0" lengthAdjust="spacingAndGlyphs">10</text><text x="8.1" y="-3.3" class="sup">3</text></g><g transform="translate(159.7 175.2) rotate(-90)"><text x="0" y="0" class="tl" textLength="7.0" lengthAdjust="spacingAndGlyphs">10</text><text x="8.1" y="-3.3" class="sup">3</text></g><g transform="translate(248.1 237.1)"><text x="0" y="0" class="tl" textLength="7.0" lengthAdjust="spacingAndGlyphs">10</text><text x="8.1" y="-3.3" class="sup">4</text></g><g transform="translate(159.7 155.9) rotate(-90)"><text x="0" y="0" class="tl" textLength="7.0" lengthAdjust="spacingAndGlyphs">10</text><text x="8.1" y="-3.3" class="sup">4</text></g><rect x="23.8" y="40" width="2.4" height="199.5" fill="#000"/><path d="M20 42.5 L25 31.5 L30 42.5 Z" fill="#000"/><rect x="38.5" y="126.8" width="212" height="2.4" fill="#000"/><path d="M248 122.5 L259 128 L248 133.5 Z" fill="#000"/><rect x="36" y="247.3" width="212" height="2.4" fill="#000"/><path d="M245.5 243.5 L256.5 248.5 L245.5 254 Z" fill="#000"/><text transform="translate(10 152) rotate(-90)" class="ax" style="font-size:14.5px">CD3</text><text x="135.3" y="141.9" class="ax">CD85j</text><text x="138.8" y="266.3" class="ax">KIRs</text><rect x="319.5" y="32.5" width="200.0" height="140.0" fill="none" stroke="#777" stroke-width="1"/><line x1="317.5" y1="172.5" x2="319.5" y2="172.5" stroke="#777"/><text x="316" y="175.2" class="yl" text-anchor="end">0</text><line x1="317.5" y1="144.5" x2="319.5" y2="144.5" stroke="#777"/><text x="316" y="147.2" class="yl" text-anchor="end">20</text><line x1="317.5" y1="116.5" x2="319.5" y2="116.5" stroke="#777"/><text x="316" y="119.2" class="yl" text-anchor="end">40</text><line x1="317.5" y1="88.5" x2="319.5" y2="88.5" stroke="#777"/><text x="316" y="91.2" class="yl" text-anchor="end">60</text><line x1="317.5" y1="60.5" x2="319.5" y2="60.5" stroke="#777"/><text x="316" y="63.2" class="yl" text-anchor="end">80</text><line x1="317.5" y1="32.5" x2="319.5" y2="32.5" stroke="#777"/><text x="316" y="35.2" class="yl" text-anchor="end">100</text><text transform="translate(298 144.5) rotate(-90)" class="yt">% stained cells</text><line x1="370.6" y1="46.5" x2="370.6" y2="40.5" stroke="#666" stroke-width="1"/><line x1="368.5" y1="40.5" x2="372.8" y2="40.5" stroke="#444" stroke-width="1"/><rect x="365.95" y="46.95" width="9.40" height="125.55" fill="#000" stroke="#000" stroke-width="0.9"/><line x1="380.7" y1="104.9" x2="380.7" y2="93.3" stroke="#666" stroke-width="1"/><line x1="378.6" y1="93.3" x2="382.8" y2="93.3" stroke="#444" stroke-width="1"/><rect x="376.25" y="105.33" width="8.90" height="67.17" fill="#c4c4c4" stroke="#8a8a8a" stroke-width="0.9"/><line x1="390.9" y1="70.3" x2="390.9" y2="55.2" stroke="#666" stroke-width="1"/><line x1="388.8" y1="55.2" x2="393.0" y2="55.2" stroke="#444" stroke-width="1"/><rect x="386.05" y="70.75" width="9.70" height="101.75" fill="#606060" stroke="#3a3a3a" stroke-width="0.9"/><line x1="401.2" y1="132.9" x2="401.2" y2="130.4" stroke="#666" stroke-width="1"/><line x1="399.1" y1="130.4" x2="403.3" y2="130.4" stroke="#444" stroke-width="1"/><rect x="396.65" y="133.33" width="9.10" height="39.17" fill="#fff" stroke="#555" stroke-width="0.9"/><line x1="437.4" y1="61.3" x2="437.4" y2="53.5" stroke="#666" stroke-width="1"/><line x1="435.3" y1="53.5" x2="439.6" y2="53.5" stroke="#444" stroke-width="1"/><rect x="432.85" y="61.79" width="9.20" height="110.71" fill="#000" stroke="#000" stroke-width="0.9"/><line x1="447.4" y1="129.8" x2="447.4" y2="119.2" stroke="#666" stroke-width="1"/><line x1="445.3" y1="119.2" x2="449.5" y2="119.2" stroke="#444" stroke-width="1"/><rect x="442.95" y="130.25" width="8.90" height="42.25" fill="#c4c4c4" stroke="#8a8a8a" stroke-width="0.9"/><line x1="457.5" y1="64.0" x2="457.5" y2="44.8" stroke="#666" stroke-width="1"/><line x1="455.4" y1="44.8" x2="459.6" y2="44.8" stroke="#444" stroke-width="1"/><rect x="452.75" y="64.45" width="9.40" height="108.05" fill="#606060" stroke="#3a3a3a" stroke-width="0.9"/><line x1="467.7" y1="136.5" x2="467.7" y2="130.9" stroke="#666" stroke-width="1"/><line x1="465.6" y1="130.9" x2="469.8" y2="130.9" stroke="#444" stroke-width="1"/><rect x="463.05" y="136.97" width="9.30" height="35.53" fill="#fff" stroke="#555" stroke-width="0.9"/><polygon points="367.70,34.00 368.46,36.05 370.65,36.14 368.94,37.50 369.52,39.61 367.70,38.40 365.88,39.61 366.46,37.50 364.75,36.14 366.94,36.05" fill="#111"/><polygon points="374.20,34.00 374.96,36.05 377.15,36.14 375.44,37.50 376.02,39.61 374.20,38.40 372.38,39.61 372.96,37.50 371.25,36.14 373.44,36.05" fill="#111"/><polygon points="392.00,47.00 392.76,49.05 394.95,49.14 393.24,50.50 393.82,52.61 392.00,51.40 390.18,52.61 390.76,50.50 389.05,49.14 391.24,49.05" fill="#111"/><polygon points="434.20,45.40 434.96,47.45 437.15,47.54 435.44,48.90 436.02,51.01 434.20,49.80 432.38,51.01 432.96,48.90 431.25,47.54 433.44,47.45" fill="#111"/><polygon points="440.70,45.40 441.46,47.45 443.65,47.54 441.94,48.90 442.52,51.01 440.70,49.80 438.88,51.01 439.46,48.90 437.75,47.54 439.94,47.45" fill="#111"/><polygon points="454.70,38.40 455.46,40.45 457.65,40.54 455.94,41.90 456.52,44.01 454.70,42.80 452.88,44.01 453.46,41.90 451.75,40.54 453.94,40.45" fill="#111"/><polygon points="461.30,38.40 462.06,40.45 464.25,40.54 462.54,41.90 463.12,44.01 461.30,42.80 459.48,44.01 460.06,41.90 458.35,40.54 460.54,40.45" fill="#111"/><line x1="385.8" y1="172.5" x2="385.8" y2="175.0" stroke="#777"/><line x1="452.4" y1="172.5" x2="452.4" y2="175.0" stroke="#777"/><text x="369.0" y="186.3" class="xl" textLength="33.6" lengthAdjust="spacingAndGlyphs">CD85j</text><text x="445.0" y="186.3" class="xl" textLength="20.9" lengthAdjust="spacingAndGlyphs">KIR</text><rect x="309.5" y="198.5" width="94" height="56.5" fill="#fff" stroke="#777" stroke-width="1"/><rect x="314.8" y="205.8" width="21.8" height="5" fill="#000" stroke="#000" stroke-width="0.9"/><text x="342.2" y="211.9" class="lg" textLength="48.6" lengthAdjust="spacingAndGlyphs">T NKG2C+</text><rect x="314.8" y="218.1" width="21.8" height="5" fill="#c6c6c6" stroke="#777" stroke-width="0.9"/><text x="342.2" y="224.0" class="lg" textLength="48.6" lengthAdjust="spacingAndGlyphs">T NKG2A+</text><rect x="314.8" y="230.4" width="21.8" height="5" fill="#606060" stroke="#333" stroke-width="0.9"/><text x="342.2" y="236.1" class="lg" textLength="56.6" lengthAdjust="spacingAndGlyphs">NK NKG2C+</text><rect x="314.8" y="242.7" width="21.8" height="5" fill="#fff" stroke="#666" stroke-width="0.9"/><text x="342.2" y="248.2" class="lg" textLength="56.6" lengthAdjust="spacingAndGlyphs">NK NKG2A+</text></svg>
</body></html>
